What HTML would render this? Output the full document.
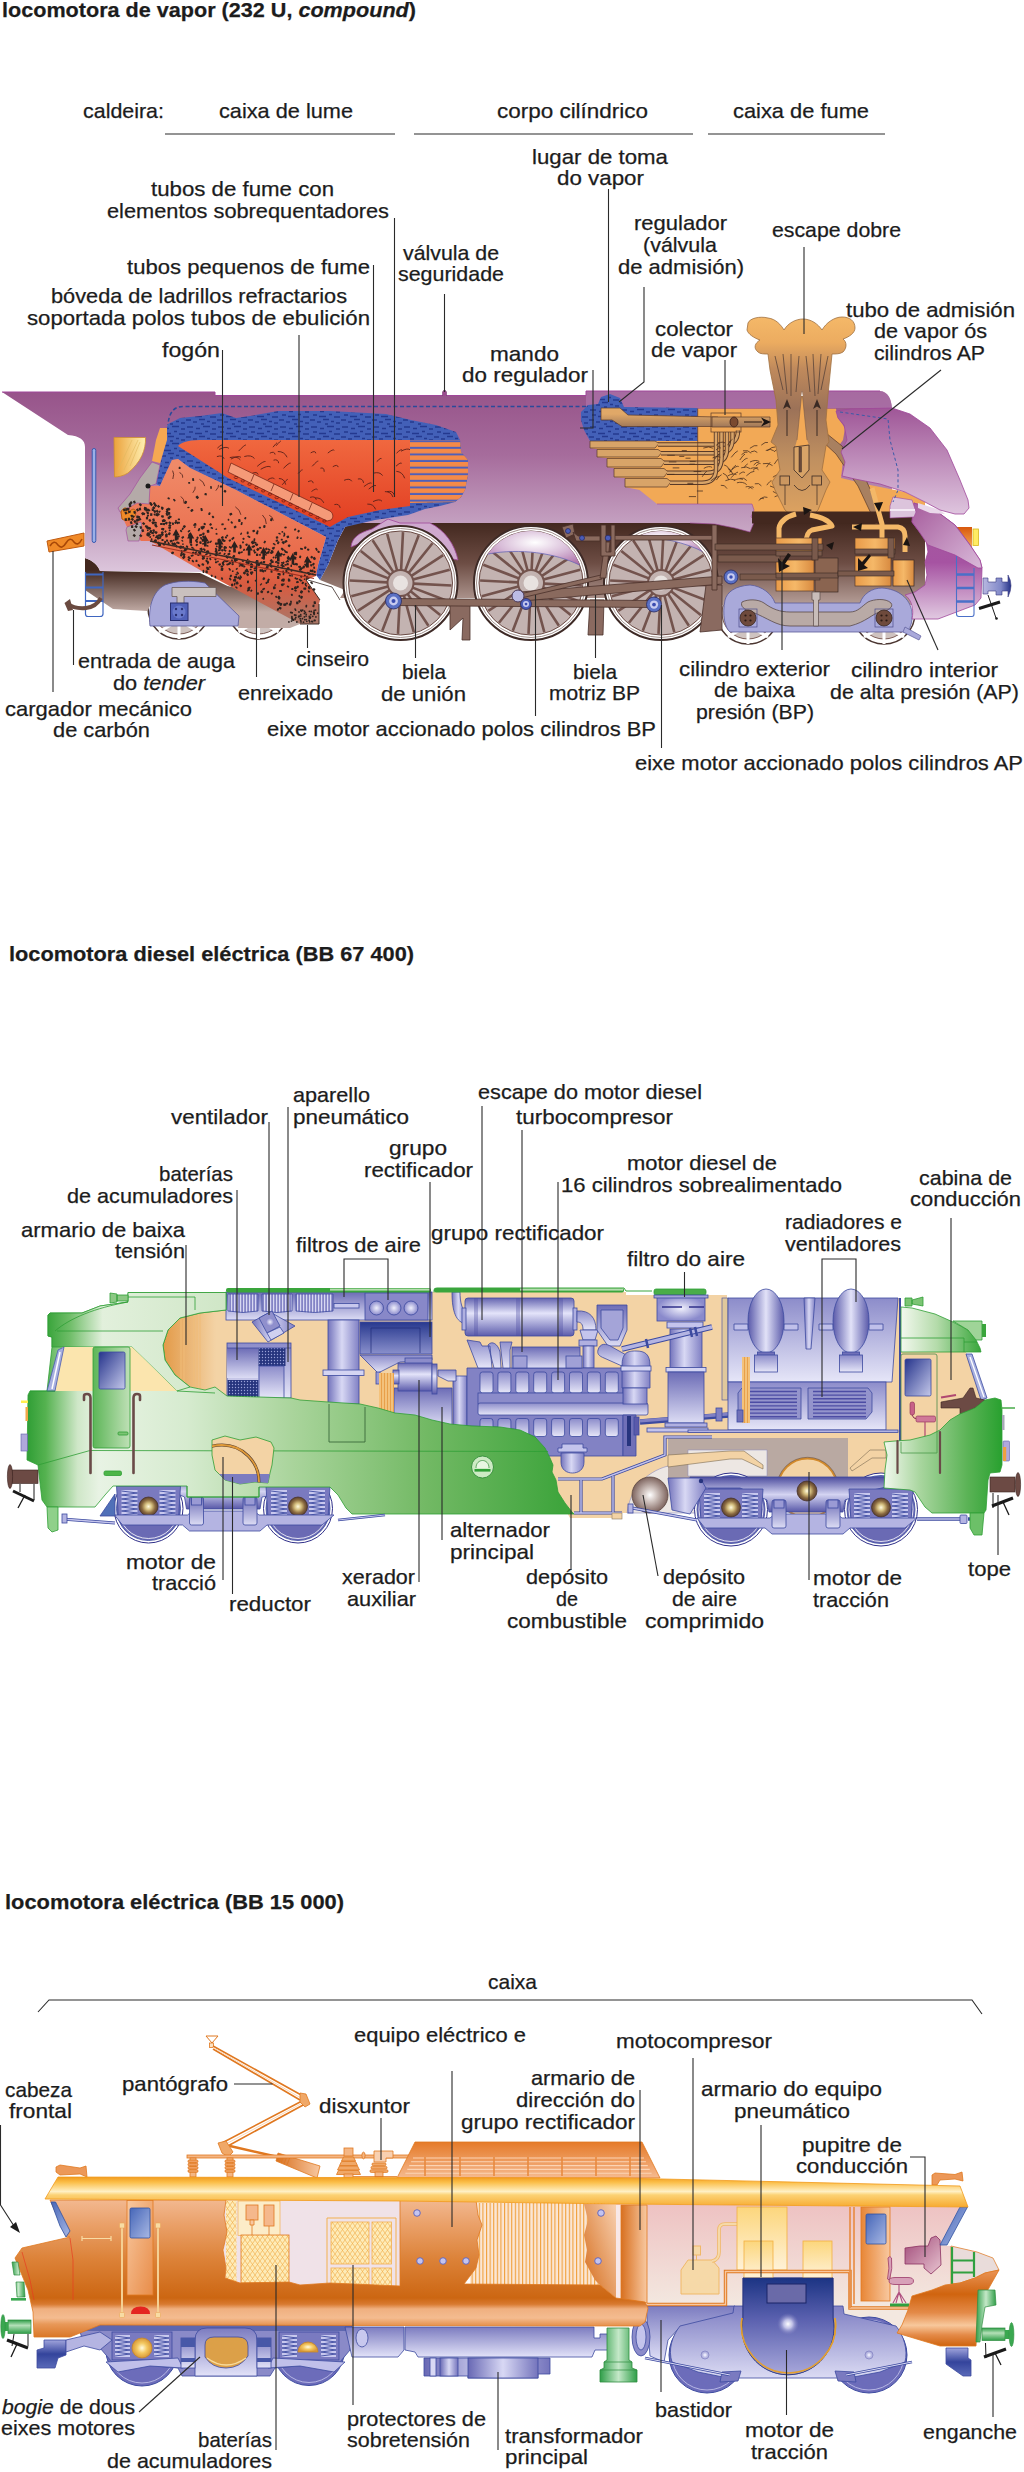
<!DOCTYPE html>
<html><head><meta charset="utf-8"><title>locomotoras</title>
<style>
html,body{margin:0;padding:0;background:#fff}
svg{display:block}
text{font-family:"Liberation Sans",sans-serif;font-size:21px;fill:#1c1c1c;stroke:#1c1c1c;stroke-width:.25px}
.b{font-weight:bold}.i{font-style:italic}.bi{font-weight:bold;font-style:italic}
.ld{fill:none;stroke:#2a2a2a;stroke-width:1.1}
</style></head><body>
<svg width="1024" height="2472" viewBox="0 0 1024 2472">
<rect width="1024" height="2472" fill="#fff"/>

<defs>
<linearGradient id="pur" x1="0" y1="392" x2="0" y2="572" gradientUnits="userSpaceOnUse"><stop offset="0" stop-color="#97548a"/><stop offset=".35" stop-color="#a66c9c"/><stop offset=".73" stop-color="#c4a0c0"/><stop offset="1" stop-color="#dcc6dc"/></linearGradient>
<linearGradient id="nose1" x1="0" y1="408" x2="0" y2="515" gradientUnits="userSpaceOnUse"><stop offset="0" stop-color="#9f5697"/><stop offset="1" stop-color="#dfc6df"/></linearGradient>
<linearGradient id="nose2" x1="0" y1="505" x2="0" y2="620" gradientUnits="userSpaceOnUse"><stop offset="0" stop-color="#a45a9e"/><stop offset=".5" stop-color="#a653a2"/><stop offset="1" stop-color="#e2cbe2"/></linearGradient>
<linearGradient id="nose2b" x1="915" y1="505" x2="980" y2="570" gradientUnits="userSpaceOnUse"><stop offset="0" stop-color="#a8609f"/><stop offset="1" stop-color="#d9b9d9"/></linearGradient>
<linearGradient id="brn" x1="0" y1="523" x2="0" y2="612" gradientUnits="userSpaceOnUse"><stop offset="0" stop-color="#43281f"/><stop offset=".45" stop-color="#6d4d44"/><stop offset="1" stop-color="#c2aca6"/></linearGradient>
<linearGradient id="brnL" x1="0" y1="570" x2="0" y2="612" gradientUnits="userSpaceOnUse"><stop offset="0" stop-color="#43281f"/><stop offset="1" stop-color="#c2aca6"/></linearGradient>
<linearGradient id="red" x1="0" y1="440" x2="0" y2="525" gradientUnits="userSpaceOnUse"><stop offset="0" stop-color="#f0683f"/><stop offset="1" stop-color="#e23e22"/></linearGradient>
<linearGradient id="coal" x1="0" y1="465" x2="0" y2="625" gradientUnits="userSpaceOnUse"><stop offset="0" stop-color="#f08a68"/><stop offset=".6" stop-color="#e96a4a"/><stop offset=".75" stop-color="#d85b40"/><stop offset="1" stop-color="#a8786a"/></linearGradient>
<linearGradient id="smk" x1="0" y1="318" x2="0" y2="520" gradientUnits="userSpaceOnUse"><stop offset="0" stop-color="#f4b868"/><stop offset=".12" stop-color="#ecac60"/><stop offset=".25" stop-color="#c08a5c"/><stop offset=".45" stop-color="#9c7258"/><stop offset=".7" stop-color="#c09060"/><stop offset="1" stop-color="#e0a460"/></linearGradient>
<linearGradient id="win" x1="114" y1="0" x2="146" y2="0" gradientUnits="userSpaceOnUse"><stop offset="0" stop-color="#eba23c"/><stop offset="1" stop-color="#fff2b4"/></linearGradient>
<linearGradient id="pipe" x1="0" y1="414" x2="0" y2="428" gradientUnits="userSpaceOnUse"><stop offset="0" stop-color="#e0a868"/><stop offset="1" stop-color="#9a7458"/></linearGradient>
<linearGradient id="cyl" x1="0" y1="0" x2="1" y2="0"><stop offset="0" stop-color="#e89a48"/><stop offset=".5" stop-color="#f5b868"/><stop offset="1" stop-color="#d88a40"/></linearGradient>
<linearGradient id="buf" x1="983" y1="0" x2="1013" y2="0" gradientUnits="userSpaceOnUse"><stop offset="0" stop-color="#b8b8e0"/><stop offset=".6" stop-color="#8088c8"/><stop offset="1" stop-color="#14227a"/></linearGradient>
<linearGradient id="lamp" x1="0" y1="527" x2="0" y2="548" gradientUnits="userSpaceOnUse"><stop offset="0" stop-color="#d8580c"/><stop offset="1" stop-color="#f4a858"/></linearGradient>
<radialGradient id="spl" cx=".5" cy=".45" r=".55"><stop offset="0" stop-color="#ffffff"/><stop offset=".5" stop-color="#d8bcd8"/><stop offset="1" stop-color="#a868a4"/></radialGradient>
<pattern id="wdash" width="31" height="17" patternUnits="userSpaceOnUse"><rect width="31" height="17" fill="#4360b8"/><path d="M1,2h6M10,3.500h4M17,1.500h7M26,4h4M3,7h4M9,8.500h7M19,6.500h3M24,9h6M0,12h5M7,14h4M13,11.500h6M21,13.500h3M26,15h4M15,16h3" stroke="#24398f" stroke-width="1.300"/></pattern>
<pattern id="stripes" width="6" height="6.6" patternUnits="userSpaceOnUse"><rect width="6" height="6.6" fill="#f58a48"/><rect y="4.6" width="6" height="2" fill="#5060b8"/></pattern>
<clipPath id="c_w1"><circle cx="400.5" cy="583" r="52"/></clipPath>
<clipPath id="c_w2"><circle cx="531" cy="583" r="52"/></clipPath>
<clipPath id="c_w3"><circle cx="661" cy="583" r="52"/></clipPath>
</defs>
<g id="loco1">
<circle cx="179" cy="608" r="31" fill="#fff" stroke="#4a3530" stroke-width="1.5"/><circle cx="179" cy="608" r="26" fill="#cfc3c0" stroke="#7d5d57" stroke-width="1"/>
<path d="M179,608v31M179,620l-20,12M179,620l20,12" stroke="#fff" stroke-width="3"/>
<circle cx="258.5" cy="608" r="31" fill="#fff" stroke="#4a3530" stroke-width="1.5"/><circle cx="258.5" cy="608" r="26" fill="#cfc3c0" stroke="#7d5d57" stroke-width="1"/>
<path d="M258.5,608v31M258.5,620l-20,12M258.5,620l20,12" stroke="#fff" stroke-width="3"/>
<circle cx="748" cy="613" r="31" fill="#fff" stroke="#4a3530" stroke-width="1.5"/><circle cx="748" cy="613" r="26" fill="#cfc3c0" stroke="#7d5d57" stroke-width="1"/>
<path d="M748,613v31M748,625l-20,12M748,625l20,12" stroke="#fff" stroke-width="3"/>
<circle cx="884" cy="613" r="31" fill="#fff" stroke="#4a3530" stroke-width="1.5"/><circle cx="884" cy="613" r="26" fill="#cfc3c0" stroke="#7d5d57" stroke-width="1"/>
<path d="M884,613v31M884,625l-20,12M884,625l20,12" stroke="#fff" stroke-width="3"/>
<path d="M338,540 L345,527 L352,523 L925,523 L925,605 L720,605 L700,598 L340,598 L345,590 L320,580 L328,565 Z" fill="url(#brn)"/>
<path d="M85,558 C92,560 98,565 100,571 L200,573 L236,590 L236,620 L150,626 C148,615 150,600 160,590 L147,611 L113,609 L85,590 Z" fill="url(#brnL)"/>
<path d="M205,583 L239,616 L238,628 L290,628 L300,624 L240,588 Z" fill="url(#brnL)"/>
<path d="M2,392 L215,392 L215,395.5 L586,395.5 L586,391 L880,391 C888,392 891,398 892,408 L892,523 L352,523 L345,527 L338,540 L328,565 L320,573 L100,571 C98,565 92,560 85,558 L85,447 C85,440 80,436 68,435 Z" fill="url(#pur)"/>
<path d="M586,391 L880,391 C888,392 891,398 892,408 L586,408 Z" fill="#b07ab0" opacity=".6"/>
<path d="M0,0" />
<path d="M2,392 L215,392 L215,395.5 L586,395.5 L586,391 L880,391" fill="none" stroke="#a0479a" stroke-width="1"/>
<path d="M586,406.5 L185,406.5 C174,406 169,412 168,425" fill="none" stroke="#2a4a9a" stroke-width="1.6" stroke-dasharray="4,2.5"/>
<path d="M351,547 C352,538 358,533 372,529 L388,519 L400,523 L430,523 C445,530 455,545 458,560 L447,558 L400,526 Z" fill="#cfa9cf" stroke="#a0479a" stroke-width=".8"/>
<circle cx="400.5" cy="583" r="57" fill="#fff" stroke="#3e2a26" stroke-width="2"/>
<circle cx="400.5" cy="583" r="54.5" fill="none" stroke="#8a7570" stroke-width=".8"/>
<circle cx="400.5" cy="583" r="52" fill="#c3b3b1" stroke="#6a4a44" stroke-width="1"/>
<path d="M413.5,583.6L451.4,585.5M412.6,587.6L448.2,601.2M410.6,591.2L440.2,615.0M407.6,593.9L428.4,625.7M403.9,595.5L413.8,632.2M399.9,596.0L398.0,633.9M395.9,595.1L382.3,630.7M392.3,593.1L368.5,622.7M389.6,590.1L357.8,610.9M388.0,586.4L351.3,596.3M387.5,582.4L349.6,580.5M388.4,578.4L352.8,564.8M390.4,574.8L360.8,551.0M393.4,572.1L372.6,540.3M397.1,570.5L387.2,533.8M401.1,570.0L403.0,532.1M405.1,570.9L418.7,535.3M408.7,572.9L432.5,543.3M411.4,575.9L443.2,555.1M413.0,579.6L449.7,569.7" stroke="#73534d" stroke-width="2.6"/>
<circle cx="400.5" cy="583" r="13" fill="#c3b3b1" stroke="#73534d" stroke-width="2"/>
<circle cx="400.5" cy="583" r="7.5" fill="#e8e2e0"/>
<circle cx="531" cy="583" r="57" fill="#fff" stroke="#3e2a26" stroke-width="2"/>
<circle cx="531" cy="583" r="54.5" fill="none" stroke="#8a7570" stroke-width=".8"/>
<circle cx="531" cy="583" r="52" fill="#c3b3b1" stroke="#6a4a44" stroke-width="1"/>
<path d="M544.0,583.6L581.9,585.5M543.1,587.6L578.7,601.2M541.1,591.2L570.7,615.0M538.1,593.9L558.9,625.7M534.4,595.5L544.3,632.2M530.4,596.0L528.5,633.9M526.4,595.1L512.8,630.7M522.8,593.1L499.0,622.7M520.1,590.1L488.3,610.9M518.5,586.4L481.8,596.3M518.0,582.4L480.1,580.5M518.9,578.4L483.3,564.8M520.9,574.8L491.3,551.0M523.9,572.1L503.1,540.3M527.6,570.5L517.7,533.8M531.6,570.0L533.5,532.1M535.6,570.9L549.2,535.3M539.2,572.9L563.0,543.3M541.9,575.9L573.7,555.1M543.5,579.6L580.2,569.7" stroke="#73534d" stroke-width="2.6"/>
<circle cx="531" cy="583" r="13" fill="#c3b3b1" stroke="#73534d" stroke-width="2"/>
<circle cx="531" cy="583" r="7.5" fill="#e8e2e0"/>
<circle cx="661" cy="583" r="57" fill="#fff" stroke="#3e2a26" stroke-width="2"/>
<circle cx="661" cy="583" r="54.5" fill="none" stroke="#8a7570" stroke-width=".8"/>
<circle cx="661" cy="583" r="52" fill="#c3b3b1" stroke="#6a4a44" stroke-width="1"/>
<path d="M674.0,583.6L711.9,585.5M673.1,587.6L708.7,601.2M671.1,591.2L700.7,615.0M668.1,593.9L688.9,625.7M664.4,595.5L674.3,632.2M660.4,596.0L658.5,633.9M656.4,595.1L642.8,630.7M652.8,593.1L629.0,622.7M650.1,590.1L618.3,610.9M648.5,586.4L611.8,596.3M648.0,582.4L610.1,580.5M648.9,578.4L613.3,564.8M650.9,574.8L621.3,551.0M653.9,572.1L633.1,540.3M657.6,570.5L647.7,533.8M661.6,570.0L663.5,532.1M665.6,570.9L679.2,535.3M669.2,572.9L693.0,543.3M671.9,575.9L703.7,555.1M673.5,579.6L710.2,569.7" stroke="#73534d" stroke-width="2.6"/>
<circle cx="661" cy="583" r="13" fill="#c3b3b1" stroke="#73534d" stroke-width="2"/>
<circle cx="661" cy="583" r="7.5" fill="#e8e2e0"/>
<g clip-path="url(#c_w2)"><path d="M470,520 L600,520 L600,570 L579.5,565 C555,553 520,548 488,554 L470,560 Z" fill="url(#spl)" stroke="#6a68b8" stroke-width=".8"/></g>
<g clip-path="url(#c_w3)"><path d="M600,520 L720,520 L720,560 L704.5,552.5 C685,542 660,537 634.5,536 L600,536 Z" fill="url(#spl)" stroke="#6a68b8" stroke-width=".8"/></g>
<g clip-path="url(#c_w1)"><path d="M352,546 C365,540 380,532 400,528 C425,532 440,540 447,556 L460,556 L460,520 L340,520 Z" fill="#cfa9cf" opacity=".0"/></g>
<path d="M450,600 L470,600 L470,640 L462,640 L463,618 L450,630 Z" fill="#8a6a60" stroke="#4a302a" stroke-width=".8"/>
<path d="M590,600 L604,600 L603,635 L588,635 Z" fill="#8a6a60" stroke="#4a302a" stroke-width=".8"/>
<path d="M706,585 L722,585 L722,630 L700,632 Z" fill="#8a6a60" stroke="#4a302a" stroke-width=".8"/>
<g stroke="#4a302a" stroke-width=".8" fill="#8a6a5e">
<path d="M393,598.5 L653,600.5 L653,607.5 L393,605.5 Z"/>
<path d="M520,592 L722,576 L722,584 L522,601 Z"/>
<path d="M520,594 L601,575 L602,579 L521,598 Z"/>
<path d="M600,578 L606,578 L610,542 L605,542 Z"/>
<path d="M608,535.5 L716,535.5 L716,540 L608,540 Z"/>
<path d="M712,525 L717,525 L717,590 L712,590 Z"/>
<path d="M562,527 L573,524 L575,534 L566,538 Z"/>
<path d="M573,532 L578,536 L600,536 L600,541 L576,541 Z"/>
<path d="M601,525 L606,525 L606,552 L611,552 L611,525 L615,525 L615,556 L601,556 Z"/>
</g>
<circle cx="393.5" cy="601" r="8" fill="#5a70c4" stroke="#2a2a60" stroke-width=".8"/>
<circle cx="393.5" cy="601" r="4.4" fill="#c8ccf0"/><circle cx="393.5" cy="601" r="2" fill="#3a4cb0"/>
<circle cx="526" cy="604" r="5.5" fill="#4a5cb8" stroke="#2a2a60" stroke-width=".8"/>
<circle cx="526" cy="604" r="3.025" fill="#c8ccf0"/><circle cx="526" cy="604" r="1.375" fill="#3a4cb0"/>
<circle cx="654" cy="604.5" r="7.5" fill="#5a70c4" stroke="#2a2a60" stroke-width=".8"/>
<circle cx="654" cy="604.5" r="4.125" fill="#c8ccf0"/><circle cx="654" cy="604.5" r="1.875" fill="#3a4cb0"/>
<circle cx="568" cy="531" r="2.5" fill="#4a5cb8" stroke="#2a2a60" stroke-width=".8"/>
<circle cx="582" cy="538" r="2.5" fill="#4a5cb8" stroke="#2a2a60" stroke-width=".8"/>
<circle cx="608" cy="538" r="2.8" fill="#4a5cb8" stroke="#2a2a60" stroke-width=".8"/>
<circle cx="731" cy="577" r="7" fill="#5a70c4" stroke="#2a2a60" stroke-width=".8"/>
<circle cx="731" cy="577" r="3.85" fill="#c8ccf0"/><circle cx="731" cy="577" r="1.75" fill="#3a4cb0"/>
<circle cx="518" cy="596" r="6" fill="#bcbce4" stroke="#4a3a5a" stroke-width="1"/>
<path d="M166,430 L168,424 L180,418 L200,416 L222,413 L236,418 L250,416 L278,411 L330,411 L386,414 L411,420 L436,425 L456,432 L460,440 L461,452 L468,460 L468,475 L465,490 L461,497 L455,502 L440,506 L425,509 L408,515 L375,520 L345,527 L338,540 L328,565 L320,580 L316,575 L318,565 L326,537 L236,490 L190,468 L178,459 L172,460 L165,475 L160,486 L156,484 L160,465 L165,445 Z" fill="url(#wdash)"/>
<path d="M178,446 C183,441 190,440 205,440 L410,440 L410,506 L380,510 L348,517 L335,524 L330,527 L228,478 Z" fill="url(#red)"/>
<path d="M269.8,453.2q4.6,-2.4 5.3,1.3M312.2,466.3q5.1,-5.6 6.1,-5.2M219.0,449.5q6.9,-3.6 9.9,-1.2M229.8,457.6q7.2,-1.9 10.5,2.2M320.4,468.2q3.9,-1.2 3.8,3.6M376.7,461.7q4.4,-4.5 4.8,-3.1M332.8,466.7q4.7,-2.8 5.4,0.4M216.9,456.6q5.6,-1.9 7.3,2.2M267.8,479.7q5.4,-3.3 6.8,-0.5M363.9,486.6q5.9,-4.7 7.7,-3.4M310.0,497.4q5.1,-1.8 6.3,2.4M401.0,451.2q6.7,-3.6 9.5,-1.2M357.9,479.0q4.8,-1.1 5.7,3.9M344.1,480.3q5.8,-2.5 7.7,1.0M373.0,501.6q6.5,-3.2 9.0,-0.4M334.4,504.6q4.9,-1.3 5.8,3.3M282.2,484.8q4.8,-5.7 5.6,-5.4M238.6,451.1q5.7,-6.1 7.3,-6.2M230.9,459.1q7.0,-3.9 10.1,-1.8M314.9,497.9q6.4,-0.5 8.9,5.0M260.7,469.3q7.0,-4.2 10.0,-2.3M396.5,453.2q4.8,-4.6 5.6,-3.2M251.7,473.6q5.3,-2.5 6.5,0.9M278.9,478.5q5.4,0.0 6.8,6.1M308.1,481.7q4.6,-2.3 5.1,1.5M384.9,491.6q6.0,-0.2 8.1,5.5M283.5,468.3q5.5,-5.6 7.1,-5.2M217.4,448.1q4.7,-4.3 5.3,-2.7M273.0,447.2q4.1,-5.1 4.1,-4.2M327.8,453.1q5.3,-4.4 6.5,-2.7M277.8,451.5q6.6,-0.1 9.3,5.8M298.2,473.5q4.2,-4.7 4.4,-3.5M273.5,460.2q4.6,-1.5 5.2,3.0M310.7,452.9q4.6,-2.8 5.1,0.4M310.6,503.7q5.8,-0.5 7.7,5.0M257.2,466.4q6.1,-5.4 8.3,-4.9M311.5,491.5q5.1,-3.9 6.1,-1.7M367.3,504.1q6.2,-0.4 8.3,5.3M368.7,489.1q5.7,-4.7 7.3,-3.4M276.1,445.8q4.4,-5.3 4.9,-4.6M396.3,471.3q6.2,0.5 8.4,7.0M396.0,466.2q4.9,-4.4 5.7,-2.8M244.3,456.5q7.1,-2.0 10.2,2.1M373.1,473.2q6.8,-1.8 9.5,2.4M387.0,491.7q5.6,-1.5 7.2,3.1" fill="none" stroke="#5a2018" stroke-width=".9"/>
<path d="M410,440 L460,440 L461,452 L468,460 L468,475 L465,490 L461,497 L455,502 L410,503 Z" fill="url(#stripes)"/>
<path d="M231,463 L330,511 C333,513 334,517 331,520 L327,521 L228,472 Z" fill="#f59a78" stroke="#7a2a1a" stroke-width=".8"/>
<path d="M254,474.5l-3,7M274,484l-3,7M293,493.5l-3,7M312,503l-3,7" stroke="#7a2a1a" stroke-width=".8"/>
<ellipse cx="236.0" cy="477.5" rx="1.8" ry="1.1" fill="none" stroke="#6a1a10" stroke-width=".7"/><ellipse cx="242.8" cy="480.9" rx="1.8" ry="1.1" fill="none" stroke="#6a1a10" stroke-width=".7"/><ellipse cx="249.6" cy="484.2" rx="1.8" ry="1.1" fill="none" stroke="#6a1a10" stroke-width=".7"/><ellipse cx="256.4" cy="487.6" rx="1.8" ry="1.1" fill="none" stroke="#6a1a10" stroke-width=".7"/><ellipse cx="263.2" cy="490.9" rx="1.8" ry="1.1" fill="none" stroke="#6a1a10" stroke-width=".7"/><ellipse cx="270.0" cy="494.2" rx="1.8" ry="1.1" fill="none" stroke="#6a1a10" stroke-width=".7"/><ellipse cx="276.8" cy="497.6" rx="1.8" ry="1.1" fill="none" stroke="#6a1a10" stroke-width=".7"/><ellipse cx="283.6" cy="500.9" rx="1.8" ry="1.1" fill="none" stroke="#6a1a10" stroke-width=".7"/><ellipse cx="290.4" cy="504.3" rx="1.8" ry="1.1" fill="none" stroke="#6a1a10" stroke-width=".7"/><ellipse cx="297.2" cy="507.6" rx="1.8" ry="1.1" fill="none" stroke="#6a1a10" stroke-width=".7"/><ellipse cx="304.0" cy="511.0" rx="1.8" ry="1.1" fill="none" stroke="#6a1a10" stroke-width=".7"/><ellipse cx="310.8" cy="514.4" rx="1.8" ry="1.1" fill="none" stroke="#6a1a10" stroke-width=".7"/><ellipse cx="317.6" cy="517.7" rx="1.8" ry="1.1" fill="none" stroke="#6a1a10" stroke-width=".7"/><ellipse cx="324.4" cy="521.0" rx="1.8" ry="1.1" fill="none" stroke="#6a1a10" stroke-width=".7"/>
<path d="M172,460 L178,459 L190,468 L236,490 L326,537 L318,565 L316,576 L306,580 L320,600 L319,604 L319,624 L300,624 L200,570 L150,541 L141,541 L127,527 L120,512 L137,503 L149,504 L150,486 L160,486 L165,475 Z" fill="url(#coal)"/>
<path d="M152,462 L160,465 L156,484 L150,486 L149,504 L137,503 L120,512 L118,508 L130,494 L140,478 Z" fill="#b4aaa8" stroke="#a0479a" stroke-width=".6"/>
<path d="M127,527 L141,522 L142,528 L139,541 L128,541 L126,530 Z" fill="#b4aaa8" stroke="#a0479a" stroke-width=".6"/>
<path d="M160,428 L167,428 L167,440 L160,463 L152,461 L156,440 Z" fill="#f5a852"/>
<circle cx="148" cy="486" r="2.5" fill="#1a1a1a"/>
<path d="M121,512 C124,505 130,508 128,514 C132,506 138,509 135,516 C133,520 126,522 122,519 Z" fill="#f08a28" stroke="#b85a10" stroke-width="1"/>
<g fill="#2e2420"><rect x="303.3" y="591.3" width="2.9" height="2.6" rx=".6" transform="rotate(118 303.3 591.3)"/><rect x="194.0" y="547.7" width="1.6" height="2.6" rx=".6" transform="rotate(117 194.0 547.7)"/><rect x="211.7" y="485.9" width="2.9" height="1.6" rx=".6" transform="rotate(85 211.7 485.9)"/><rect x="267.9" y="549.0" width="2.4" height="2.1" rx=".6" transform="rotate(141 267.9 549.0)"/><rect x="149.0" y="529.7" width="2.0" height="1.5" rx=".6" transform="rotate(121 149.0 529.7)"/><rect x="279.4" y="606.6" width="2.7" height="2.2" rx=".6" transform="rotate(26 279.4 606.6)"/><rect x="210.0" y="542.1" width="1.9" height="1.8" rx=".6" transform="rotate(130 210.0 542.1)"/><rect x="190.3" y="560.4" width="1.7" height="2.6" rx=".6" transform="rotate(142 190.3 560.4)"/><rect x="237.4" y="573.4" width="1.7" height="2.2" rx=".6" transform="rotate(77 237.4 573.4)"/><rect x="250.0" y="590.5" width="3.0" height="1.5" rx=".6" transform="rotate(155 250.0 590.5)"/><rect x="182.1" y="539.5" width="2.2" height="1.4" rx=".6" transform="rotate(45 182.1 539.5)"/><rect x="289.0" y="574.4" width="2.2" height="1.8" rx=".6" transform="rotate(10 289.0 574.4)"/><rect x="316.6" y="547.5" width="3.1" height="1.8" rx=".6" transform="rotate(64 316.6 547.5)"/><rect x="218.5" y="540.0" width="2.4" height="1.4" rx=".6" transform="rotate(48 218.5 540.0)"/><rect x="269.6" y="592.3" width="2.4" height="2.0" rx=".6" transform="rotate(150 269.6 592.3)"/><rect x="300.9" y="570.4" width="2.0" height="1.4" rx=".6" transform="rotate(24 300.9 570.4)"/><rect x="248.4" y="570.0" width="1.6" height="2.4" rx=".6" transform="rotate(135 248.4 570.0)"/><rect x="185.0" y="551.0" width="1.7" height="1.7" rx=".6" transform="rotate(121 185.0 551.0)"/><rect x="261.4" y="569.2" width="2.4" height="2.0" rx=".6" transform="rotate(84 261.4 569.2)"/><rect x="301.8" y="537.2" width="1.6" height="2.0" rx=".6" transform="rotate(81 301.8 537.2)"/><rect x="307.5" y="575.5" width="2.1" height="1.8" rx=".6" transform="rotate(71 307.5 575.5)"/><rect x="196.1" y="527.3" width="1.7" height="1.5" rx=".6" transform="rotate(150 196.1 527.3)"/><rect x="184.3" y="549.2" width="1.9" height="1.6" rx=".6" transform="rotate(37 184.3 549.2)"/><rect x="292.2" y="602.5" width="1.7" height="2.3" rx=".6" transform="rotate(161 292.2 602.5)"/><rect x="218.2" y="554.2" width="2.2" height="2.5" rx=".6" transform="rotate(149 218.2 554.2)"/><rect x="267.2" y="564.4" width="2.3" height="2.1" rx=".6" transform="rotate(7 267.2 564.4)"/><rect x="306.2" y="564.1" width="1.8" height="1.7" rx=".6" transform="rotate(115 306.2 564.1)"/><rect x="314.2" y="574.1" width="1.6" height="2.0" rx=".6" transform="rotate(121 314.2 574.1)"/><rect x="207.8" y="570.4" width="2.9" height="2.3" rx=".6" transform="rotate(91 207.8 570.4)"/><rect x="153.8" y="521.5" width="3.2" height="1.6" rx=".6" transform="rotate(9 153.8 521.5)"/><rect x="190.3" y="483.6" width="2.0" height="1.8" rx=".6" transform="rotate(172 190.3 483.6)"/><rect x="286.9" y="528.1" width="2.4" height="1.8" rx=".6" transform="rotate(166 286.9 528.1)"/><rect x="284.9" y="584.6" width="1.7" height="1.5" rx=".6" transform="rotate(166 284.9 584.6)"/><rect x="187.3" y="501.6" width="2.8" height="2.5" rx=".6" transform="rotate(114 187.3 501.6)"/><rect x="277.2" y="557.6" width="2.1" height="1.8" rx=".6" transform="rotate(141 277.2 557.6)"/><rect x="242.4" y="559.8" width="2.2" height="1.6" rx=".6" transform="rotate(37 242.4 559.8)"/><rect x="233.4" y="563.0" width="1.9" height="2.2" rx=".6" transform="rotate(74 233.4 563.0)"/><rect x="186.5" y="550.7" width="2.3" height="2.4" rx=".6" transform="rotate(179 186.5 550.7)"/><rect x="198.1" y="540.3" width="2.1" height="2.0" rx=".6" transform="rotate(167 198.1 540.3)"/><rect x="235.8" y="583.0" width="2.9" height="1.5" rx=".6" transform="rotate(108 235.8 583.0)"/><rect x="233.4" y="561.0" width="2.3" height="2.1" rx=".6" transform="rotate(77 233.4 561.0)"/><rect x="278.7" y="532.5" width="2.4" height="1.5" rx=".6" transform="rotate(23 278.7 532.5)"/><rect x="212.1" y="541.2" width="2.6" height="1.5" rx=".6" transform="rotate(132 212.1 541.2)"/><rect x="278.2" y="541.4" width="2.4" height="1.9" rx=".6" transform="rotate(171 278.2 541.4)"/><rect x="247.9" y="535.3" width="3.1" height="1.7" rx=".6" transform="rotate(27 247.9 535.3)"/><rect x="296.6" y="587.2" width="2.0" height="1.4" rx=".6" transform="rotate(116 296.6 587.2)"/><rect x="279.2" y="575.9" width="3.0" height="2.3" rx=".6" transform="rotate(84 279.2 575.9)"/><rect x="311.1" y="581.1" width="3.0" height="1.8" rx=".6" transform="rotate(43 311.1 581.1)"/><rect x="267.8" y="551.4" width="1.9" height="2.1" rx=".6" transform="rotate(14 267.8 551.4)"/><rect x="286.5" y="605.6" width="3.0" height="2.5" rx=".6" transform="rotate(170 286.5 605.6)"/><rect x="287.5" y="561.7" width="1.8" height="1.5" rx=".6" transform="rotate(136 287.5 561.7)"/><rect x="161.4" y="538.6" width="2.9" height="1.7" rx=".6" transform="rotate(170 161.4 538.6)"/><rect x="280.2" y="572.8" width="2.6" height="1.8" rx=".6" transform="rotate(72 280.2 572.8)"/><rect x="171.0" y="532.9" width="2.8" height="2.3" rx=".6" transform="rotate(116 171.0 532.9)"/><rect x="193.7" y="510.2" width="2.9" height="2.2" rx=".6" transform="rotate(134 193.7 510.2)"/><rect x="263.5" y="597.6" width="1.8" height="1.7" rx=".6" transform="rotate(59 263.5 597.6)"/><rect x="281.6" y="578.9" width="1.9" height="2.2" rx=".6" transform="rotate(19 281.6 578.9)"/><rect x="165.7" y="520.6" width="2.2" height="2.3" rx=".6" transform="rotate(125 165.7 520.6)"/><rect x="223.6" y="561.9" width="1.8" height="2.1" rx=".6" transform="rotate(73 223.6 561.9)"/><rect x="209.7" y="552.0" width="2.3" height="1.7" rx=".6" transform="rotate(130 209.7 552.0)"/><rect x="292.9" y="569.9" width="2.3" height="1.8" rx=".6" transform="rotate(113 292.9 569.9)"/><rect x="265.5" y="561.4" width="2.3" height="1.9" rx=".6" transform="rotate(112 265.5 561.4)"/><rect x="179.0" y="522.5" width="2.3" height="1.9" rx=".6" transform="rotate(126 179.0 522.5)"/><rect x="217.4" y="550.0" width="3.1" height="1.8" rx=".6" transform="rotate(115 217.4 550.0)"/><rect x="183.0" y="547.7" width="2.9" height="1.8" rx=".6" transform="rotate(153 183.0 547.7)"/><rect x="177.7" y="518.6" width="2.3" height="1.6" rx=".6" transform="rotate(0 177.7 518.6)"/><rect x="209.4" y="562.7" width="2.2" height="2.5" rx=".6" transform="rotate(154 209.4 562.7)"/><rect x="303.4" y="587.5" width="2.9" height="2.2" rx=".6" transform="rotate(3 303.4 587.5)"/><rect x="280.3" y="596.8" width="2.7" height="2.0" rx=".6" transform="rotate(134 280.3 596.8)"/><rect x="152.4" y="538.3" width="2.3" height="1.6" rx=".6" transform="rotate(88 152.4 538.3)"/><rect x="217.2" y="550.1" width="2.9" height="1.8" rx=".6" transform="rotate(75 217.2 550.1)"/><rect x="250.5" y="562.5" width="2.6" height="2.2" rx=".6" transform="rotate(168 250.5 562.5)"/><rect x="250.1" y="587.5" width="2.8" height="2.5" rx=".6" transform="rotate(98 250.1 587.5)"/><rect x="246.5" y="560.9" width="2.6" height="2.2" rx=".6" transform="rotate(38 246.5 560.9)"/><rect x="305.1" y="565.8" width="2.9" height="2.3" rx=".6" transform="rotate(101 305.1 565.8)"/><rect x="197.4" y="552.2" width="2.7" height="1.6" rx=".6" transform="rotate(144 197.4 552.2)"/><rect x="288.8" y="556.6" width="2.3" height="2.5" rx=".6" transform="rotate(68 288.8 556.6)"/><rect x="208.2" y="554.1" width="3.0" height="1.5" rx=".6" transform="rotate(150 208.2 554.1)"/><rect x="284.0" y="570.7" width="2.2" height="1.5" rx=".6" transform="rotate(100 284.0 570.7)"/><rect x="258.5" y="533.6" width="2.0" height="2.3" rx=".6" transform="rotate(142 258.5 533.6)"/><rect x="283.9" y="585.5" width="2.5" height="2.5" rx=".6" transform="rotate(159 283.9 585.5)"/><rect x="204.3" y="542.4" width="1.7" height="2.6" rx=".6" transform="rotate(67 204.3 542.4)"/><rect x="220.8" y="550.9" width="2.8" height="1.9" rx=".6" transform="rotate(170 220.8 550.9)"/><rect x="242.8" y="522.2" width="3.1" height="1.7" rx=".6" transform="rotate(102 242.8 522.2)"/><rect x="303.2" y="596.5" width="2.9" height="2.3" rx=".6" transform="rotate(116 303.2 596.5)"/><rect x="310.1" y="569.4" width="2.5" height="2.3" rx=".6" transform="rotate(19 310.1 569.4)"/><rect x="152.5" y="530.6" width="3.1" height="2.4" rx=".6" transform="rotate(113 152.5 530.6)"/><rect x="219.1" y="561.2" width="2.0" height="1.5" rx=".6" transform="rotate(128 219.1 561.2)"/><rect x="158.1" y="538.0" width="3.0" height="1.5" rx=".6" transform="rotate(176 158.1 538.0)"/><rect x="289.0" y="544.0" width="2.3" height="2.5" rx=".6" transform="rotate(39 289.0 544.0)"/><rect x="244.9" y="538.7" width="1.9" height="2.1" rx=".6" transform="rotate(127 244.9 538.7)"/><rect x="284.9" y="553.5" width="1.7" height="2.3" rx=".6" transform="rotate(73 284.9 553.5)"/><rect x="229.5" y="545.8" width="3.1" height="1.7" rx=".6" transform="rotate(33 229.5 545.8)"/><rect x="243.1" y="552.4" width="2.7" height="1.5" rx=".6" transform="rotate(157 243.1 552.4)"/><rect x="237.8" y="581.2" width="2.9" height="2.5" rx=".6" transform="rotate(70 237.8 581.2)"/><rect x="208.2" y="561.9" width="2.4" height="1.5" rx=".6" transform="rotate(78 208.2 561.9)"/><rect x="216.9" y="545.2" width="1.8" height="1.6" rx=".6" transform="rotate(53 216.9 545.2)"/><rect x="290.4" y="558.1" width="2.6" height="1.6" rx=".6" transform="rotate(128 290.4 558.1)"/><rect x="215.8" y="547.6" width="2.4" height="1.8" rx=".6" transform="rotate(44 215.8 547.6)"/><rect x="168.7" y="541.6" width="2.5" height="1.4" rx=".6" transform="rotate(63 168.7 541.6)"/><rect x="234.7" y="538.0" width="3.2" height="1.8" rx=".6" transform="rotate(139 234.7 538.0)"/><rect x="296.6" y="529.4" width="2.2" height="1.9" rx=".6" transform="rotate(132 296.6 529.4)"/><rect x="296.9" y="557.6" width="2.3" height="1.9" rx=".6" transform="rotate(130 296.9 557.6)"/><rect x="161.3" y="506.4" width="2.5" height="2.1" rx=".6" transform="rotate(16 161.3 506.4)"/><rect x="258.3" y="543.8" width="2.2" height="1.9" rx=".6" transform="rotate(101 258.3 543.8)"/><rect x="287.7" y="541.6" width="3.0" height="2.2" rx=".6" transform="rotate(148 287.7 541.6)"/><rect x="225.8" y="540.3" width="1.9" height="2.2" rx=".6" transform="rotate(109 225.8 540.3)"/><rect x="163.7" y="539.1" width="2.0" height="2.2" rx=".6" transform="rotate(96 163.7 539.1)"/><rect x="158.6" y="543.3" width="2.6" height="2.4" rx=".6" transform="rotate(11 158.6 543.3)"/><rect x="211.6" y="559.8" width="1.7" height="2.5" rx=".6" transform="rotate(154 211.6 559.8)"/><rect x="182.3" y="549.9" width="2.5" height="1.9" rx=".6" transform="rotate(73 182.3 549.9)"/><rect x="226.1" y="546.7" width="2.8" height="1.9" rx=".6" transform="rotate(118 226.1 546.7)"/><rect x="151.0" y="501.7" width="2.7" height="2.2" rx=".6" transform="rotate(63 151.0 501.7)"/><rect x="194.4" y="561.3" width="1.8" height="2.5" rx=".6" transform="rotate(132 194.4 561.3)"/><rect x="289.4" y="586.2" width="1.7" height="2.4" rx=".6" transform="rotate(109 289.4 586.2)"/><rect x="248.7" y="531.5" width="2.7" height="1.9" rx=".6" transform="rotate(92 248.7 531.5)"/><rect x="263.4" y="591.2" width="2.5" height="2.6" rx=".6" transform="rotate(115 263.4 591.2)"/><rect x="195.5" y="524.6" width="2.1" height="1.6" rx=".6" transform="rotate(127 195.5 524.6)"/><rect x="172.6" y="542.1" width="3.1" height="1.8" rx=".6" transform="rotate(54 172.6 542.1)"/><rect x="233.0" y="583.5" width="2.7" height="2.1" rx=".6" transform="rotate(83 233.0 583.5)"/><rect x="275.9" y="595.5" width="2.1" height="1.8" rx=".6" transform="rotate(37 275.9 595.5)"/><rect x="188.9" y="534.2" width="1.9" height="1.5" rx=".6" transform="rotate(2 188.9 534.2)"/><rect x="318.1" y="550.3" width="2.4" height="1.9" rx=".6" transform="rotate(34 318.1 550.3)"/><rect x="306.2" y="563.9" width="3.1" height="2.2" rx=".6" transform="rotate(45 306.2 563.9)"/><rect x="236.7" y="561.2" width="2.7" height="2.5" rx=".6" transform="rotate(170 236.7 561.2)"/><rect x="222.4" y="539.4" width="2.1" height="2.1" rx=".6" transform="rotate(14 222.4 539.4)"/><rect x="293.5" y="588.0" width="2.1" height="2.2" rx=".6" transform="rotate(93 293.5 588.0)"/><rect x="258.7" y="530.6" width="2.7" height="1.8" rx=".6" transform="rotate(105 258.7 530.6)"/><rect x="207.0" y="544.6" width="2.2" height="1.5" rx=".6" transform="rotate(32 207.0 544.6)"/><rect x="300.3" y="547.6" width="3.0" height="1.7" rx=".6" transform="rotate(17 300.3 547.6)"/><rect x="235.9" y="586.0" width="2.8" height="1.5" rx=".6" transform="rotate(43 235.9 586.0)"/><rect x="259.1" y="594.5" width="2.2" height="2.3" rx=".6" transform="rotate(171 259.1 594.5)"/><rect x="297.0" y="590.3" width="1.9" height="2.4" rx=".6" transform="rotate(122 297.0 590.3)"/><rect x="202.3" y="535.4" width="3.0" height="1.9" rx=".6" transform="rotate(157 202.3 535.4)"/><rect x="178.8" y="539.5" width="2.5" height="2.0" rx=".6" transform="rotate(172 178.8 539.5)"/><rect x="277.5" y="562.0" width="2.2" height="1.7" rx=".6" transform="rotate(143 277.5 562.0)"/><rect x="194.0" y="548.1" width="1.7" height="1.8" rx=".6" transform="rotate(58 194.0 548.1)"/><rect x="193.8" y="477.9" width="3.0" height="1.9" rx=".6" transform="rotate(80 193.8 477.9)"/><rect x="168.0" y="522.5" width="2.6" height="2.4" rx=".6" transform="rotate(117 168.0 522.5)"/><rect x="314.7" y="556.6" width="2.9" height="2.5" rx=".6" transform="rotate(61 314.7 556.6)"/><rect x="275.4" y="586.1" width="2.8" height="2.6" rx=".6" transform="rotate(82 275.4 586.1)"/><rect x="223.9" y="548.8" width="3.1" height="1.8" rx=".6" transform="rotate(27 223.9 548.8)"/><rect x="223.3" y="562.5" width="2.9" height="2.0" rx=".6" transform="rotate(58 223.3 562.5)"/><rect x="311.2" y="561.0" width="2.0" height="1.7" rx=".6" transform="rotate(78 311.2 561.0)"/><rect x="273.1" y="594.1" width="2.1" height="2.0" rx=".6" transform="rotate(160 273.1 594.1)"/><rect x="278.6" y="600.9" width="3.0" height="2.6" rx=".6" transform="rotate(54 278.6 600.9)"/><rect x="299.0" y="578.6" width="1.9" height="1.7" rx=".6" transform="rotate(12 299.0 578.6)"/><rect x="205.4" y="549.1" width="1.6" height="2.2" rx=".6" transform="rotate(118 205.4 549.1)"/><rect x="279.4" y="608.5" width="2.7" height="1.8" rx=".6" transform="rotate(116 279.4 608.5)"/><rect x="249.0" y="580.6" width="2.7" height="1.9" rx=".6" transform="rotate(95 249.0 580.6)"/><rect x="245.7" y="569.4" width="2.6" height="2.1" rx=".6" transform="rotate(40 245.7 569.4)"/><rect x="301.1" y="601.7" width="2.2" height="2.4" rx=".6" transform="rotate(147 301.1 601.7)"/><rect x="246.7" y="517.8" width="2.3" height="1.8" rx=".6" transform="rotate(128 246.7 517.8)"/><rect x="200.9" y="552.8" width="1.9" height="2.6" rx=".6" transform="rotate(128 200.9 552.8)"/><rect x="257.1" y="580.1" width="1.7" height="2.2" rx=".6" transform="rotate(100 257.1 580.1)"/><rect x="276.5" y="585.1" width="2.0" height="1.5" rx=".6" transform="rotate(147 276.5 585.1)"/><rect x="273.4" y="550.4" width="2.7" height="2.3" rx=".6" transform="rotate(87 273.4 550.4)"/><rect x="285.9" y="602.4" width="2.1" height="2.0" rx=".6" transform="rotate(1 285.9 602.4)"/><rect x="221.3" y="553.7" width="2.9" height="1.6" rx=".6" transform="rotate(165 221.3 553.7)"/><rect x="186.9" y="545.1" width="2.5" height="1.8" rx=".6" transform="rotate(49 186.9 545.1)"/><rect x="206.7" y="566.4" width="3.0" height="2.2" rx=".6" transform="rotate(28 206.7 566.4)"/><rect x="187.8" y="549.7" width="3.1" height="1.8" rx=".6" transform="rotate(151 187.8 549.7)"/><rect x="209.7" y="569.7" width="2.9" height="1.5" rx=".6" transform="rotate(166 209.7 569.7)"/><rect x="190.6" y="531.0" width="2.8" height="1.6" rx=".6" transform="rotate(142 190.6 531.0)"/><rect x="242.3" y="533.0" width="2.4" height="1.5" rx=".6" transform="rotate(116 242.3 533.0)"/><rect x="297.1" y="536.2" width="1.8" height="2.5" rx=".6" transform="rotate(21 297.1 536.2)"/><rect x="222.7" y="545.6" width="2.3" height="1.6" rx=".6" transform="rotate(96 222.7 545.6)"/><rect x="237.4" y="571.4" width="2.8" height="1.6" rx=".6" transform="rotate(48 237.4 571.4)"/><rect x="279.5" y="575.1" width="2.0" height="2.1" rx=".6" transform="rotate(177 279.5 575.1)"/><rect x="206.2" y="523.8" width="2.0" height="2.3" rx=".6" transform="rotate(122 206.2 523.8)"/><rect x="154.8" y="513.2" width="1.9" height="1.7" rx=".6" transform="rotate(60 154.8 513.2)"/><rect x="315.3" y="568.7" width="1.8" height="2.4" rx=".6" transform="rotate(169 315.3 568.7)"/><rect x="283.0" y="554.8" width="2.9" height="2.3" rx=".6" transform="rotate(157 283.0 554.8)"/><rect x="164.0" y="532.4" width="2.4" height="2.5" rx=".6" transform="rotate(123 164.0 532.4)"/><rect x="207.5" y="557.2" width="2.1" height="1.7" rx=".6" transform="rotate(64 207.5 557.2)"/><rect x="291.4" y="559.7" width="1.7" height="1.7" rx=".6" transform="rotate(126 291.4 559.7)"/><rect x="301.1" y="567.6" width="2.6" height="1.9" rx=".6" transform="rotate(172 301.1 567.6)"/><rect x="259.7" y="549.2" width="2.8" height="2.5" rx=".6" transform="rotate(131 259.7 549.2)"/><rect x="240.7" y="552.5" width="2.2" height="2.3" rx=".6" transform="rotate(115 240.7 552.5)"/><rect x="182.4" y="547.0" width="3.2" height="2.2" rx=".6" transform="rotate(145 182.4 547.0)"/><rect x="264.8" y="571.8" width="1.9" height="2.1" rx=".6" transform="rotate(149 264.8 571.8)"/><rect x="250.5" y="586.6" width="1.8" height="2.3" rx=".6" transform="rotate(85 250.5 586.6)"/><rect x="256.6" y="552.7" width="2.5" height="1.7" rx=".6" transform="rotate(152 256.6 552.7)"/><rect x="280.3" y="596.7" width="2.7" height="2.3" rx=".6" transform="rotate(90 280.3 596.7)"/><rect x="263.6" y="558.5" width="1.7" height="2.1" rx=".6" transform="rotate(148 263.6 558.5)"/><rect x="203.8" y="541.5" width="2.0" height="2.4" rx=".6" transform="rotate(179 203.8 541.5)"/><rect x="162.4" y="523.1" width="1.9" height="2.3" rx=".6" transform="rotate(93 162.4 523.1)"/><rect x="306.2" y="577.1" width="1.7" height="1.6" rx=".6" transform="rotate(2 306.2 577.1)"/><rect x="295.1" y="577.0" width="2.0" height="1.8" rx=".6" transform="rotate(29 295.1 577.0)"/><rect x="283.5" y="531.9" width="1.8" height="1.6" rx=".6" transform="rotate(140 283.5 531.9)"/><rect x="240.3" y="519.0" width="2.9" height="2.3" rx=".6" transform="rotate(83 240.3 519.0)"/><rect x="220.5" y="563.1" width="2.0" height="2.5" rx=".6" transform="rotate(69 220.5 563.1)"/><rect x="214.9" y="554.0" width="2.7" height="1.9" rx=".6" transform="rotate(12 214.9 554.0)"/><rect x="253.0" y="572.0" width="1.8" height="2.5" rx=".6" transform="rotate(108 253.0 572.0)"/><rect x="157.1" y="541.5" width="2.9" height="2.5" rx=".6" transform="rotate(165 157.1 541.5)"/><rect x="224.0" y="559.8" width="2.9" height="1.5" rx=".6" transform="rotate(10 224.0 559.8)"/><rect x="284.9" y="532.4" width="2.6" height="1.6" rx=".6" transform="rotate(77 284.9 532.4)"/><rect x="232.6" y="514.6" width="2.8" height="2.4" rx=".6" transform="rotate(153 232.6 514.6)"/><rect x="205.3" y="558.3" width="3.1" height="2.3" rx=".6" transform="rotate(143 205.3 558.3)"/><rect x="212.0" y="574.4" width="2.1" height="1.8" rx=".6" transform="rotate(58 212.0 574.4)"/><rect x="174.2" y="524.7" width="2.0" height="2.5" rx=".6" transform="rotate(166 174.2 524.7)"/><rect x="229.6" y="564.8" width="3.1" height="1.9" rx=".6" transform="rotate(164 229.6 564.8)"/><rect x="174.0" y="498.5" width="2.7" height="1.7" rx=".6" transform="rotate(47 174.0 498.5)"/><rect x="315.0" y="563.7" width="2.6" height="2.1" rx=".6" transform="rotate(125 315.0 563.7)"/><rect x="283.2" y="568.4" width="1.6" height="1.6" rx=".6" transform="rotate(163 283.2 568.4)"/><rect x="240.6" y="566.7" width="1.8" height="1.5" rx=".6" transform="rotate(177 240.6 566.7)"/><rect x="197.1" y="543.4" width="2.0" height="2.4" rx=".6" transform="rotate(51 197.1 543.4)"/><rect x="170.5" y="529.4" width="1.7" height="1.8" rx=".6" transform="rotate(84 170.5 529.4)"/><rect x="309.5" y="548.8" width="2.0" height="2.3" rx=".6" transform="rotate(101 309.5 548.8)"/><rect x="219.9" y="485.4" width="2.6" height="2.0" rx=".6" transform="rotate(4 219.9 485.4)"/><rect x="244.2" y="565.0" width="2.9" height="2.5" rx=".6" transform="rotate(133 244.2 565.0)"/><rect x="204.2" y="569.8" width="3.1" height="1.7" rx=".6" transform="rotate(86 204.2 569.8)"/><rect x="284.0" y="565.4" width="1.8" height="1.7" rx=".6" transform="rotate(118 284.0 565.4)"/><rect x="271.0" y="560.5" width="2.7" height="2.4" rx=".6" transform="rotate(2 271.0 560.5)"/><rect x="313.8" y="587.8" width="2.3" height="2.5" rx=".6" transform="rotate(37 313.8 587.8)"/><rect x="205.0" y="526.1" width="2.5" height="2.5" rx=".6" transform="rotate(104 205.0 526.1)"/><rect x="297.4" y="554.5" width="1.6" height="2.0" rx=".6" transform="rotate(131 297.4 554.5)"/><rect x="178.7" y="466.8" width="1.9" height="2.2" rx=".6" transform="rotate(1 178.7 466.8)"/><rect x="191.1" y="543.3" width="2.3" height="2.0" rx=".6" transform="rotate(47 191.1 543.3)"/><rect x="247.9" y="572.7" width="2.9" height="2.3" rx=".6" transform="rotate(62 247.9 572.7)"/><rect x="230.0" y="577.4" width="2.8" height="1.7" rx=".6" transform="rotate(52 230.0 577.4)"/><rect x="251.0" y="571.8" width="3.0" height="1.6" rx=".6" transform="rotate(56 251.0 571.8)"/><rect x="201.2" y="536.7" width="2.7" height="1.7" rx=".6" transform="rotate(57 201.2 536.7)"/><rect x="309.0" y="559.6" width="2.3" height="2.2" rx=".6" transform="rotate(50 309.0 559.6)"/><rect x="216.8" y="559.7" width="1.7" height="2.3" rx=".6" transform="rotate(139 216.8 559.7)"/><rect x="208.9" y="512.1" width="2.0" height="2.6" rx=".6" transform="rotate(21 208.9 512.1)"/><rect x="313.4" y="557.1" width="2.3" height="2.3" rx=".6" transform="rotate(132 313.4 557.1)"/><rect x="292.2" y="593.4" width="2.2" height="1.8" rx=".6" transform="rotate(64 292.2 593.4)"/><rect x="292.0" y="603.5" width="3.1" height="2.3" rx=".6" transform="rotate(122 292.0 603.5)"/><rect x="297.2" y="551.9" width="2.5" height="2.4" rx=".6" transform="rotate(93 297.2 551.9)"/><rect x="223.6" y="568.0" width="3.1" height="2.6" rx=".6" transform="rotate(101 223.6 568.0)"/><rect x="207.8" y="541.7" width="1.7" height="1.4" rx=".6" transform="rotate(61 207.8 541.7)"/><rect x="266.2" y="581.5" width="2.0" height="2.0" rx=".6" transform="rotate(32 266.2 581.5)"/><rect x="290.2" y="611.3" width="3.1" height="1.9" rx=".6" transform="rotate(16 290.2 611.3)"/><rect x="205.8" y="559.5" width="1.9" height="1.7" rx=".6" transform="rotate(15 205.8 559.5)"/><rect x="161.2" y="536.1" width="3.2" height="2.0" rx=".6" transform="rotate(170 161.2 536.1)"/><rect x="295.3" y="551.8" width="3.0" height="2.3" rx=".6" transform="rotate(64 295.3 551.8)"/><rect x="204.1" y="528.1" width="2.5" height="2.2" rx=".6" transform="rotate(132 204.1 528.1)"/><rect x="233.2" y="523.0" width="1.8" height="2.5" rx=".6" transform="rotate(144 233.2 523.0)"/><rect x="219.5" y="538.8" width="3.0" height="1.8" rx=".6" transform="rotate(96 219.5 538.8)"/><rect x="308.1" y="563.0" width="2.1" height="1.9" rx=".6" transform="rotate(110 308.1 563.0)"/><rect x="304.9" y="546.1" width="2.1" height="2.4" rx=".6" transform="rotate(29 304.9 546.1)"/><rect x="264.5" y="561.5" width="1.9" height="1.6" rx=".6" transform="rotate(110 264.5 561.5)"/><rect x="279.8" y="542.0" width="2.9" height="1.9" rx=".6" transform="rotate(120 279.8 542.0)"/><rect x="237.3" y="578.1" width="3.1" height="2.5" rx=".6" transform="rotate(167 237.3 578.1)"/><rect x="222.3" y="577.0" width="2.6" height="1.7" rx=".6" transform="rotate(67 222.3 577.0)"/><rect x="209.1" y="551.6" width="2.8" height="1.9" rx=".6" transform="rotate(155 209.1 551.6)"/><rect x="276.9" y="561.6" width="3.0" height="1.9" rx=".6" transform="rotate(18 276.9 561.6)"/><rect x="314.5" y="611.0" width="2.7" height="2.1" rx=".6" transform="rotate(73 314.5 611.0)"/><rect x="200.9" y="547.5" width="1.6" height="1.6" rx=".6" transform="rotate(22 200.9 547.5)"/><rect x="289.9" y="568.1" width="3.1" height="2.6" rx=".6" transform="rotate(122 289.9 568.1)"/><rect x="268.0" y="548.2" width="3.0" height="1.7" rx=".6" transform="rotate(25 268.0 548.2)"/><rect x="156.5" y="540.0" width="2.5" height="1.9" rx=".6" transform="rotate(98 156.5 540.0)"/><rect x="307.0" y="557.1" width="1.7" height="1.5" rx=".6" transform="rotate(60 307.0 557.1)"/><rect x="304.3" y="574.3" width="1.9" height="1.5" rx=".6" transform="rotate(22 304.3 574.3)"/><rect x="292.0" y="564.5" width="2.6" height="1.5" rx=".6" transform="rotate(91 292.0 564.5)"/><rect x="266.2" y="541.3" width="2.7" height="1.9" rx=".6" transform="rotate(119 266.2 541.3)"/><rect x="224.0" y="537.5" width="2.7" height="2.0" rx=".6" transform="rotate(146 224.0 537.5)"/><rect x="285.5" y="535.0" width="2.4" height="1.6" rx=".6" transform="rotate(123 285.5 535.0)"/><rect x="239.9" y="577.2" width="2.7" height="1.8" rx=".6" transform="rotate(128 239.9 577.2)"/><rect x="295.4" y="562.6" width="3.0" height="2.3" rx=".6" transform="rotate(21 295.4 562.6)"/><rect x="227.2" y="536.6" width="2.2" height="2.0" rx=".6" transform="rotate(106 227.2 536.6)"/><rect x="161.5" y="544.9" width="2.8" height="2.2" rx=".6" transform="rotate(141 161.5 544.9)"/><rect x="166.9" y="531.4" width="2.1" height="1.8" rx=".6" transform="rotate(136 166.9 531.4)"/><rect x="254.0" y="569.3" width="2.7" height="1.7" rx=".6" transform="rotate(11 254.0 569.3)"/><rect x="170.2" y="511.9" width="2.9" height="2.3" rx=".6" transform="rotate(88 170.2 511.9)"/><rect x="203.3" y="555.6" width="1.6" height="1.9" rx=".6" transform="rotate(68 203.3 555.6)"/><rect x="258.9" y="560.6" width="1.6" height="2.2" rx=".6" transform="rotate(110 258.9 560.6)"/><rect x="240.4" y="552.1" width="1.7" height="1.8" rx=".6" transform="rotate(116 240.4 552.1)"/><rect x="243.6" y="541.2" width="1.9" height="1.8" rx=".6" transform="rotate(75 243.6 541.2)"/><rect x="281.9" y="592.0" width="2.8" height="2.0" rx=".6" transform="rotate(178 281.9 592.0)"/><rect x="158.3" y="541.3" width="2.2" height="2.4" rx=".6" transform="rotate(38 158.3 541.3)"/><rect x="191.1" y="558.9" width="2.1" height="1.5" rx=".6" transform="rotate(172 191.1 558.9)"/><rect x="254.3" y="544.9" width="2.1" height="2.4" rx=".6" transform="rotate(61 254.3 544.9)"/><rect x="196.1" y="522.9" width="2.7" height="2.2" rx=".6" transform="rotate(80 196.1 522.9)"/><rect x="314.2" y="570.3" width="2.4" height="2.0" rx=".6" transform="rotate(36 314.2 570.3)"/><rect x="151.4" y="536.7" width="1.8" height="1.8" rx=".6" transform="rotate(122 151.4 536.7)"/><rect x="232.6" y="559.2" width="2.5" height="1.7" rx=".6" transform="rotate(80 232.6 559.2)"/><rect x="287.0" y="565.3" width="2.6" height="1.4" rx=".6" transform="rotate(168 287.0 565.3)"/><rect x="284.7" y="578.7" width="1.7" height="2.5" rx=".6" transform="rotate(99 284.7 578.7)"/><rect x="197.5" y="541.2" width="1.6" height="2.3" rx=".6" transform="rotate(134 197.5 541.2)"/><rect x="218.6" y="545.9" width="2.4" height="2.4" rx=".6" transform="rotate(3 218.6 545.9)"/><rect x="237.3" y="545.9" width="2.8" height="1.8" rx=".6" transform="rotate(131 237.3 545.9)"/><rect x="233.5" y="578.9" width="2.9" height="2.4" rx=".6" transform="rotate(9 233.5 578.9)"/><rect x="202.3" y="507.8" width="3.1" height="2.0" rx=".6" transform="rotate(79 202.3 507.8)"/><rect x="288.7" y="535.4" width="2.3" height="2.5" rx=".6" transform="rotate(73 288.7 535.4)"/><rect x="255.2" y="549.6" width="2.5" height="1.7" rx=".6" transform="rotate(100 255.2 549.6)"/><rect x="248.5" y="561.8" width="2.4" height="1.6" rx=".6" transform="rotate(54 248.5 561.8)"/><rect x="265.4" y="578.1" width="2.6" height="2.2" rx=".6" transform="rotate(118 265.4 578.1)"/><rect x="189.0" y="555.9" width="1.8" height="2.2" rx=".6" transform="rotate(52 189.0 555.9)"/><rect x="223.8" y="525.1" width="2.4" height="1.8" rx=".6" transform="rotate(174 223.8 525.1)"/><rect x="200.5" y="528.6" width="3.2" height="1.8" rx=".6" transform="rotate(116 200.5 528.6)"/><rect x="235.5" y="525.3" width="2.3" height="2.5" rx=".6" transform="rotate(55 235.5 525.3)"/><rect x="240.5" y="575.0" width="3.1" height="1.5" rx=".6" transform="rotate(54 240.5 575.0)"/><rect x="163.3" y="542.5" width="2.9" height="1.9" rx=".6" transform="rotate(45 163.3 542.5)"/><rect x="205.4" y="556.0" width="1.8" height="1.5" rx=".6" transform="rotate(125 205.4 556.0)"/><rect x="240.8" y="576.9" width="2.4" height="1.6" rx=".6" transform="rotate(79 240.8 576.9)"/><rect x="180.5" y="554.0" width="2.0" height="2.2" rx=".6" transform="rotate(15 180.5 554.0)"/><rect x="282.8" y="538.8" width="1.8" height="2.0" rx=".6" transform="rotate(91 282.8 538.8)"/><rect x="284.5" y="549.3" width="3.0" height="1.6" rx=".6" transform="rotate(47 284.5 549.3)"/><rect x="216.1" y="575.6" width="2.7" height="1.5" rx=".6" transform="rotate(86 216.1 575.6)"/><rect x="252.9" y="571.2" width="1.9" height="2.6" rx=".6" transform="rotate(70 252.9 571.2)"/><rect x="270.9" y="564.9" width="2.5" height="2.0" rx=".6" transform="rotate(34 270.9 564.9)"/><rect x="166.8" y="511.9" width="1.8" height="2.3" rx=".6" transform="rotate(40 166.8 511.9)"/><rect x="177.7" y="521.7" width="2.3" height="1.9" rx=".6" transform="rotate(2 177.7 521.7)"/><rect x="170.0" y="497.8" width="1.8" height="2.3" rx=".6" transform="rotate(105 170.0 497.8)"/><rect x="284.5" y="572.5" width="2.9" height="1.6" rx=".6" transform="rotate(97 284.5 572.5)"/><rect x="177.4" y="522.5" width="2.7" height="2.1" rx=".6" transform="rotate(140 177.4 522.5)"/><rect x="285.1" y="550.8" width="3.1" height="1.8" rx=".6" transform="rotate(18 285.1 550.8)"/><rect x="309.7" y="586.5" width="2.3" height="2.3" rx=".6" transform="rotate(57 309.7 586.5)"/><rect x="281.2" y="561.8" width="3.2" height="1.6" rx=".6" transform="rotate(14 281.2 561.8)"/><rect x="278.6" y="554.1" width="2.1" height="2.0" rx=".6" transform="rotate(71 278.6 554.1)"/><rect x="252.2" y="540.4" width="2.6" height="2.6" rx=".6" transform="rotate(36 252.2 540.4)"/><rect x="199.0" y="538.1" width="1.8" height="2.3" rx=".6" transform="rotate(144 199.0 538.1)"/><rect x="173.8" y="552.5" width="2.1" height="2.3" rx=".6" transform="rotate(111 173.8 552.5)"/><rect x="252.7" y="590.3" width="2.2" height="1.7" rx=".6" transform="rotate(127 252.7 590.3)"/><rect x="229.2" y="557.3" width="2.5" height="2.5" rx=".6" transform="rotate(140 229.2 557.3)"/><rect x="282.9" y="540.7" width="2.9" height="2.4" rx=".6" transform="rotate(39 282.9 540.7)"/><rect x="310.1" y="592.0" width="1.6" height="2.4" rx=".6" transform="rotate(149 310.1 592.0)"/><rect x="262.4" y="568.8" width="2.8" height="2.3" rx=".6" transform="rotate(55 262.4 568.8)"/><rect x="241.4" y="546.7" width="2.0" height="1.8" rx=".6" transform="rotate(89 241.4 546.7)"/><rect x="242.4" y="565.5" width="2.5" height="1.6" rx=".6" transform="rotate(175 242.4 565.5)"/><rect x="168.0" y="534.7" width="2.0" height="2.2" rx=".6" transform="rotate(138 168.0 534.7)"/><rect x="230.4" y="556.0" width="1.9" height="1.8" rx=".6" transform="rotate(62 230.4 556.0)"/><rect x="268.7" y="552.6" width="2.8" height="1.5" rx=".6" transform="rotate(135 268.7 552.6)"/><rect x="174.6" y="542.0" width="3.0" height="2.5" rx=".6" transform="rotate(51 174.6 542.0)"/><rect x="272.7" y="572.6" width="2.0" height="2.5" rx=".6" transform="rotate(172 272.7 572.6)"/><rect x="174.3" y="552.7" width="2.1" height="2.0" rx=".6" transform="rotate(139 174.3 552.7)"/><rect x="307.3" y="604.9" width="2.7" height="1.7" rx=".6" transform="rotate(96 307.3 604.9)"/><rect x="223.2" y="567.4" width="2.6" height="1.9" rx=".6" transform="rotate(177 223.2 567.4)"/><rect x="184.3" y="547.1" width="2.4" height="1.5" rx=".6" transform="rotate(155 184.3 547.1)"/><rect x="311.5" y="616.7" width="2.7" height="2.3" rx=".6" transform="rotate(109 311.5 616.7)"/><rect x="211.4" y="555.6" width="2.0" height="1.4" rx=".6" transform="rotate(166 211.4 555.6)"/><rect x="256.0" y="553.5" width="2.3" height="2.5" rx=".6" transform="rotate(1 256.0 553.5)"/><rect x="222.1" y="538.0" width="2.4" height="2.4" rx=".6" transform="rotate(24 222.1 538.0)"/><rect x="189.7" y="507.9" width="2.3" height="1.4" rx=".6" transform="rotate(166 189.7 507.9)"/><rect x="242.3" y="586.1" width="2.2" height="2.4" rx=".6" transform="rotate(145 242.3 586.1)"/><rect x="271.9" y="564.5" width="2.4" height="2.1" rx=".6" transform="rotate(166 271.9 564.5)"/><rect x="252.7" y="565.9" width="2.4" height="2.3" rx=".6" transform="rotate(103 252.7 565.9)"/><rect x="150.4" y="527.0" width="2.3" height="2.1" rx=".6" transform="rotate(65 150.4 527.0)"/><rect x="197.3" y="495.4" width="3.0" height="2.5" rx=".6" transform="rotate(51 197.3 495.4)"/><rect x="300.9" y="596.4" width="2.0" height="2.2" rx=".6" transform="rotate(143 300.9 596.4)"/><rect x="308.7" y="559.2" width="2.5" height="1.9" rx=".6" transform="rotate(45 308.7 559.2)"/><rect x="307.9" y="578.4" width="2.0" height="1.8" rx=".6" transform="rotate(103 307.9 578.4)"/><rect x="205.9" y="560.3" width="2.1" height="1.4" rx=".6" transform="rotate(22 205.9 560.3)"/><rect x="204.5" y="535.3" width="2.8" height="2.5" rx=".6" transform="rotate(77 204.5 535.3)"/><rect x="259.3" y="546.8" width="2.7" height="1.9" rx=".6" transform="rotate(12 259.3 546.8)"/><rect x="299.3" y="565.5" width="1.7" height="1.6" rx=".6" transform="rotate(46 299.3 565.5)"/><rect x="251.7" y="570.2" width="2.0" height="1.5" rx=".6" transform="rotate(177 251.7 570.2)"/><rect x="254.4" y="541.3" width="3.0" height="1.5" rx=".6" transform="rotate(31 254.4 541.3)"/><rect x="172.6" y="541.8" width="2.5" height="2.3" rx=".6" transform="rotate(161 172.6 541.8)"/><rect x="200.9" y="548.2" width="2.2" height="2.4" rx=".6" transform="rotate(16 200.9 548.2)"/><rect x="274.7" y="548.8" width="2.0" height="2.5" rx=".6" transform="rotate(144 274.7 548.8)"/><rect x="257.5" y="563.3" width="2.7" height="2.5" rx=".6" transform="rotate(9 257.5 563.3)"/><rect x="302.4" y="581.3" width="2.4" height="1.7" rx=".6" transform="rotate(173 302.4 581.3)"/><rect x="279.2" y="570.0" width="2.8" height="2.0" rx=".6" transform="rotate(144 279.2 570.0)"/><rect x="185.8" y="556.9" width="3.2" height="2.5" rx=".6" transform="rotate(131 185.8 556.9)"/><rect x="149.4" y="513.4" width="2.3" height="2.6" rx=".6" transform="rotate(150 149.4 513.4)"/><rect x="235.5" y="556.0" width="2.8" height="2.2" rx=".6" transform="rotate(129 235.5 556.0)"/><rect x="217.8" y="533.4" width="1.7" height="2.0" rx=".6" transform="rotate(111 217.8 533.4)"/><rect x="193.8" y="556.0" width="3.0" height="1.8" rx=".6" transform="rotate(164 193.8 556.0)"/><rect x="197.3" y="553.3" width="2.7" height="2.2" rx=".6" transform="rotate(17 197.3 553.3)"/><rect x="268.9" y="568.2" width="2.3" height="2.1" rx=".6" transform="rotate(153 268.9 568.2)"/><rect x="273.6" y="556.2" width="1.6" height="1.9" rx=".6" transform="rotate(43 273.6 556.2)"/><rect x="228.6" y="561.9" width="3.0" height="1.9" rx=".6" transform="rotate(173 228.6 561.9)"/><rect x="195.5" y="559.8" width="2.0" height="2.3" rx=".6" transform="rotate(1 195.5 559.8)"/><rect x="201.9" y="543.6" width="2.3" height="2.6" rx=".6" transform="rotate(165 201.9 543.6)"/><rect x="305.8" y="579.3" width="1.8" height="1.4" rx=".6" transform="rotate(150 305.8 579.3)"/><rect x="257.6" y="561.6" width="2.0" height="2.5" rx=".6" transform="rotate(96 257.6 561.6)"/><rect x="148.7" y="509.9" width="3.2" height="1.9" rx=".6" transform="rotate(139 148.7 509.9)"/><rect x="270.2" y="551.9" width="2.5" height="1.5" rx=".6" transform="rotate(17 270.2 551.9)"/><rect x="287.7" y="559.6" width="2.5" height="1.9" rx=".6" transform="rotate(48 287.7 559.6)"/><rect x="238.7" y="562.7" width="2.9" height="1.8" rx=".6" transform="rotate(0 238.7 562.7)"/><rect x="176.0" y="519.6" width="1.6" height="1.7" rx=".6" transform="rotate(44 176.0 519.6)"/><rect x="289.9" y="579.8" width="1.6" height="1.7" rx=".6" transform="rotate(162 289.9 579.8)"/><rect x="223.7" y="549.9" width="2.1" height="2.1" rx=".6" transform="rotate(121 223.7 549.9)"/><rect x="248.8" y="559.8" width="1.7" height="1.4" rx=".6" transform="rotate(151 248.8 559.8)"/><rect x="295.4" y="608.0" width="2.8" height="1.6" rx=".6" transform="rotate(62 295.4 608.0)"/><rect x="238.1" y="568.8" width="2.2" height="1.5" rx=".6" transform="rotate(143 238.1 568.8)"/><rect x="251.1" y="562.7" width="3.0" height="2.3" rx=".6" transform="rotate(38 251.1 562.7)"/><rect x="241.1" y="544.5" width="3.1" height="1.9" rx=".6" transform="rotate(76 241.1 544.5)"/><rect x="213.1" y="515.4" width="2.4" height="2.0" rx=".6" transform="rotate(55 213.1 515.4)"/><rect x="229.4" y="520.7" width="1.6" height="2.1" rx=".6" transform="rotate(175 229.4 520.7)"/><rect x="198.6" y="563.7" width="3.1" height="1.8" rx=".6" transform="rotate(50 198.6 563.7)"/><rect x="265.4" y="589.0" width="3.0" height="1.8" rx=".6" transform="rotate(147 265.4 589.0)"/><rect x="154.7" y="536.2" width="1.8" height="1.7" rx=".6" transform="rotate(166 154.7 536.2)"/><rect x="225.9" y="553.5" width="2.4" height="1.6" rx=".6" transform="rotate(129 225.9 553.5)"/><rect x="300.1" y="531.2" width="2.3" height="2.0" rx=".6" transform="rotate(141 300.1 531.2)"/><rect x="288.6" y="571.8" width="1.8" height="1.5" rx=".6" transform="rotate(47 288.6 571.8)"/><rect x="315.8" y="601.1" width="2.9" height="2.3" rx=".6" transform="rotate(85 315.8 601.1)"/><rect x="281.9" y="547.4" width="3.1" height="2.1" rx=".6" transform="rotate(43 281.9 547.4)"/><rect x="217.1" y="561.4" width="2.0" height="2.0" rx=".6" transform="rotate(96 217.1 561.4)"/><rect x="259.1" y="553.9" width="1.9" height="1.7" rx=".6" transform="rotate(6 259.1 553.9)"/><rect x="217.4" y="542.5" width="2.3" height="2.5" rx=".6" transform="rotate(88 217.4 542.5)"/><rect x="242.6" y="565.3" width="1.7" height="1.9" rx=".6" transform="rotate(150 242.6 565.3)"/><rect x="160.8" y="511.1" width="2.3" height="1.5" rx=".6" transform="rotate(118 160.8 511.1)"/><rect x="296.3" y="586.3" width="2.7" height="2.1" rx=".6" transform="rotate(87 296.3 586.3)"/><rect x="256.0" y="543.2" width="2.7" height="1.6" rx=".6" transform="rotate(56 256.0 543.2)"/><rect x="283.5" y="565.0" width="2.8" height="1.7" rx=".6" transform="rotate(150 283.5 565.0)"/><rect x="230.3" y="539.1" width="2.0" height="2.2" rx=".6" transform="rotate(61 230.3 539.1)"/><rect x="179.5" y="541.9" width="2.2" height="1.5" rx=".6" transform="rotate(90 179.5 541.9)"/><rect x="312.4" y="564.2" width="2.3" height="2.1" rx=".6" transform="rotate(95 312.4 564.2)"/><rect x="252.6" y="565.7" width="1.7" height="2.5" rx=".6" transform="rotate(65 252.6 565.7)"/><rect x="283.8" y="561.3" width="1.9" height="1.8" rx=".6" transform="rotate(59 283.8 561.3)"/><rect x="294.2" y="587.1" width="3.2" height="1.5" rx=".6" transform="rotate(11 294.2 587.1)"/><rect x="230.0" y="561.5" width="2.3" height="2.5" rx=".6" transform="rotate(50 230.0 561.5)"/><rect x="228.5" y="535.9" width="1.8" height="2.0" rx=".6" transform="rotate(144 228.5 535.9)"/><rect x="184.1" y="528.2" width="2.5" height="1.7" rx=".6" transform="rotate(121 184.1 528.2)"/><rect x="266.5" y="565.3" width="1.7" height="1.5" rx=".6" transform="rotate(26 266.5 565.3)"/><rect x="254.4" y="529.5" width="2.2" height="2.5" rx=".6" transform="rotate(67 254.4 529.5)"/><rect x="198.3" y="541.7" width="1.9" height="1.6" rx=".6" transform="rotate(124 198.3 541.7)"/><rect x="211.0" y="526.8" width="2.5" height="1.7" rx=".6" transform="rotate(22 211.0 526.8)"/><rect x="182.9" y="552.5" width="2.9" height="1.7" rx=".6" transform="rotate(117 182.9 552.5)"/><rect x="202.1" y="549.1" width="2.4" height="1.5" rx=".6" transform="rotate(159 202.1 549.1)"/><rect x="243.8" y="548.4" width="1.7" height="2.3" rx=".6" transform="rotate(29 243.8 548.4)"/><rect x="255.0" y="543.2" width="3.1" height="2.0" rx=".6" transform="rotate(154 255.0 543.2)"/><rect x="286.9" y="569.7" width="2.9" height="1.9" rx=".6" transform="rotate(71 286.9 569.7)"/><rect x="281.7" y="565.6" width="3.0" height="1.4" rx=".6" transform="rotate(2 281.7 565.6)"/><rect x="225.0" y="546.2" width="2.3" height="2.2" rx=".6" transform="rotate(20 225.0 546.2)"/><rect x="274.9" y="546.8" width="1.8" height="1.5" rx=".6" transform="rotate(97 274.9 546.8)"/><rect x="298.4" y="601.4" width="2.8" height="2.4" rx=".6" transform="rotate(86 298.4 601.4)"/><rect x="202.2" y="525.9" width="2.4" height="2.2" rx=".6" transform="rotate(65 202.2 525.9)"/><rect x="255.4" y="538.4" width="3.1" height="1.7" rx=".6" transform="rotate(98 255.4 538.4)"/><rect x="178.5" y="541.4" width="2.1" height="2.5" rx=".6" transform="rotate(80 178.5 541.4)"/><rect x="229.5" y="567.7" width="2.9" height="1.6" rx=".6" transform="rotate(56 229.5 567.7)"/><rect x="149.4" y="515.4" width="2.4" height="1.8" rx=".6" transform="rotate(133 149.4 515.4)"/><rect x="225.0" y="561.8" width="2.7" height="1.9" rx=".6" transform="rotate(130 225.0 561.8)"/><rect x="232.4" y="575.8" width="2.4" height="2.0" rx=".6" transform="rotate(135 232.4 575.8)"/><rect x="298.4" y="579.3" width="2.5" height="1.4" rx=".6" transform="rotate(168 298.4 579.3)"/><rect x="165.5" y="534.0" width="2.0" height="2.4" rx=".6" transform="rotate(6 165.5 534.0)"/><rect x="232.3" y="570.1" width="1.6" height="1.7" rx=".6" transform="rotate(19 232.3 570.1)"/><rect x="313.6" y="569.6" width="2.7" height="1.8" rx=".6" transform="rotate(95 313.6 569.6)"/><rect x="270.8" y="550.2" width="2.0" height="2.0" rx=".6" transform="rotate(3 270.8 550.2)"/><rect x="186.1" y="526.2" width="2.6" height="2.5" rx=".6" transform="rotate(124 186.1 526.2)"/><rect x="282.5" y="603.6" width="2.9" height="2.4" rx=".6" transform="rotate(117 282.5 603.6)"/><rect x="305.3" y="582.5" width="1.8" height="2.2" rx=".6" transform="rotate(26 305.3 582.5)"/><rect x="256.2" y="568.6" width="2.4" height="1.7" rx=".6" transform="rotate(157 256.2 568.6)"/><rect x="249.2" y="571.8" width="1.7" height="2.5" rx=".6" transform="rotate(140 249.2 571.8)"/><rect x="226.4" y="554.8" width="2.8" height="2.0" rx=".6" transform="rotate(50 226.4 554.8)"/><rect x="226.7" y="491.1" width="2.4" height="2.4" rx=".6" transform="rotate(129 226.7 491.1)"/><rect x="166.2" y="540.9" width="2.5" height="2.0" rx=".6" transform="rotate(92 166.2 540.9)"/><rect x="305.6" y="584.5" width="2.2" height="1.4" rx=".6" transform="rotate(36 305.6 584.5)"/><rect x="253.7" y="547.7" width="2.1" height="1.9" rx=".6" transform="rotate(177 253.7 547.7)"/><rect x="292.6" y="573.8" width="2.8" height="1.4" rx=".6" transform="rotate(84 292.6 573.8)"/><rect x="266.6" y="570.6" width="1.7" height="2.2" rx=".6" transform="rotate(125 266.6 570.6)"/><rect x="245.0" y="565.4" width="1.8" height="2.1" rx=".6" transform="rotate(73 245.0 565.4)"/><rect x="300.3" y="567.1" width="2.5" height="2.3" rx=".6" transform="rotate(24 300.3 567.1)"/><rect x="268.1" y="567.7" width="2.4" height="2.3" rx=".6" transform="rotate(115 268.1 567.7)"/><rect x="248.1" y="545.3" width="2.3" height="2.2" rx=".6" transform="rotate(156 248.1 545.3)"/><rect x="209.1" y="566.1" width="2.3" height="1.4" rx=".6" transform="rotate(24 209.1 566.1)"/><rect x="184.0" y="543.9" width="1.6" height="1.5" rx=".6" transform="rotate(122 184.0 543.9)"/><rect x="264.3" y="557.1" width="2.3" height="2.0" rx=".6" transform="rotate(68 264.3 557.1)"/><rect x="285.0" y="579.5" width="2.7" height="1.6" rx=".6" transform="rotate(111 285.0 579.5)"/><rect x="278.8" y="564.5" width="1.8" height="1.5" rx=".6" transform="rotate(94 278.8 564.5)"/><rect x="244.5" y="571.2" width="2.5" height="2.6" rx=".6" transform="rotate(46 244.5 571.2)"/><rect x="301.6" y="575.2" width="2.0" height="2.1" rx=".6" transform="rotate(56 301.6 575.2)"/><rect x="265.9" y="553.4" width="2.3" height="1.4" rx=".6" transform="rotate(63 265.9 553.4)"/><rect x="273.4" y="542.7" width="3.0" height="1.5" rx=".6" transform="rotate(35 273.4 542.7)"/><rect x="269.8" y="552.2" width="2.1" height="1.5" rx=".6" transform="rotate(167 269.8 552.2)"/><rect x="314.6" y="604.7" width="2.6" height="2.0" rx=".6" transform="rotate(97 314.6 604.7)"/><rect x="231.2" y="551.0" width="2.1" height="2.1" rx=".6" transform="rotate(132 231.2 551.0)"/><rect x="201.0" y="551.6" width="3.2" height="2.1" rx=".6" transform="rotate(83 201.0 551.6)"/><rect x="159.3" y="537.0" width="2.5" height="2.2" rx=".6" transform="rotate(93 159.3 537.0)"/><rect x="272.8" y="560.2" width="2.7" height="2.0" rx=".6" transform="rotate(137 272.8 560.2)"/><rect x="261.4" y="561.0" width="2.0" height="2.5" rx=".6" transform="rotate(51 261.4 561.0)"/><rect x="182.8" y="552.7" width="3.1" height="2.6" rx=".6" transform="rotate(23 182.8 552.7)"/><rect x="262.4" y="583.9" width="2.6" height="1.4" rx=".6" transform="rotate(133 262.4 583.9)"/><rect x="209.2" y="529.8" width="2.8" height="2.6" rx=".6" transform="rotate(84 209.2 529.8)"/><rect x="257.6" y="568.7" width="1.7" height="2.4" rx=".6" transform="rotate(137 257.6 568.7)"/><rect x="270.0" y="579.3" width="2.8" height="1.9" rx=".6" transform="rotate(121 270.0 579.3)"/><rect x="310.2" y="586.4" width="2.2" height="1.9" rx=".6" transform="rotate(109 310.2 586.4)"/><rect x="167.9" y="539.4" width="2.2" height="2.0" rx=".6" transform="rotate(82 167.9 539.4)"/><rect x="235.9" y="580.0" width="2.7" height="1.8" rx=".6" transform="rotate(141 235.9 580.0)"/><rect x="292.9" y="563.5" width="2.6" height="1.6" rx=".6" transform="rotate(1 292.9 563.5)"/><rect x="195.4" y="552.2" width="2.5" height="1.8" rx=".6" transform="rotate(47 195.4 552.2)"/><rect x="272.7" y="518.5" width="2.9" height="2.1" rx=".6" transform="rotate(104 272.7 518.5)"/><rect x="301.4" y="555.8" width="2.6" height="1.9" rx=".6" transform="rotate(103 301.4 555.8)"/><rect x="239.2" y="577.3" width="1.7" height="2.2" rx=".6" transform="rotate(12 239.2 577.3)"/><rect x="307.4" y="571.7" width="2.3" height="1.5" rx=".6" transform="rotate(16 307.4 571.7)"/><rect x="304.2" y="582.3" width="2.5" height="2.0" rx=".6" transform="rotate(118 304.2 582.3)"/><rect x="210.3" y="522.9" width="2.2" height="2.3" rx=".6" transform="rotate(34 210.3 522.9)"/><rect x="202.6" y="532.3" width="2.3" height="2.5" rx=".6" transform="rotate(16 202.6 532.3)"/><rect x="184.4" y="537.4" width="2.7" height="2.0" rx=".6" transform="rotate(144 184.4 537.4)"/><rect x="267.1" y="580.8" width="2.0" height="2.1" rx=".6" transform="rotate(9 267.1 580.8)"/><rect x="309.6" y="576.8" width="2.2" height="1.5" rx=".6" transform="rotate(100 309.6 576.8)"/><rect x="230.7" y="554.2" width="2.9" height="2.2" rx=".6" transform="rotate(147 230.7 554.2)"/><rect x="174.8" y="540.3" width="2.5" height="1.4" rx=".6" transform="rotate(146 174.8 540.3)"/><rect x="154.7" y="522.7" width="2.3" height="1.6" rx=".6" transform="rotate(132 154.7 522.7)"/><rect x="261.1" y="528.3" width="2.2" height="1.7" rx=".6" transform="rotate(171 261.1 528.3)"/><rect x="280.2" y="555.6" width="2.9" height="1.9" rx=".6" transform="rotate(177 280.2 555.6)"/><rect x="260.4" y="564.4" width="2.9" height="2.2" rx=".6" transform="rotate(148 260.4 564.4)"/><rect x="180.0" y="537.1" width="3.1" height="1.8" rx=".6" transform="rotate(161 180.0 537.1)"/><rect x="299.1" y="581.7" width="1.7" height="1.7" rx=".6" transform="rotate(117 299.1 581.7)"/><rect x="290.6" y="581.3" width="2.5" height="2.6" rx=".6" transform="rotate(167 290.6 581.3)"/><rect x="309.9" y="572.6" width="2.2" height="2.2" rx=".6" transform="rotate(66 309.9 572.6)"/><rect x="157.8" y="532.1" width="2.4" height="1.5" rx=".6" transform="rotate(131 157.8 532.1)"/><rect x="226.1" y="527.7" width="1.8" height="2.4" rx=".6" transform="rotate(82 226.1 527.7)"/><rect x="182.5" y="531.3" width="1.7" height="2.4" rx=".6" transform="rotate(137 182.5 531.3)"/><rect x="163.8" y="508.7" width="2.1" height="2.0" rx=".6" transform="rotate(135 163.8 508.7)"/><rect x="205.1" y="548.8" width="1.8" height="1.8" rx=".6" transform="rotate(66 205.1 548.8)"/><rect x="265.7" y="525.3" width="2.8" height="2.2" rx=".6" transform="rotate(101 265.7 525.3)"/><rect x="299.2" y="587.1" width="2.3" height="2.1" rx=".6" transform="rotate(145 299.2 587.1)"/><rect x="167.7" y="543.0" width="1.9" height="1.7" rx=".6" transform="rotate(9 167.7 543.0)"/><rect x="237.3" y="559.8" width="2.9" height="2.1" rx=".6" transform="rotate(123 237.3 559.8)"/><rect x="300.6" y="568.3" width="2.3" height="1.9" rx=".6" transform="rotate(73 300.6 568.3)"/><rect x="204.7" y="493.0" width="2.3" height="2.1" rx=".6" transform="rotate(10 204.7 493.0)"/><rect x="298.6" y="581.8" width="2.2" height="1.9" rx=".6" transform="rotate(128 298.6 581.8)"/><rect x="193.7" y="551.4" width="2.2" height="2.1" rx=".6" transform="rotate(66 193.7 551.4)"/><rect x="256.4" y="560.8" width="3.2" height="1.5" rx=".6" transform="rotate(40 256.4 560.8)"/><rect x="238.1" y="560.5" width="2.2" height="1.9" rx=".6" transform="rotate(160 238.1 560.5)"/><rect x="278.0" y="536.1" width="2.2" height="2.4" rx=".6" transform="rotate(78 278.0 536.1)"/><rect x="202.0" y="563.0" width="2.6" height="2.2" rx=".6" transform="rotate(20 202.0 563.0)"/><rect x="176.7" y="544.6" width="2.5" height="1.9" rx=".6" transform="rotate(62 176.7 544.6)"/><rect x="190.9" y="533.8" width="3.0" height="1.8" rx=".6" transform="rotate(122 190.9 533.8)"/><rect x="308.4" y="572.2" width="2.5" height="2.1" rx=".6" transform="rotate(25 308.4 572.2)"/><rect x="288.9" y="563.2" width="2.1" height="2.3" rx=".6" transform="rotate(95 288.9 563.2)"/><rect x="277.2" y="569.7" width="2.7" height="1.9" rx=".6" transform="rotate(172 277.2 569.7)"/><rect x="303.4" y="568.5" width="2.4" height="1.5" rx=".6" transform="rotate(160 303.4 568.5)"/><rect x="288.7" y="555.5" width="2.9" height="1.4" rx=".6" transform="rotate(72 288.7 555.5)"/><rect x="217.3" y="529.6" width="1.8" height="1.4" rx=".6" transform="rotate(161 217.3 529.6)"/></g>
<g fill="#2e2420"><rect x="126.2" y="511.3" width="2.6" height="2.2" transform="rotate(60 126.2 511.3)"/><rect x="126.7" y="518.1" width="2.6" height="2.2" transform="rotate(82 126.7 518.1)"/><rect x="137.7" y="508.3" width="2.6" height="2.2" transform="rotate(55 137.7 508.3)"/><rect x="128.3" y="510.4" width="2.6" height="2.2" transform="rotate(13 128.3 510.4)"/><rect x="144.0" y="508.1" width="2.6" height="2.2" transform="rotate(3 144.0 508.1)"/><rect x="155.1" y="509.8" width="2.6" height="2.2" transform="rotate(60 155.1 509.8)"/><rect x="161.4" y="527.9" width="2.6" height="2.2" transform="rotate(3 161.4 527.9)"/><rect x="154.7" y="501.9" width="2.6" height="2.2" transform="rotate(59 154.7 501.9)"/><rect x="153.1" y="521.1" width="2.6" height="2.2" transform="rotate(54 153.1 521.1)"/><rect x="128.9" y="502.9" width="2.6" height="2.2" transform="rotate(9 128.9 502.9)"/><rect x="140.2" y="517.4" width="2.6" height="2.2" transform="rotate(60 140.2 517.4)"/><rect x="151.5" y="531.7" width="2.6" height="2.2" transform="rotate(10 151.5 531.7)"/><rect x="162.4" y="522.9" width="2.6" height="2.2" transform="rotate(1 162.4 522.9)"/><rect x="132.1" y="514.4" width="2.6" height="2.2" transform="rotate(59 132.1 514.4)"/><rect x="130.0" y="517.7" width="2.6" height="2.2" transform="rotate(87 130.0 517.7)"/><rect x="161.6" y="515.0" width="2.6" height="2.2" transform="rotate(19 161.6 515.0)"/><rect x="131.7" y="521.0" width="2.6" height="2.2" transform="rotate(67 131.7 521.0)"/><rect x="137.3" y="522.1" width="2.6" height="2.2" transform="rotate(64 137.3 522.1)"/><rect x="168.8" y="526.2" width="2.6" height="2.2" transform="rotate(23 168.8 526.2)"/><rect x="163.5" y="519.0" width="2.6" height="2.2" transform="rotate(21 163.5 519.0)"/><rect x="156.2" y="524.4" width="2.6" height="2.2" transform="rotate(52 156.2 524.4)"/><rect x="162.0" y="527.8" width="2.6" height="2.2" transform="rotate(14 162.0 527.8)"/><rect x="145.5" y="525.0" width="2.6" height="2.2" transform="rotate(19 145.5 525.0)"/><rect x="157.7" y="512.7" width="2.6" height="2.2" transform="rotate(28 157.7 512.7)"/><rect x="130.7" y="504.3" width="2.6" height="2.2" transform="rotate(75 130.7 504.3)"/><rect x="144.2" y="506.7" width="2.6" height="2.2" transform="rotate(14 144.2 506.7)"/><rect x="133.2" y="525.3" width="2.6" height="2.2" transform="rotate(87 133.2 525.3)"/><rect x="127.1" y="507.7" width="2.6" height="2.2" transform="rotate(15 127.1 507.7)"/><rect x="150.8" y="502.9" width="2.6" height="2.2" transform="rotate(34 150.8 502.9)"/><rect x="149.2" y="532.6" width="2.6" height="2.2" transform="rotate(49 149.2 532.6)"/><rect x="154.1" y="529.0" width="2.6" height="2.2" transform="rotate(64 154.1 529.0)"/><rect x="135.2" y="519.8" width="2.6" height="2.2" transform="rotate(58 135.2 519.8)"/><rect x="156.4" y="523.3" width="2.6" height="2.2" transform="rotate(80 156.4 523.3)"/><rect x="155.4" y="503.8" width="2.6" height="2.2" transform="rotate(44 155.4 503.8)"/><rect x="166.3" y="513.2" width="2.6" height="2.2" transform="rotate(17 166.3 513.2)"/><rect x="160.1" y="534.3" width="2.6" height="2.2" transform="rotate(38 160.1 534.3)"/><rect x="169.3" y="515.3" width="2.6" height="2.2" transform="rotate(19 169.3 515.3)"/><rect x="153.8" y="506.1" width="2.6" height="2.2" transform="rotate(49 153.8 506.1)"/><rect x="167.3" y="510.0" width="2.6" height="2.2" transform="rotate(55 167.3 510.0)"/><rect x="168.6" y="507.4" width="2.6" height="2.2" transform="rotate(36 168.6 507.4)"/><rect x="143.3" y="521.9" width="2.6" height="2.2" transform="rotate(39 143.3 521.9)"/><rect x="157.3" y="509.6" width="2.6" height="2.2" transform="rotate(52 157.3 509.6)"/><rect x="140.5" y="534.0" width="2.6" height="2.2" transform="rotate(41 140.5 534.0)"/><rect x="161.9" y="532.9" width="2.6" height="2.2" transform="rotate(37 161.9 532.9)"/><rect x="131.3" y="500.9" width="2.6" height="2.2" transform="rotate(56 131.3 500.9)"/><rect x="148.1" y="532.9" width="2.6" height="2.2" transform="rotate(67 148.1 532.9)"/><rect x="169.4" y="523.9" width="2.6" height="2.2" transform="rotate(33 169.4 523.9)"/><rect x="148.8" y="508.4" width="2.6" height="2.2" transform="rotate(50 148.8 508.4)"/><rect x="143.0" y="512.2" width="2.6" height="2.2" transform="rotate(23 143.0 512.2)"/><rect x="169.7" y="516.4" width="2.6" height="2.2" transform="rotate(82 169.7 516.4)"/><rect x="169.4" y="521.2" width="2.6" height="2.2" transform="rotate(34 169.4 521.2)"/><rect x="134.5" y="528.4" width="2.6" height="2.2" transform="rotate(53 134.5 528.4)"/><rect x="147.8" y="526.6" width="2.6" height="2.2" transform="rotate(16 147.8 526.6)"/><rect x="137.7" y="515.7" width="2.6" height="2.2" transform="rotate(13 137.7 515.7)"/><rect x="138.1" y="518.9" width="2.6" height="2.2" transform="rotate(82 138.1 518.9)"/><rect x="158.4" y="504.7" width="2.6" height="2.2" transform="rotate(45 158.4 504.7)"/><rect x="143.4" y="529.1" width="2.6" height="2.2" transform="rotate(71 143.4 529.1)"/><rect x="141.5" y="525.9" width="2.6" height="2.2" transform="rotate(73 141.5 525.9)"/><rect x="156.1" y="513.6" width="2.6" height="2.2" transform="rotate(18 156.1 513.6)"/><rect x="138.5" y="515.6" width="2.6" height="2.2" transform="rotate(90 138.5 515.6)"/><rect x="148.1" y="516.8" width="2.6" height="2.2" transform="rotate(90 148.1 516.8)"/><rect x="150.1" y="518.7" width="2.6" height="2.2" transform="rotate(57 150.1 518.7)"/><rect x="147.4" y="533.8" width="2.6" height="2.2" transform="rotate(24 147.4 533.8)"/><rect x="142.8" y="512.0" width="2.6" height="2.2" transform="rotate(55 142.8 512.0)"/><rect x="140.8" y="507.6" width="2.6" height="2.2" transform="rotate(80 140.8 507.6)"/><rect x="157.1" y="534.7" width="2.6" height="2.2" transform="rotate(46 157.1 534.7)"/><rect x="147.6" y="526.0" width="2.6" height="2.2" transform="rotate(63 147.6 526.0)"/><rect x="167.6" y="508.1" width="2.6" height="2.2" transform="rotate(58 167.6 508.1)"/><rect x="167.0" y="534.6" width="2.6" height="2.2" transform="rotate(72 167.0 534.6)"/><rect x="154.2" y="518.3" width="2.6" height="2.2" transform="rotate(72 154.2 518.3)"/><rect x="155.1" y="530.9" width="2.6" height="2.2" transform="rotate(29 155.1 530.9)"/><rect x="135.7" y="525.0" width="2.6" height="2.2" transform="rotate(36 135.7 525.0)"/><rect x="136.9" y="518.5" width="2.6" height="2.2" transform="rotate(4 136.9 518.5)"/><rect x="125.0" y="508.5" width="2.6" height="2.2" transform="rotate(76 125.0 508.5)"/><rect x="135.2" y="510.8" width="2.6" height="2.2" transform="rotate(70 135.2 510.8)"/><rect x="132.4" y="517.7" width="2.6" height="2.2" transform="rotate(52 132.4 517.7)"/><rect x="127.2" y="508.1" width="2.6" height="2.2" transform="rotate(81 127.2 508.1)"/><rect x="140.0" y="503.1" width="2.6" height="2.2" transform="rotate(37 140.0 503.1)"/><rect x="157.4" y="512.9" width="2.6" height="2.2" transform="rotate(75 157.4 512.9)"/><rect x="132.5" y="514.9" width="2.6" height="2.2" transform="rotate(29 132.5 514.9)"/><rect x="153.8" y="508.3" width="2.6" height="2.2" transform="rotate(85 153.8 508.3)"/><rect x="135.0" y="500.5" width="2.6" height="2.2" transform="rotate(70 135.0 500.5)"/><rect x="149.2" y="532.3" width="2.6" height="2.2" transform="rotate(85 149.2 532.3)"/><rect x="146.2" y="508.1" width="2.6" height="2.2" transform="rotate(26 146.2 508.1)"/><rect x="152.3" y="513.2" width="2.6" height="2.2" transform="rotate(88 152.3 513.2)"/><rect x="164.0" y="519.4" width="2.6" height="2.2" transform="rotate(84 164.0 519.4)"/><rect x="134.0" y="533.8" width="2.6" height="2.2" transform="rotate(41 134.0 533.8)"/></g>
<g fill="#2e2420"><circle cx="301.0" cy="621.9" r=".9"/><circle cx="317.8" cy="613.2" r=".9"/><circle cx="302.7" cy="610.2" r=".9"/><circle cx="295.1" cy="619.0" r=".9"/><circle cx="300.2" cy="618.7" r=".9"/><circle cx="295.8" cy="615.2" r=".9"/><circle cx="313.9" cy="613.5" r=".9"/><circle cx="296.9" cy="622.0" r=".9"/><circle cx="299.1" cy="616.1" r=".9"/><circle cx="314.3" cy="620.4" r=".9"/><circle cx="312.5" cy="621.7" r=".9"/><circle cx="291.9" cy="617.8" r=".9"/><circle cx="304.4" cy="613.5" r=".9"/><circle cx="309.4" cy="611.3" r=".9"/><circle cx="306.2" cy="614.3" r=".9"/><circle cx="292.2" cy="619.6" r=".9"/><circle cx="293.5" cy="620.0" r=".9"/><circle cx="310.8" cy="614.6" r=".9"/><circle cx="301.6" cy="611.1" r=".9"/><circle cx="292.2" cy="618.4" r=".9"/><circle cx="299.1" cy="616.4" r=".9"/><circle cx="299.0" cy="612.0" r=".9"/><circle cx="292.9" cy="619.4" r=".9"/><circle cx="301.0" cy="610.3" r=".9"/><circle cx="314.2" cy="610.3" r=".9"/><circle cx="304.8" cy="619.7" r=".9"/><circle cx="288.9" cy="621.9" r=".9"/><circle cx="309.1" cy="620.5" r=".9"/><circle cx="300.7" cy="614.6" r=".9"/><circle cx="314.1" cy="612.3" r=".9"/><circle cx="315.0" cy="620.5" r=".9"/><circle cx="315.6" cy="610.1" r=".9"/><circle cx="300.7" cy="620.5" r=".9"/><circle cx="304.5" cy="611.2" r=".9"/><circle cx="295.8" cy="617.5" r=".9"/><circle cx="293.2" cy="619.8" r=".9"/><circle cx="314.2" cy="614.3" r=".9"/><circle cx="291.9" cy="616.6" r=".9"/><circle cx="309.3" cy="616.4" r=".9"/><circle cx="309.7" cy="621.8" r=".9"/><circle cx="298.6" cy="616.8" r=".9"/><circle cx="294.6" cy="615.0" r=".9"/><circle cx="305.4" cy="612.6" r=".9"/><circle cx="306.1" cy="616.1" r=".9"/><circle cx="304.4" cy="616.9" r=".9"/><circle cx="306.8" cy="621.3" r=".9"/><circle cx="306.2" cy="619.6" r=".9"/><circle cx="291.5" cy="621.1" r=".9"/><circle cx="315.9" cy="616.9" r=".9"/><circle cx="312.8" cy="616.3" r=".9"/><circle cx="301.0" cy="610.4" r=".9"/><circle cx="302.4" cy="618.7" r=".9"/><circle cx="311.8" cy="621.4" r=".9"/><circle cx="303.5" cy="622.2" r=".9"/><circle cx="300.8" cy="616.1" r=".9"/><circle cx="311.2" cy="611.5" r=".9"/></g>
<path d="M235.3,506.8q4.8,3.0 5.6,8.0M172.6,470.6q2.1,3.2 0.2,8.4M218.5,484.9q0.6,1.9 -2.7,5.8M199.5,479.4q4.6,2.4 5.2,6.7M180.9,496.5q3.6,2.5 3.2,7.0M195.1,486.7q0.8,2.1 -2.3,6.1M262.4,515.0q3.9,3.5 3.9,9.0M269.2,515.2q4.0,1.8 4.1,5.6M179.5,472.6q3.6,1.5 3.1,5.1" fill="none" stroke="#4a2018" stroke-width=".8"/>
<path d="M150,541 L316,575" stroke="#3a2a24" stroke-width="1.6"/><path d="M152,545 L314,578.5" stroke="#a03020" stroke-width="1.2"/>
<g fill="#2a211e"><path d="M176.0,529.0l-3.5,6.5h2.3v5h2.6v-5h2.3z"/><path d="M190.6,532.0l-3.5,6.5h2.3v5h2.6v-5h2.3z"/><path d="M205.2,535.0l-3.5,6.5h2.3v5h2.6v-5h2.3z"/><path d="M219.8,538.0l-3.5,6.5h2.3v5h2.6v-5h2.3z"/><path d="M234.4,541.0l-3.5,6.5h2.3v5h2.6v-5h2.3z"/><path d="M249.0,544.0l-3.5,6.5h2.3v5h2.6v-5h2.3z"/><path d="M263.6,547.0l-3.5,6.5h2.3v5h2.6v-5h2.3z"/><path d="M278.2,550.0l-3.5,6.5h2.3v5h2.6v-5h2.3z"/><path d="M292.8,553.0l-3.5,6.5h2.3v5h2.6v-5h2.3z"/><path d="M307.4,556.0l-3.5,6.5h2.3v5h2.6v-5h2.3z"/></g>
<path d="M306,580 L320,600 M319,604 L319,624 L300,624" fill="none" stroke="#3a2a24" stroke-width="1"/>
<path d="M308,580 L332,587 L340,600" fill="none" stroke="#3a2a24" stroke-width=".8"/>
<path d="M114,437.5 L145.5,437.5 C146,450 141,462 128,473 C123,476 118,477 114.5,477 Z" fill="url(#win)" stroke="#d09030" stroke-width=".8"/>
<path d="M118,470l14,-30M124,470l14,-30M130,466l10,-24" stroke="#e0b860" stroke-width=".6"/>
<rect x="92.2" y="448.5" width="3.6" height="94" rx="1.8" fill="#9ab0e8" stroke="#3a5ab0" stroke-width="1"/>
<path d="M47,541 L84,533 L84,546 L49,552 Z" fill="#f08a28" stroke="#c05a10" stroke-width="1"/>
<path d="M50,546 q4,-7 8,-1 q4,5 8,-2 q4,-7 8,-1 q4,5 8,-3" fill="none" stroke="#a84808" stroke-width="1.6"/>
<g fill="none" stroke="#3f66c0" stroke-width="1.2"><path d="M85.5,572 V614 Q85.5,616.5 88,616.5 H100 Q103,616.5 103,614 V572"/><path d="M85.5,574.5H103M85.5,587.5H103M85.5,601H103" stroke-width="2.2"/></g>
<path d="M68,604 Q74,609 86,608 Q96,607 101,598" fill="none" stroke="#6a4a40" stroke-width="4"/><path d="M64.5,603 L70,599 L73,610 L68,611 Z" fill="#6a4a40"/>
<path d="M150,626 C148,608 152,592 165,585 C175,581 190,580 205,583 L239,616 L238,626 Z" fill="#a9a9da" stroke="#5a5a9a" stroke-width=".8"/>
<path d="M172,587.5 H216 V596.5 H184 V604 H177 V596.5 H172 Z" fill="#c9c0be" stroke="#6a5a58" stroke-width=".8"/>
<rect x="170.5" y="603" width="17.5" height="17.5" fill="#5060b8" stroke="#2a3070" stroke-width="1"/><circle cx="179" cy="612" r="6.5" fill="#6a7acc"/><g fill="#2a3070"><circle cx="176" cy="609" r="1.2"/><circle cx="182" cy="609" r="1.2"/><circle cx="176" cy="615" r="1.2"/><circle cx="182" cy="615" r="1.2"/></g>
<path d="M697.5,408.7 L836,408.7 L838,418 L845,428 L843,440 L838,447 L843,460 L841,478 L870,485 L905,492 L925,502 L925,512 L752,512 L752,504 L657,504 L639.5,490 L625,487 L625,478 L614,477 L614,468 L607,467 L607,458 L597,457 L597,449 L590,448 L590,441 L697.5,441 Z" fill="#f2a956"/>
<path d="M581,412 L588,405 L598,404 L601,397 L610,394 L620,398 L624,407 L697.5,408 L697.5,441 L590,441 L584,430 L581,420 Z" fill="url(#wdash)"/>
<path d="M590,441 L655,441 L659,443.5 L655,448 L590,448 Z" fill="#d8a468" stroke="#5a3a28" stroke-width=".7"/>
<path d="M658,444.5 L724,444.5 Q738,444.5 738,430.5 L738,432" fill="none" stroke="#5a3a28" stroke-width="4.4"/>
<path d="M658,444.5 L724,444.5 Q738,444.5 738,430.5 L738,432" fill="none" stroke="#d8a468" stroke-width="2.6"/>
<path d="M597,449.5 L658,449.5 L662,452.25 L658,457 L597,457 Z" fill="#d8a468" stroke="#5a3a28" stroke-width=".7"/>
<path d="M661,453.25 L718.5,453.25 Q732.5,453.25 732.5,439.25 L732.5,432" fill="none" stroke="#5a3a28" stroke-width="4.4"/>
<path d="M661,453.25 L718.5,453.25 Q732.5,453.25 732.5,439.25 L732.5,432" fill="none" stroke="#d8a468" stroke-width="2.6"/>
<path d="M607,458.5 L661,458.5 L665,461.75 L661,467 L607,467 Z" fill="#d8a468" stroke="#5a3a28" stroke-width=".7"/>
<path d="M664,462.75 L713,462.75 Q727,462.75 727,448.75 L727,432" fill="none" stroke="#5a3a28" stroke-width="4.4"/>
<path d="M664,462.75 L713,462.75 Q727,462.75 727,448.75 L727,432" fill="none" stroke="#d8a468" stroke-width="2.6"/>
<path d="M614,468.5 L664,468.5 L668,471.75 L664,477 L614,477 Z" fill="#d8a468" stroke="#5a3a28" stroke-width=".7"/>
<path d="M667,472.75 L707.5,472.75 Q721.5,472.75 721.5,458.75 L721.5,432" fill="none" stroke="#5a3a28" stroke-width="4.4"/>
<path d="M667,472.75 L707.5,472.75 Q721.5,472.75 721.5,458.75 L721.5,432" fill="none" stroke="#d8a468" stroke-width="2.6"/>
<path d="M625,478.5 L667,478.5 L671,481.75 L667,487 L625,487 Z" fill="#d8a468" stroke="#5a3a28" stroke-width=".7"/>
<path d="M670,482.75 L702,482.75 Q716,482.75 716,468.75 L716,432" fill="none" stroke="#5a3a28" stroke-width="4.4"/>
<path d="M670,482.75 L702,482.75 Q716,482.75 716,468.75 L716,432" fill="none" stroke="#d8a468" stroke-width="2.6"/>
<path d="M697.7,408.7V504" stroke="#5a3a28" stroke-width=".7"/>
<path d="M727.6,445.2q3.5,-5.5 4.9,-6.0M702.2,476.8q3.4,-5.3 4.8,-5.5M746.4,475.8q5.0,-4.7 8.0,-4.5M772.9,491.4q4.5,1.0 7.0,6.9M727.6,476.0q5.4,-3.2 8.8,-1.4M712.6,457.9q4.8,-2.8 7.7,-0.7M774.3,464.1q3.2,-5.2 4.4,-5.4M765.8,450.5q5.0,-2.4 8.0,0.3M762.9,463.7q5.8,-1.6 9.6,1.9M772.9,477.2q5.0,-3.7 7.9,-2.4M754.8,483.8q4.3,-1.4 6.6,2.1M753.7,465.0q3.4,-3.8 4.9,-2.5M741.5,454.7q4.0,-3.7 6.0,-2.5M727.9,468.7q3.5,0.4 5.0,5.8M741.2,467.8q5.5,-2.1 9.0,0.8M739.2,474.2q3.9,-3.3 5.7,-1.6M716.0,450.1q3.4,-3.5 4.8,-2.0M731.2,477.7q4.4,-5.3 6.8,-5.6M733.9,480.6q5.5,-3.1 8.9,-1.1M751.0,451.9q4.1,-2.2 6.3,0.6M756.0,466.1q3.3,-3.7 4.5,-2.5M774.0,451.8q5.4,-4.6 8.7,-4.2M703.8,468.4q5.2,-3.0 8.3,-1.0M758.7,500.5q3.6,-3.4 5.1,-1.7M716.2,445.3q4.7,-4.1 7.4,-3.3M767.1,450.7q5.3,-4.4 8.6,-3.8M744.0,467.8q2.9,-4.3 3.8,-3.7M716.3,480.1q3.6,-5.2 5.3,-5.4M761.3,445.1q4.3,-3.8 6.6,-2.6M745.7,486.9q4.4,-1.4 6.8,2.3M725.4,480.7q5.8,-2.8 9.6,-0.7M739.7,478.4q4.5,-1.4 7.1,2.2M736.9,482.8q5.9,-1.6 9.8,1.8M722.9,473.2q4.0,0.9 6.0,6.8M741.6,462.3q4.0,-4.4 5.9,-3.9M732.0,469.6q4.4,-4.1 6.7,-3.1M743.0,450.8q5.1,-1.3 8.2,2.4M714.6,459.2q3.5,-5.2 5.0,-5.4M750.6,468.5q5.0,-1.9 7.9,1.3M703.3,448.1q5.8,-2.4 9.6,0.1M753.0,470.4q3.6,-3.7 5.1,-2.4M748.5,488.6q3.7,-3.0 5.3,-1.0M720.8,485.3q4.1,-0.9 6.2,3.3M766.5,467.2q3.0,-4.8 3.9,-4.6M766.8,485.2q3.4,-4.7 4.7,-4.4M729.6,472.4q4.2,-6.1 6.3,-7.2M739.8,460.0q3.6,-5.4 5.2,-5.9M770.0,486.0q4.7,0.3 7.5,5.6M749.9,448.3q4.7,-3.8 7.5,-2.6M731.2,457.4q4.3,-5.8 6.6,-6.5M750.0,462.0q5.7,-2.8 9.3,-0.5M710.8,480.9q5.2,-4.7 8.4,-4.4M760.0,499.0q4.7,-3.3 7.4,-1.6M724.1,465.0q4.4,1.1 6.7,7.2M774.6,496.8q5.2,-2.6 8.3,-0.2M693.6,471.5h7.7M689.5,464.2h5.4M685.5,458.2h5.0M667.2,455.3h7.6M696.9,491.0h6.0M687.6,484.4h5.8M679.3,456.4h5.0M672.7,467.9h6.6M668.9,461.9h7.5M688.9,496.6h7.1M667.2,474.4h7.3M689.8,461.4h5.9M681.8,450.6h5.0M687.4,483.3h5.8" fill="none" stroke="#4a3020" stroke-width=".8"/>
<path d="M601,408 L620,408 L628,415 L718,417 L718,426.5 L622,426.5 L612,420 L601,420 Z" fill="url(#pipe)" stroke="#5a3a28" stroke-width=".7"/>
<rect x="711" y="413" width="30" height="19" fill="none" stroke="#5a3a28" stroke-width=".7"/>
<path d="M712,417 L770,417 L770,427 L712,427 Z" fill="url(#pipe)" stroke="#5a3a28" stroke-width=".7"/>
<ellipse cx="734" cy="422" rx="4" ry="5" fill="#7a4a30" stroke="#3a2018" stroke-width=".8"/>
<path d="M744,422H762" stroke="#2a1a14" stroke-width="1"/><path d="M771,422l-10,-4.5l3,4.5l-3,4.5z" fill="#1a1412"/>
<path d="M793,414 L800,412 L842,446 L866,480 L884,520 L876,524 L858,486 L836,454 Z" fill="#a88060" stroke="#5a3a28" stroke-width=".7"/>
<path d="M748,323 C750,318 760,316 768,318 C776,319 781,325 784,330 C788,323 796,319 803,319 C811,319 818,324 822,330 C826,323 834,317 842,317 C850,317 855,321 855,328 C855,333 849,337 843,339 C847,342 847,348 843,352 C840,354 836,354 832,354 L828,395 L826,420 L829,442 L826,446 L822,470 L830,482 L826,490 L818,510 L812,516 L792,516 L785,510 L775,490 L772,482 L780,470 L776,446 L771,442 L778,425 L776,400 L770,370 L768,354 C764,354 760,354 758,352 C753,348 755,343 760,340 C754,338 748,334 747,330 Z" fill="url(#smk)" stroke="#a07040" stroke-width=".8"/>
<path d="M802,391 L797,440 L795,447 L809,445 L807,440 Z" fill="#f2a956"/>
<path d="M802,391 L797,440 M802,391 L807,440" stroke="#7a5a48" stroke-width=".6" fill="none"/>
<path d="M802,391 L801.2,396 L802.8,396 Z" fill="#fff"/>
<path d="M775,356l8,34M783,354l4,40M791,354l0,42M799,356l-3,36M806,356l4,36M813,354l2,42M821,354l-3,40M828,356l-7,34" stroke="#4a3a34" stroke-width=".7"/>
<path d="M787,436V410M817,436V410" stroke="#3a2a24" stroke-width="1"/><path d="M787,399l-4,10l4,-2.5l4,2.5zM817,399l-4,10l4,-2.5l4,2.5z" fill="#3a2a24"/>
<path d="M794,447 L809,445 L809,470 L802,478 L794,470 Z" fill="#d8a468" stroke="#3a2a24" stroke-width=".8"/><rect x="799" y="447" width="2.4" height="25" fill="#6a4a3a" stroke="#3a2a24" stroke-width=".5"/>
<rect x="780" y="476" width="9.5" height="9" fill="none" stroke="#3a2a24" stroke-width=".8"/><rect x="812" y="476" width="9.5" height="9" fill="none" stroke="#3a2a24" stroke-width=".8"/>
<path d="M794,485 Q802,496 810,485" fill="none" stroke="#3a2a24" stroke-width=".8"/><path d="M785,485V505M817,485V505" stroke="#3a2a24" stroke-width=".7"/>
<path d="M657,504 L752,504 L754,510 L751,517 L755,520 L750,532 L735,528 L715,524 L690,523 L600,523 L600,504 Z" fill="url(#pur)"/><path d="M657,504 L752,504 L754,510 L751,517 L755,520 L750,532 L735,528 L715,524 L690,523" fill="none" stroke="#a0479a" stroke-width=".6"/>
<rect x="752" y="511.5" width="173" height="12" fill="#43281f"/>
<g fill="none" stroke="#f4b868" stroke-width="5" stroke-linejoin="round"><path d="M796,514 Q781,518 779,528 V544"/><path d="M810,515 Q828,518 832,526 L812,530 Q806,532 806,544"/><path d="M852,527 H898 Q905,528 905,536 V552"/><path d="M872,488 L882,524 V545"/></g>
<rect x="776" y="538" width="46" height="13" fill="url(#cyl)" stroke="#5a3a28" stroke-width=".7"/>
<rect x="776" y="560" width="38" height="31" fill="url(#cyl)" stroke="#5a3a28" stroke-width=".7"/>
<rect x="815" y="558" width="23" height="34" fill="#8a6450" stroke="#3a2a24" stroke-width=".7"/>
<rect x="855" y="538" width="40" height="12" fill="url(#cyl)" stroke="#5a3a28" stroke-width=".7"/>
<rect x="855" y="556" width="36" height="30" fill="url(#cyl)" stroke="#5a3a28" stroke-width=".7"/>
<rect x="893" y="560" width="21" height="26" fill="url(#cyl)" stroke="#3a2a24" stroke-width=".7"/>
<g fill="#7a5a4c" stroke="#3a2a24" stroke-width=".6"><rect x="715" y="544" width="108" height="6"/><rect x="718" y="555" width="62" height="7"/><rect x="740" y="574" width="80" height="6"/><rect x="776" y="551" width="46" height="5"/><rect x="776" y="573" width="62" height="5"/><rect x="855" y="549" width="40" height="5"/><rect x="838" y="571" width="56" height="5"/><rect x="812" y="538" width="6" height="22"/><rect x="888" y="538" width="6" height="20"/></g>
<g fill="#1a1412"><path d="M779,572l-1,-14l4,4l6,-9l3,2l-6,9l5,2z"/><path d="M858,571l0,-13l4,4l7,-8l2,2l-7,9l4,3z"/><path d="M826,545l8,-3l-2,8z"/><path d="M903,545l4,-8l3,9z"/><path d="M803,507l9,3l-8,5z"/><path d="M853,527l9,-4l-1,8z"/><path d="M879,512l-5,-9l9,-1z"/></g>
<path d="M725,600 C727,592 735,586 750,585 C762,586 772,594 775,603 L860,603 C863,594 872,588 882,588 C898,589 910,598 912,612 C913,622 910,630 906,632 L730,632 C725,628 722,615 725,600 Z" fill="#a9a9da" stroke="#5a5a9a" stroke-width=".8"/>
<path d="M742,602 C748,599 758,599 764,603 C772,609 780,612 790,612 L850,612 C858,612 862,606 868,602 C874,599 886,598 891,603 C894,607 888,611 880,612 C872,614 866,622 850,626 L790,626 C776,626 768,618 752,612 C744,610 740,606 742,602 Z" fill="#b9aaa6" stroke="#5a4a48" stroke-width=".8"/>
<path d="M812,592 H820 V600 H818.5 V626 H813.5 V600 H812 Z" fill="#c8bdb9" stroke="#5a4a48" stroke-width=".7"/>
<rect x="739" y="609" width="18" height="18" fill="none" stroke="#4a4a8a" stroke-width=".7"/><circle cx="748" cy="618" r="8" fill="#6e4a3c" stroke="#3a2a24" stroke-width=".8"/>
<g fill="#2a1a14"><circle cx="745.5" cy="615.5" r="1.1"/><circle cx="750.5" cy="615.5" r="1.1"/><circle cx="745.5" cy="620.5" r="1.1"/><circle cx="750.5" cy="620.5" r="1.1"/></g>
<rect x="875" y="609" width="18" height="18" fill="none" stroke="#4a4a8a" stroke-width=".7"/><circle cx="884" cy="618" r="8" fill="#6e4a3c" stroke="#3a2a24" stroke-width=".8"/>
<g fill="#2a1a14"><circle cx="881.5" cy="615.5" r="1.1"/><circle cx="886.5" cy="615.5" r="1.1"/><circle cx="881.5" cy="620.5" r="1.1"/><circle cx="886.5" cy="620.5" r="1.1"/></g>
<path d="M905,627 L921,636 L919,640 L903,632 Z" fill="#a9a9da" stroke="#5a5a9a" stroke-width=".7"/>
<rect x="953" y="527" width="19" height="22" fill="url(#lamp)"/><rect x="973" y="529" width="5.5" height="16.5" fill="#ffec64" stroke="#d8b820" stroke-width=".8"/>
<path d="M914,503 L935,510 L955,525 L970,545 L980,560 L982,568 L981,598 L975,605 L938,619 L912,619 C914,610 912,600 905,595 L915,592 L925,585 L927,575 L925,562 L928,552 L926,540 L918,530 L912,522 Z" fill="url(#nose2)" stroke="#a0479a" stroke-width=".8"/>
<path d="M914,503 L935,510 L955,525 L970,545 L980,560 L982,568 L978,568 L955,555 L928,545 L918,530 L912,522 Z" fill="url(#nose2b)" stroke="#a0479a" stroke-width=".8"/>
<path d="M893,497 L912,500 L916,512 L914,517 L890,518 L890,506 Z" fill="#dcc4dc" stroke="#a0479a" stroke-width=".6"/><path d="M890,510H915" stroke="#f4eaf4" stroke-width="2"/>
<path d="M918,503 L940,510 L945,514 L930,513 L918,508 Z" fill="#ead8ea"/>
<path d="M836,411 L850,409 L892,408 L910,414 L930,428 L947,450 L960,480 L968,500 L969,508 L964,514 L955,514 L940,510 L925,502 L905,492 L880,484 L855,479 L842,476 L845,462 L841,452 L847,440 L844,425 L838,418 Z" fill="url(#nose1)" stroke="#a0479a" stroke-width=".8"/>
<path d="M840,412 L888,419 L890,440 L898,470 L898,490 L893,502" fill="none" stroke="#3a5aa8" stroke-width="1" stroke-dasharray="3,2.5"/>
<g fill="none" stroke="#4a70c8"><path d="M956.5,556 V614 Q956.5,616.5 959,616.5 H972 Q974,616.5 974,614 V568" stroke-width="1.1"/><path d="M956.5,574.5H974M956.5,588H974M956.5,601.5H974" stroke-width="2.4"/></g>
<path d="M983,578 H988 V582 H996 V578 H1002 V582 H1008 V575 Q1014,585 1008,597 V591 H1002 V595 H996 V591 H988 V594 H983 Z" fill="url(#buf)" stroke="#3a3a80" stroke-width=".6"/>
<path d="M988,595 L996,618" stroke="#1a1a1a" stroke-width="1"/><path d="M979,608.5 L1000,602" stroke="#1a1a1a" stroke-width="3"/><circle cx="996.5" cy="618.5" r="1.3" fill="#1a1a1a"/>
<path d="M442.5,396 V392 Q444.5,388 446.5,392 V396" fill="#9a4c8e" stroke="#7a3a70" stroke-width=".6"/>
</g>
<defs>
<linearGradient id="g2L" x1="27" y1="0" x2="560" y2="0" gradientUnits="userSpaceOnUse"><stop offset="0" stop-color="#2f9e35"/><stop offset=".035" stop-color="#55b250"/><stop offset=".095" stop-color="#cfe7c8"/><stop offset=".135" stop-color="#e8f3e4"/><stop offset=".3" stop-color="#d6ebcf"/><stop offset=".5" stop-color="#a9d49b"/><stop offset=".75" stop-color="#72b964"/><stop offset="1" stop-color="#3fa53d"/></linearGradient>
<linearGradient id="g2roof" x1="48" y1="0" x2="230" y2="0" gradientUnits="userSpaceOnUse"><stop offset="0" stop-color="#3aa53c"/><stop offset=".12" stop-color="#6fbd68"/><stop offset=".3" stop-color="#e2f0dc"/><stop offset="1" stop-color="#cfe6c6"/></linearGradient>
<linearGradient id="g2R" x1="884" y1="0" x2="1003" y2="0" gradientUnits="userSpaceOnUse"><stop offset="0" stop-color="#f2f8ee"/><stop offset=".3" stop-color="#a9d69f"/><stop offset=".7" stop-color="#5bb356"/><stop offset="1" stop-color="#27a02e"/></linearGradient>
<linearGradient id="g2Rroof" x1="900" y1="0" x2="982" y2="0" gradientUnits="userSpaceOnUse"><stop offset="0" stop-color="#f4f9f0"/><stop offset=".45" stop-color="#b4dbaa"/><stop offset="1" stop-color="#35a538"/></linearGradient>
<linearGradient id="door2" x1="93" y1="0" x2="130" y2="0" gradientUnits="userSpaceOnUse"><stop offset="0" stop-color="#5db658"/><stop offset="1" stop-color="#bfe0b6"/></linearGradient>
<linearGradient id="win2" x1="0" y1="0" x2="1" y2="1"><stop offset="0" stop-color="#26348c"/><stop offset="1" stop-color="#c4c8ea"/></linearGradient>
<linearGradient id="lavV" x1="0" y1="0" x2="0" y2="1"><stop offset="0" stop-color="#6c6cb6"/><stop offset="1" stop-color="#dcdcf4"/></linearGradient>
<linearGradient id="lavV2" x1="0" y1="0" x2="0" y2="1"><stop offset="0" stop-color="#8c8cca"/><stop offset="1" stop-color="#e6e6f8"/></linearGradient>
<linearGradient id="lavCyl" x1="0" y1="0" x2="0" y2="1"><stop offset="0" stop-color="#6464b0"/><stop offset=".4" stop-color="#e4e4fa"/><stop offset="1" stop-color="#5c5cac"/></linearGradient>
<linearGradient id="lavH" x1="0" y1="0" x2="1" y2="0"><stop offset="0" stop-color="#5a5aaa"/><stop offset=".5" stop-color="#e2e2f8"/><stop offset="1" stop-color="#5a5aaa"/></linearGradient>
<linearGradient id="lavH2" x1="0" y1="0" x2="1" y2="0"><stop offset="0" stop-color="#7474bc"/><stop offset=".45" stop-color="#d8d8f4"/><stop offset="1" stop-color="#8080c4"/></linearGradient>
<linearGradient id="dkblue" x1="0" y1="0" x2="0" y2="1"><stop offset="0" stop-color="#27388e"/><stop offset="1" stop-color="#8a90cc"/></linearGradient>
<linearGradient id="bog" x1="0" y1="0" x2="0" y2="1"><stop offset="0" stop-color="#4c4c9e"/><stop offset=".5" stop-color="#d4d4f2"/><stop offset="1" stop-color="#5858a8"/></linearGradient>
<linearGradient id="arm2" x1="163" y1="0" x2="215" y2="0" gradientUnits="userSpaceOnUse"><stop offset="0" stop-color="#e39a48"/><stop offset="1" stop-color="#f3d2a4"/></linearGradient>
<radialGradient id="hub2"><stop offset="0" stop-color="#fffbe0"/><stop offset=".35" stop-color="#d6c080"/><stop offset=".7" stop-color="#8a6a40"/><stop offset="1" stop-color="#5a4030"/></radialGradient>
<radialGradient id="tank2" cx=".5" cy=".5" r=".5"><stop offset="0" stop-color="#ffffff"/><stop offset=".35" stop-color="#d4c8c4"/><stop offset="1" stop-color="#7e645e"/></radialGradient>
<radialGradient id="circ2"><stop offset="0" stop-color="#f0f0fc"/><stop offset="1" stop-color="#8a8acc"/></radialGradient>
<pattern id="hatch2" width="3" height="3" patternUnits="userSpaceOnUse"><rect width="3" height="3" fill="#26347e"/><circle cx="1.5" cy="1.5" r=".7" fill="#98a0d8"/></pattern>
<pattern id="vstr2" width="3" height="10" patternUnits="userSpaceOnUse"><rect width="3" height="10" fill="#8484c6"/><rect width="1.2" height="10" fill="#d8d8f2"/></pattern>
<pattern id="ostr2" width="3" height="10" patternUnits="userSpaceOnUse"><rect width="3" height="10" fill="#f3c27c"/><rect width="1" height="10" fill="#e8a04a"/></pattern>
</defs>
<g id="loco2">
<path d="M160,1292 L900,1292 L900,1478 L690,1478 L690,1513 L620,1513 L620,1518 L570,1518 L560,1500 L540,1440 L216,1400 L160,1360 Z" fill="#f3d3a5"/>
<path d="M900,1352 L966,1352 L983,1400 L975,1410 L950,1425 L900,1452 Z" fill="#f3d3a5"/>
<path d="M627,1513 C630,1490 645,1472 668,1466 L712,1460 L712,1513 Z" fill="#ede7e3" stroke="#8a8ac0" stroke-width=".6"/>
<rect x="727" y="1288" width="176" height="10" fill="#fff"/><rect x="626" y="1288" width="102" height="7" fill="#fff"/>
<rect x="668" y="1438" width="180" height="40" fill="#b9a9a2"/>
<rect x="688" y="1450" width="79" height="26" fill="#ede7e3" stroke="#8a8ac0" stroke-width=".5"/>
<path d="M668,1455 L730,1451 L744,1451 L763,1465 L763,1469 L742,1459 L730,1459 L668,1467 Z" fill="#f3d3a5" stroke="#7a6a50" stroke-width=".6"/>
<path d="M850,1468 L870,1450 L886,1450 L886,1458 L872,1458 L852,1471 Z" fill="#f3d3a5" stroke="#7a6a50" stroke-width=".6"/>
<circle cx="807.5" cy="1488" r="29.5" fill="#f3d3a5" stroke="#d28a2c" stroke-width="2"/>
<circle cx="807.5" cy="1488" r="30.7" fill="none" stroke="#5a4030" stroke-width=".5"/>
<circle cx="731" cy="1509.5" r="36.5" fill="#fff" stroke="#30308a" stroke-width="1"/>
<circle cx="731" cy="1509.5" r="34" fill="#6a6ab4" stroke="#3c4aa0" stroke-width=".8"/>
<circle cx="731" cy="1509.5" r="32" fill="none" stroke="#fff" stroke-width=".8"/>
<circle cx="881" cy="1509.5" r="36.5" fill="#fff" stroke="#30308a" stroke-width="1"/>
<circle cx="881" cy="1509.5" r="34" fill="#6a6ab4" stroke="#3c4aa0" stroke-width=".8"/>
<circle cx="881" cy="1509.5" r="32" fill="none" stroke="#fff" stroke-width=".8"/>
<path d="M690,1477 L886,1477 L886,1487 L873,1490 L845,1500 L843,1512 L769,1512 L767,1500 L740,1488 L690,1488 Z" fill="url(#bog)" stroke="#3c4aa0" stroke-width=".8"/>
<path d="M699,1489 L763,1489 L761,1521 L701,1521 Z" fill="#7a7ac0" stroke="#3c4aa0" stroke-width=".8"/>
<rect x="704" y="1493" width="16" height="26" fill="#c8c8ee"/><path d="M704,1494l16,2l-16,2l16,2l-16,2l16,2l-16,2l16,2l-16,2l16,2l-16,2l16,2l-16,2" fill="none" stroke="#3c4aa0" stroke-width=".9"/>
<rect x="742" y="1493" width="16" height="26" fill="#c8c8ee"/><path d="M742,1494l16,2l-16,2l16,2l-16,2l16,2l-16,2l16,2l-16,2l16,2l-16,2l16,2l-16,2" fill="none" stroke="#3c4aa0" stroke-width=".9"/>
<circle cx="731" cy="1507.5" r="9.5" fill="url(#hub2)" stroke="#4a3428" stroke-width=".8"/>
<path d="M849,1489 L913,1489 L911,1521 L851,1521 Z" fill="#7a7ac0" stroke="#3c4aa0" stroke-width=".8"/>
<rect x="854" y="1493" width="16" height="26" fill="#c8c8ee"/><path d="M854,1494l16,2l-16,2l16,2l-16,2l16,2l-16,2l16,2l-16,2l16,2l-16,2l16,2l-16,2" fill="none" stroke="#3c4aa0" stroke-width=".9"/>
<rect x="892" y="1493" width="16" height="26" fill="#c8c8ee"/><path d="M892,1494l16,2l-16,2l16,2l-16,2l16,2l-16,2l16,2l-16,2l16,2l-16,2l16,2l-16,2" fill="none" stroke="#3c4aa0" stroke-width=".9"/>
<circle cx="881" cy="1507.5" r="9.5" fill="url(#hub2)" stroke="#4a3428" stroke-width=".8"/>
<path d="M697,1518 L770,1518 L775,1514 L837,1514 L842,1518 L917,1518 L905,1528 L850,1528 L843,1534 L772,1534 L765,1528 L705,1528 Z" fill="#b4b4e2" stroke="#3c4aa0" stroke-width=".8"/>
<rect x="772" y="1500" width="14" height="28" rx="2" fill="url(#lavV)" stroke="#3c4aa0" stroke-width=".8"/>
<rect x="774" y="1500" width="10" height="8" fill="#9a9ad4" stroke="#3c4aa0" stroke-width=".8"/>
<rect x="826" y="1500" width="14" height="28" rx="2" fill="url(#lavV)" stroke="#3c4aa0" stroke-width=".8"/>
<rect x="828" y="1500" width="10" height="8" fill="#9a9ad4" stroke="#3c4aa0" stroke-width=".8"/>
<circle cx="807" cy="1491" r="10" fill="url(#hub2)" stroke="#4a3428" stroke-width=".8"/>
<circle cx="650" cy="1495" r="18" fill="url(#tank2)" stroke="#5a4640" stroke-width=".8"/>
<path d="M668,1478 L700,1478 L706,1488 L690,1514 L672,1510 Z" fill="url(#lavH2)" stroke="#3c4aa0" stroke-width=".8"/>
<circle cx="701" cy="1481" r="2.2" fill="#26347e"/>
<path d="M632,1508 L697,1520" stroke="#3c4aa0" stroke-width="3"/><path d="M632,1508 L697,1520" stroke="#c4c4ec" stroke-width="1.4"/>
<rect x="628" y="1504" width="5" height="9" fill="#b4b4e2" stroke="#3c4aa0" stroke-width=".8"/>
<path d="M917,1519 H962 M968,1519 H975" stroke="#3c4aa0" stroke-width="3.4"/><path d="M917,1519 H962" stroke="#c4c4ec" stroke-width="1.6"/><rect x="960" y="1515" width="7" height="8.5" rx="1" fill="#b4b4e2" stroke="#3c4aa0" stroke-width=".8"/>
<g fill="none" stroke="#3c4aa0" stroke-width="3.2"><path d="M558,1479 H602 L665,1455 V1437 H712"/><path d="M581,1480 V1513 M613,1476 V1513 M574,1513 H622"/></g>
<g fill="none" stroke="#c4c4ec" stroke-width="1.4"><path d="M558,1479 H602 L665,1455 V1437 H712"/><path d="M581,1480 V1513 M613,1476 V1513 M574,1513 H622"/></g>
<rect x="612" y="1513" width="10" height="6" fill="#f3d3a5" stroke="#8a7a60" stroke-width=".6"/>
<rect x="226" y="1292" width="206" height="28" fill="url(#lavV)" stroke="#3c4aa0" stroke-width=".8"/>
<path d="M228,1294 H258 V1311 Q243,1314 228,1311 Z" fill="url(#vstr2)" stroke="#3c4aa0" stroke-width=".8"/>
<path d="M262,1294 H292 V1311 Q277,1314 262,1311 Z" fill="url(#vstr2)" stroke="#3c4aa0" stroke-width=".8"/>
<path d="M296,1294 H333 V1311 Q314.5,1314 296,1311 Z" fill="url(#vstr2)" stroke="#3c4aa0" stroke-width=".8"/>
<rect x="334" y="1303.5" width="25" height="4.5" fill="#c8c8ee" stroke="#3c4aa0" stroke-width=".8"/>
<rect x="365" y="1293" width="63" height="27" fill="#8888c8" stroke="#3c4aa0" stroke-width=".8"/>
<circle cx="376.5" cy="1308" r="7" fill="url(#circ2)" stroke="#3c4aa0" stroke-width=".8"/>
<circle cx="394" cy="1308" r="7" fill="url(#circ2)" stroke="#3c4aa0" stroke-width=".8"/>
<circle cx="411" cy="1308" r="7" fill="url(#circ2)" stroke="#3c4aa0" stroke-width=".8"/>
<path d="M252,1322 L270,1312 L295,1326 L268,1342 Z" fill="url(#lavH2)" stroke="#3c4aa0" stroke-width=".8"/>
<path d="M259,1318 L272,1311 L280,1326 L267,1333 Z" fill="#9090cc" stroke="#3c4aa0" stroke-width=".8"/><circle cx="270" cy="1322" r="4" fill="url(#circ2)"/>
<path d="M267,1333 L280,1327 L284,1333 L271,1340 Z" fill="#d0d0f0" stroke="#3c4aa0" stroke-width=".8"/>
<rect x="227" y="1343" width="64" height="55" fill="url(#lavV2)" stroke="#3c4aa0" stroke-width=".8"/>
<rect x="227" y="1348" width="31" height="30" fill="url(#lavV)"/>
<rect x="258.5" y="1348" width="27" height="18" fill="url(#hatch2)"/>
<rect x="227.5" y="1380" width="31" height="17" fill="url(#hatch2)"/>
<rect x="259" y="1366" width="25" height="32" fill="url(#lavV2)" stroke="#3c4aa0" stroke-width=".8"/>
<path d="M227,1348 H291" stroke="#3c4aa0" stroke-width=".8"/>
<rect x="328" y="1320" width="31" height="84" fill="url(#lavH2)" stroke="#3c4aa0" stroke-width=".8"/>
<rect x="323" y="1370" width="41" height="5.5" fill="#d4d4f2" stroke="#3c4aa0" stroke-width=".8"/>
<rect x="360" y="1322" width="72" height="32" fill="url(#dkblue)" stroke="#3c4aa0" stroke-width=".8"/>
<path d="M371,1328 V1353 M420,1328 V1353 M371,1328 H420" fill="none" stroke="#1f2c7a" stroke-width=".7"/>
<path d="M360,1355 H432 V1360 L400,1362 L378,1373 Z" fill="url(#lavV2)" stroke="#3c4aa0" stroke-width=".8"/>
<path d="M394,1388 H452 V1426 H394 Z" fill="url(#lavV)" stroke="#3c4aa0" stroke-width=".8"/>
<rect x="453" y="1376" width="14" height="52" fill="url(#lavH2)" stroke="#3c4aa0" stroke-width=".8"/>
<path d="M438,1370 H456 V1381 H448 L438,1376 Z" fill="url(#lavV2)" stroke="#3c4aa0" stroke-width=".8"/>
<rect x="405" y="1358" width="27" height="6" fill="#8c8cca" stroke="#3c4aa0" stroke-width=".8"/>
<rect x="398" y="1363" width="34" height="28" fill="url(#lavCyl)" stroke="#3c4aa0" stroke-width=".8"/>
<rect x="393" y="1370" width="6" height="14" fill="url(#lavCyl)" stroke="#3c4aa0" stroke-width=".8"/>
<rect x="432" y="1364" width="5" height="30" fill="url(#lavCyl)" stroke="#3c4aa0" stroke-width=".8"/>
<rect x="376" y="1372" width="4" height="12" fill="#9a9ad4" stroke="#3c4aa0" stroke-width=".8"/>
<rect x="379" y="1373" width="15" height="42" fill="url(#ostr2)"/>
<path d="M163,1345 L168,1330 L180,1318 L200,1313 L216,1311 L216,1392 L205,1390 L190,1387 L175,1375 L165,1360 Z" fill="url(#arm2)"/>
<path d="M181,1319V1380M184,1318V1383M194,1315V1388M197,1314V1389M200,1314V1390" stroke="#f0bc78" stroke-width="1"/>
<path d="M452,1292 C452,1312 456,1322 466,1324 L466,1312 C462,1310 460,1302 460,1292 Z" fill="url(#lavH2)" stroke="#3c4aa0" stroke-width=".8"/>
<rect x="465" y="1298" width="109" height="38" rx="3" fill="url(#lavCyl)" stroke="#3c4aa0" stroke-width=".8"/>
<path d="M475,1298V1336M477,1298V1336M517,1298V1336M519,1298V1336M560,1298V1336M562,1298V1336" stroke="#4a4aa0" stroke-width=".7"/>
<rect x="462" y="1308" width="4" height="22" fill="#b0b0e0" stroke="#3c4aa0" stroke-width=".8"/><rect x="573" y="1308" width="4" height="22" fill="#b0b0e0" stroke="#3c4aa0" stroke-width=".8"/>
<path d="M577,1311 C590,1310 596,1318 596,1330 L583,1330 C583,1324 581,1322 577,1322 Z" fill="url(#lavV2)" stroke="#3c4aa0" stroke-width=".8"/>
<path d="M580,1330 H598 L595,1340 H583 Z" fill="#c4c4ec" stroke="#3c4aa0" stroke-width=".8"/><rect x="579" y="1340" width="18" height="6" fill="#b0b0e0" stroke="#3c4aa0" stroke-width=".8"/><rect x="583" y="1346" width="11" height="22" fill="url(#lavH2)" stroke="#3c4aa0" stroke-width=".8"/>
<path d="M597,1305 H627 V1330 L620,1346 H608 L597,1330 Z" fill="url(#lavV)" stroke="#3c4aa0" stroke-width=".8"/>
<path d="M601,1310 H623 V1328 L618,1340 H610 L601,1328 Z" fill="#a4a4d8" stroke="#3c4aa0" stroke-width=".8"/>
<path d="M598,1350 C600,1343 606,1343 612,1347 L628,1356 L622,1366 L604,1358 C599,1356 597,1354 598,1350 Z" fill="url(#lavV2)" stroke="#3c4aa0" stroke-width=".8"/>
<path d="M467,1368 H623 V1456 H545 L535,1437 L520,1430 L500,1427 L467,1426 Z" fill="#8282c4" stroke="#3c4aa0" stroke-width=".8"/>
<path d="M467,1340 L480,1342 L482,1346 L490,1346 L492,1368 L478,1368 Z M488,1345 C492,1340 498,1344 500,1352 L501,1368 L494,1368 Z M500,1342 L512,1342 L510,1350 L510,1368 L503,1368 Z" fill="url(#lavV2)" stroke="#3c4aa0" stroke-width=".8"/>
<rect x="512" y="1347" width="68" height="21" fill="url(#lavV)" stroke="#3c4aa0" stroke-width=".8"/>
<rect x="513" y="1356" width="14" height="12" fill="#a0a0d6" stroke="#3c4aa0" stroke-width=".8"/><rect x="566" y="1356" width="16" height="12" fill="#a0a0d6" stroke="#3c4aa0" stroke-width=".8"/>
<rect x="480" y="1372" width="13" height="21" rx="2.5" fill="url(#lavV2)" stroke="#3c4aa0" stroke-width=".8"/>
<rect x="480" y="1418.5" width="13" height="18" rx="2.5" fill="url(#lavV2)" stroke="#3c4aa0" stroke-width=".8"/>
<path d="M484,1395 h5 v8 h-5 z" fill="#c8c8ee" stroke="#3c4aa0" stroke-width=".8"/>
<rect x="497.9" y="1372" width="13" height="21" rx="2.5" fill="url(#lavV2)" stroke="#3c4aa0" stroke-width=".8"/>
<rect x="497.9" y="1418.5" width="13" height="18" rx="2.5" fill="url(#lavV2)" stroke="#3c4aa0" stroke-width=".8"/>
<path d="M501.9,1395 h5 v8 h-5 z" fill="#c8c8ee" stroke="#3c4aa0" stroke-width=".8"/>
<rect x="515.8" y="1372" width="13" height="21" rx="2.5" fill="url(#lavV2)" stroke="#3c4aa0" stroke-width=".8"/>
<rect x="515.8" y="1418.5" width="13" height="18" rx="2.5" fill="url(#lavV2)" stroke="#3c4aa0" stroke-width=".8"/>
<path d="M519.8,1395 h5 v8 h-5 z" fill="#c8c8ee" stroke="#3c4aa0" stroke-width=".8"/>
<rect x="533.7" y="1372" width="13" height="21" rx="2.5" fill="url(#lavV2)" stroke="#3c4aa0" stroke-width=".8"/>
<rect x="533.7" y="1418.5" width="13" height="18" rx="2.5" fill="url(#lavV2)" stroke="#3c4aa0" stroke-width=".8"/>
<path d="M537.7,1395 h5 v8 h-5 z" fill="#c8c8ee" stroke="#3c4aa0" stroke-width=".8"/>
<rect x="551.6" y="1372" width="13" height="21" rx="2.5" fill="url(#lavV2)" stroke="#3c4aa0" stroke-width=".8"/>
<rect x="551.6" y="1418.5" width="13" height="18" rx="2.5" fill="url(#lavV2)" stroke="#3c4aa0" stroke-width=".8"/>
<path d="M555.6,1395 h5 v8 h-5 z" fill="#c8c8ee" stroke="#3c4aa0" stroke-width=".8"/>
<rect x="569.5" y="1372" width="13" height="21" rx="2.5" fill="url(#lavV2)" stroke="#3c4aa0" stroke-width=".8"/>
<rect x="569.5" y="1418.5" width="13" height="18" rx="2.5" fill="url(#lavV2)" stroke="#3c4aa0" stroke-width=".8"/>
<path d="M573.5,1395 h5 v8 h-5 z" fill="#c8c8ee" stroke="#3c4aa0" stroke-width=".8"/>
<rect x="587.4" y="1372" width="13" height="21" rx="2.5" fill="url(#lavV2)" stroke="#3c4aa0" stroke-width=".8"/>
<rect x="587.4" y="1418.5" width="13" height="18" rx="2.5" fill="url(#lavV2)" stroke="#3c4aa0" stroke-width=".8"/>
<path d="M591.4,1395 h5 v8 h-5 z" fill="#c8c8ee" stroke="#3c4aa0" stroke-width=".8"/>
<rect x="605.3" y="1372" width="13" height="21" rx="2.5" fill="url(#lavV2)" stroke="#3c4aa0" stroke-width=".8"/>
<rect x="605.3" y="1418.5" width="13" height="18" rx="2.5" fill="url(#lavV2)" stroke="#3c4aa0" stroke-width=".8"/>
<path d="M609.3,1395 h5 v8 h-5 z" fill="#c8c8ee" stroke="#3c4aa0" stroke-width=".8"/>
<rect x="478" y="1393" width="150" height="11" fill="#8c8cca" stroke="#3c4aa0" stroke-width=".8"/>
<rect x="478" y="1403" width="170" height="12" rx="2" fill="url(#lavV2)" stroke="#3c4aa0" stroke-width=".8"/>
<path d="M622,1366 C622,1352 628,1351 636,1351 C645,1351 650,1354 650,1366 V1388 H622 Z" fill="url(#lavH2)" stroke="#3c4aa0" stroke-width=".8"/>
<rect x="621" y="1366" width="30" height="5" fill="#d4d4f2" stroke="#3c4aa0" stroke-width=".8"/>
<rect x="623" y="1388" width="24" height="16" fill="url(#lavH2)" stroke="#3c4aa0" stroke-width=".8"/>
<path d="M623,1415 H636 V1456 H623 Z" fill="#7070b8" stroke="#3c4aa0" stroke-width=".8"/><rect x="627" y="1416" width="4" height="30" fill="#26347e"/><rect x="634" y="1417" width="5" height="18" fill="#5a5aaa" stroke="#3c4aa0" stroke-width=".8"/>
<path d="M562,1444 H583 V1448 H587 V1452 H558 V1448 H562 Z" fill="#c4c4ec" stroke="#3c4aa0" stroke-width=".8"/><path d="M561,1453 H584 V1462 C584,1470 578,1473 572.5,1473 C567,1473 561,1470 561,1462 Z" fill="url(#lavH2)" stroke="#3c4aa0" stroke-width=".8"/>
<path d="M640,1422 L742,1414" stroke="#3c4aa0" stroke-width="5.5"/><path d="M640,1421 L742,1413" stroke="#8080c4" stroke-width="3"/>
<rect x="716" y="1408" width="6" height="13" fill="#8080c4" stroke="#3c4aa0" stroke-width=".8"/><rect x="737" y="1410" width="5" height="11" fill="#8080c4" stroke="#3c4aa0" stroke-width=".8"/>
<rect x="654" y="1289" width="52" height="6" rx="2" fill="#4aad48" stroke="#2f9e35" stroke-width=".8"/>
<rect x="657" y="1296" width="48" height="25" fill="url(#circ2)" stroke="#3c4aa0" stroke-width=".8"/>
<rect x="654" y="1295" width="54" height="3" fill="#a4a4d8" stroke="#3c4aa0" stroke-width=".8"/>
<path d="M662,1307H682M689,1307H704" stroke="#30308a" stroke-width="1.4"/>
<rect x="667" y="1322" width="36" height="6" fill="#c4c4ec" stroke="#3c4aa0" stroke-width=".8"/>
<rect x="670" y="1329" width="32" height="39" fill="url(#lavH2)" stroke="#3c4aa0" stroke-width=".8"/>
<rect x="666" y="1367.5" width="40" height="4.5" fill="#d4d4f2" stroke="#3c4aa0" stroke-width=".8"/>
<rect x="668" y="1372" width="36" height="51" fill="url(#lavV)" stroke="#3c4aa0" stroke-width=".8"/>
<rect x="647" y="1428" width="61" height="4" fill="#c4c4ec" stroke="#3c4aa0" stroke-width=".8"/><rect x="665" y="1423" width="42" height="4" fill="#b0b0e0" stroke="#3c4aa0" stroke-width=".8"/>
<path d="M622,1349 L712,1327" stroke="#3c4aa0" stroke-width="5.5"/><path d="M622,1349 L712,1327" stroke="#b4b4e2" stroke-width="3.6"/>
<path d="M646,1339l2,9M690,1328l2,9M695,1327l2,9" stroke="#3c4aa0" stroke-width="2.5"/>
<rect x="722" y="1298" width="6" height="102" fill="#e0c89c" stroke="#3c4aa0" stroke-width=".6"/>
<path d="M728,1298 H898 L895,1340 L892,1382 H728 Z" fill="url(#lavV2)" stroke="#3c4aa0" stroke-width=".8"/>
<rect x="728" y="1382" width="158" height="48" fill="url(#lavV2)" stroke="#3c4aa0" stroke-width=".8"/>
<rect x="688" y="1430" width="210" height="2.4" fill="#b4b4e2" stroke="#3c4aa0" stroke-width=".8"/>
<path d="M804,1298 H815 L811,1349 H806 Z" fill="url(#lavH2)" stroke="#3c4aa0" stroke-width=".8"/>
<path d="M734,1324 h14 v6 h-14 z M784,1324 h14 v6 h-14 z" fill="#c0c0ea" stroke="#3c4aa0" stroke-width=".8"/>
<ellipse cx="766" cy="1321" rx="18" ry="32" fill="url(#lavH)" stroke="#3c4aa0" stroke-width=".8"/>
<rect x="757.5" y="1352" width="17" height="4" fill="#7070b8" stroke="#3c4aa0" stroke-width=".8"/>
<rect x="754.5" y="1355" width="23" height="17" fill="url(#lavV2)" stroke="#3c4aa0" stroke-width=".8"/>
<path d="M819,1324 h14 v6 h-14 z M869,1324 h14 v6 h-14 z" fill="#c0c0ea" stroke="#3c4aa0" stroke-width=".8"/>
<ellipse cx="851" cy="1321" rx="18" ry="32" fill="url(#lavH)" stroke="#3c4aa0" stroke-width=".8"/>
<rect x="842.5" y="1352" width="17" height="4" fill="#7070b8" stroke="#3c4aa0" stroke-width=".8"/>
<rect x="839.5" y="1355" width="23" height="17" fill="url(#lavV2)" stroke="#3c4aa0" stroke-width=".8"/>
<path d="M742,1388 H801 V1419 H738 V1393 Z" fill="#9494cc" stroke="#3c4aa0" stroke-width=".8"/>
<path d="M808,1388 H868 L872,1393 V1412 L866,1419 H808 Z" fill="#9494cc" stroke="#3c4aa0" stroke-width=".8"/>
<path d="M746,1391.5H797M813,1391.5H866M746,1395.1H797M813,1395.1H866M746,1398.7H797M813,1398.7H866M746,1402.3H797M813,1402.3H866M746,1405.9H797M813,1405.9H866M746,1409.5H797M813,1409.5H866M746,1413.1H797M813,1413.1H866M746,1416.7H797M813,1416.7H866" stroke="#4c4ca4" stroke-width="1.4"/>
<rect x="742" y="1357" width="8" height="66" fill="url(#ostr2)"/>
<rect x="737" y="1410" width="6" height="12" fill="#7070b8" stroke="#3c4aa0" stroke-width=".8"/>
<rect x="226" y="1288" width="205" height="4.5" rx="2" fill="#3aa53c"/><rect x="330" y="1288.6" width="100" height="2" fill="#b6ddb0"/>
<path d="M434,1292.5 V1290 Q434,1288 437,1288 H624 L626,1291 H652" fill="none" stroke="#3aa53c" stroke-width="1"/><rect x="434" y="1288" width="190" height="4.5" rx="2" fill="#3aa53c"/><rect x="520" y="1288.6" width="103" height="2" fill="#b6ddb0"/>
<circle cx="148.5" cy="1508.5" r="34.5" fill="#fff" stroke="#30308a" stroke-width="1"/>
<circle cx="148.5" cy="1508.5" r="32" fill="#6a6ab4" stroke="#3c4aa0" stroke-width=".8"/>
<circle cx="148.5" cy="1508.5" r="30" fill="none" stroke="#fff" stroke-width=".8"/>
<circle cx="298" cy="1508.5" r="34.5" fill="#fff" stroke="#30308a" stroke-width="1"/>
<circle cx="298" cy="1508.5" r="32" fill="#6a6ab4" stroke="#3c4aa0" stroke-width=".8"/>
<circle cx="298" cy="1508.5" r="30" fill="none" stroke="#fff" stroke-width=".8"/>
<path d="M108,1474 L336,1474 L336,1484 L323,1487 L262,1497 L260,1509 L186.5,1509 L184.5,1497 L158,1485 L108,1485 Z" fill="url(#bog)" stroke="#3c4aa0" stroke-width=".8"/>
<path d="M116.5,1486 L180.5,1486 L178.5,1518 L118.5,1518 Z" fill="#7a7ac0" stroke="#3c4aa0" stroke-width=".8"/>
<rect x="121.5" y="1490" width="16" height="26" fill="#c8c8ee"/><path d="M121.5,1491l16,2l-16,2l16,2l-16,2l16,2l-16,2l16,2l-16,2l16,2l-16,2l16,2l-16,2" fill="none" stroke="#3c4aa0" stroke-width=".9"/>
<rect x="159.5" y="1490" width="16" height="26" fill="#c8c8ee"/><path d="M159.5,1491l16,2l-16,2l16,2l-16,2l16,2l-16,2l16,2l-16,2l16,2l-16,2l16,2l-16,2" fill="none" stroke="#3c4aa0" stroke-width=".9"/>
<circle cx="148.5" cy="1506.5" r="9.5" fill="url(#hub2)" stroke="#4a3428" stroke-width=".8"/>
<path d="M266,1486 L330,1486 L328,1518 L268,1518 Z" fill="#7a7ac0" stroke="#3c4aa0" stroke-width=".8"/>
<rect x="271" y="1490" width="16" height="26" fill="#c8c8ee"/><path d="M271,1491l16,2l-16,2l16,2l-16,2l16,2l-16,2l16,2l-16,2l16,2l-16,2l16,2l-16,2" fill="none" stroke="#3c4aa0" stroke-width=".9"/>
<rect x="309" y="1490" width="16" height="26" fill="#c8c8ee"/><path d="M309,1491l16,2l-16,2l16,2l-16,2l16,2l-16,2l16,2l-16,2l16,2l-16,2l16,2l-16,2" fill="none" stroke="#3c4aa0" stroke-width=".9"/>
<circle cx="298" cy="1506.5" r="9.5" fill="url(#hub2)" stroke="#4a3428" stroke-width=".8"/>
<path d="M114.5,1515 L187.5,1515 L192.5,1511 L254,1511 L259,1515 L334,1515 L322,1525 L267,1525 L260,1531 L189.5,1531 L182.5,1525 L122.5,1525 Z" fill="#b4b4e2" stroke="#3c4aa0" stroke-width=".8"/>
<rect x="189.5" y="1497" width="14" height="28" rx="2" fill="url(#lavV)" stroke="#3c4aa0" stroke-width=".8"/>
<rect x="191.5" y="1497" width="10" height="8" fill="#9a9ad4" stroke="#3c4aa0" stroke-width=".8"/>
<rect x="243" y="1497" width="14" height="28" rx="2" fill="url(#lavV)" stroke="#3c4aa0" stroke-width=".8"/>
<rect x="245" y="1497" width="10" height="8" fill="#9a9ad4" stroke="#3c4aa0" stroke-width=".8"/>
<path d="M100,1516 L115,1494 L115,1516 Z" fill="#5070b8" stroke="#3c4aa0" stroke-width=".8"/>
<path d="M28,1395 L30,1391 L55,1391 L47,1391 L52,1347 L52,1337 L48,1336 L48,1315 L50,1313 L82,1313 L100,1306 L128,1302 L128,1292.5 L226,1292.5 L226,1310 L200,1313 L180,1318 L168,1330 L163,1345 L165,1360 L175,1375 L190,1387 L205,1390 L215,1387 L227,1396 L291,1398 L300,1400 L328,1402 L360,1404 L378,1408 L395,1413 L415,1415 L432,1420 L450,1424 L472,1426 L500,1427 L520,1430 L535,1437 L545,1448 L550,1458 L553,1465 L552,1472 L556,1480 L558,1492 L565,1503 L572,1512 L574,1514 L352,1514 L346,1508 L338,1495 L330,1487 L259,1487 L259,1497 L187,1497 L187,1486 L113,1486 L105,1495 L95,1507 L58,1507 L47,1507 L42,1500 L38,1465 L27,1460 Z" fill="url(#g2L)" stroke="#2f9e35" stroke-width=".8"/>
<path d="M52,1347 L52,1337 L48,1336 L48,1315 L50,1313 L82,1313 L100,1306 L128,1302 L128,1292.5 L226,1292.5 L226,1310 L200,1313 L180,1318 L168,1330 L163,1345 L165,1360 L175,1375 L190,1387 L177,1391 L132,1347 Z" fill="url(#g2roof)" stroke="#2f9e35" stroke-width=".8"/>
<path d="M55,1331 C70,1318 95,1308 128,1302 M57,1331 H163 M128,1297 H195 V1310" fill="none" stroke="#2f9e35" stroke-width=".8"/>
<path d="M110,1293 L117,1294 V1302 L110,1303 Z M117,1295 H128 V1301 H117 Z" fill="#8cc884" stroke="#2f9e35" stroke-width=".8"/>
<path d="M62,1347 L132,1347 L177,1391 L55,1391 Z" fill="#fbe5ae"/>
<path d="M58,1350 L64,1347 L55,1391 L47,1391 Z" fill="#a8b0e0" stroke="#4a5ab0" stroke-width=".8"/><path d="M60,1352 L52,1389" stroke="#fff" stroke-width="1.5"/>
<rect x="93" y="1347" width="37" height="101" rx="2" fill="url(#door2)" stroke="#2f9e35" stroke-width=".8"/>
<rect x="99" y="1352" width="26" height="37" rx="1.5" fill="url(#win2)" stroke="#3a4aa0" stroke-width=".8"/>
<rect x="118" y="1432" width="10" height="3" rx="1" fill="#7cc474" stroke="#2f9e35" stroke-width=".8"/>
<rect x="104" y="1471" width="17.5" height="4.5" rx="1.5" fill="#4db648" stroke="#2f9e35" stroke-width=".8"/>
<path d="M38,1465 L90,1450.5 L548,1451.5" fill="none" stroke="#2f9e35" stroke-width=".8"/>
<path d="M30,1391 H55 M177,1391 L215,1393" fill="none" stroke="#2f9e35" stroke-width=".8"/>
<g fill="none" stroke="#6a4a48" stroke-width="2.6" stroke-linecap="round"><path d="M84,1400 V1396 Q84,1394 87,1394 Q90.5,1394 90.5,1398 V1473"/><path d="M140,1400 V1396 Q140,1394 137,1394 Q133.5,1394 133.5,1398 V1473"/></g>
<path d="M329,1404 V1442 H365 V1407" fill="none" stroke="#3a6a3a" stroke-width=".9"/>
<circle cx="482.5" cy="1467" r="11" fill="#cdeac4" stroke="#2f8a35" stroke-width=".9"/><path d="M476,1468 C476,1458 489,1458 489,1468" fill="#e8f6e2" stroke="#2f8a35" stroke-width=".7"/><rect x="474.5" y="1469" width="16" height="2.6" fill="#2f9e35"/>
<path d="M47,1507 L58,1507 L58,1530 L52,1532 L48,1528 Z" fill="#8fd08a" stroke="#2f9e35" stroke-width=".8"/>
<rect x="21" y="1400.5" width="7" height="2.5" fill="#ffee50"/><rect x="25.5" y="1407" width="2.5" height="14" fill="#f0a848"/><rect x="21" y="1434" width="6.5" height="17" fill="#b0a8dc" stroke="#6060a8" stroke-width=".6"/>
<rect x="12" y="1470" width="26" height="13.5" fill="#6c4a44" stroke="#3a2420" stroke-width=".6"/><ellipse cx="10" cy="1476.5" rx="2.6" ry="12" fill="#6c4a44" stroke="#3a2420" stroke-width=".6"/>
<path d="M20,1484 V1492 M34,1484 V1500" stroke="#1a1a1a" stroke-width="1"/><path d="M13,1491 L34,1501" stroke="#1a1a1a" stroke-width="3"/><path d="M25,1495 L18,1508" stroke="#1a1a1a" stroke-width="1.3"/>
<path d="M212,1455 L212,1440 L225,1436 L240,1440 L256,1437 L271,1442 L274,1448 L272,1465 L270,1473 L268,1483 L255,1482 L240,1484 L225,1480 L215,1470 Z" fill="#f3d3a5" stroke="#2f9e35" stroke-width=".8"/>
<clipPath id="tmc"><path d="M212,1455 L212,1440 L225,1436 L240,1440 L256,1437 L271,1442 L274,1448 L272,1465 L270,1473 L268,1483 L255,1482 L240,1484 L225,1480 L215,1470 Z"/></clipPath>
<g clip-path="url(#tmc)"><rect x="205" y="1474" width="70" height="12" fill="#7c7cc0"/><circle cx="222" cy="1482" r="37" fill="none" stroke="#5a4030" stroke-width="3"/><circle cx="222" cy="1482" r="37" fill="none" stroke="#e09a38" stroke-width="1.8"/></g>
<path d="M62,1519 L115,1523" stroke="#3c4aa0" stroke-width="3"/><path d="M62,1519 L115,1523" stroke="#c4c4ec" stroke-width="1.4"/><rect x="62" y="1514" width="5" height="9" fill="#b4b4e2" stroke="#3c4aa0" stroke-width=".8"/>
<path d="M338,1520 L385,1515" stroke="#3c4aa0" stroke-width="2.6"/><path d="M338,1520 L385,1515" stroke="#c4c4ec" stroke-width="1.2"/>
<path d="M187,1486 V1497 H259 V1487" fill="none" stroke="#2f9e35" stroke-width=".8"/>
<path d="M900,1298 V1442" stroke="#3c4aa0" stroke-width="2"/>
<path d="M901,1307 L912,1308 L935,1314 L953,1322 L968,1330 L975,1338 L980,1348 L981,1352 L901,1352 Z" fill="url(#g2Rroof)" stroke="#2f9e35" stroke-width=".8"/>
<path d="M953,1321 H982 V1340 H976 L968,1330 Z" fill="#9fd498" stroke="#2f9e35" stroke-width=".8"/><rect x="982" y="1324" width="4" height="13" fill="#3aa53c"/>
<path d="M901,1338 H964 V1352 M964,1342 H977" fill="none" stroke="#2f9e35" stroke-width=".8"/>
<path d="M905,1298 H912 V1306 H905 Z M912,1300 L923,1297 V1306 L912,1304 Z" fill="#7cc474" stroke="#2f9e35" stroke-width=".8"/>
<path d="M966,1354 L972,1354 L987,1398 L981,1400 Z" fill="#a8b0e0" stroke="#3a4aa0" stroke-width=".8"/><path d="M970,1357 L984,1397" stroke="#fff" stroke-width="1.3"/>
<rect x="901" y="1354" width="36" height="99" rx="2" fill="none" stroke="#4a8a4a" stroke-width=".8"/>
<rect x="905" y="1359" width="26" height="37" rx="1.5" fill="url(#win2)" stroke="#3a4aa0" stroke-width=".8"/>
<rect x="910" y="1402" width="4.5" height="13" rx="2" fill="#c86088" stroke="#8a2a50" stroke-width=".6"/><path d="M912,1415 Q913,1419 918,1419" fill="none" stroke="#8a2a50" stroke-width="1"/><rect x="916" y="1416" width="19.5" height="6" rx="1.5" fill="#d07898" stroke="#8a2a50" stroke-width=".6"/><path d="M925,1422V1437" stroke="#b04870" stroke-width="1.2"/>
<path d="M941,1402 L963,1398 L970,1388 L973,1388 L976,1398 L985,1400 L975,1408 L960,1415 L960,1408 L941,1408 Z" fill="#6c4a44" stroke="#3a2420" stroke-width=".6"/>
<path d="M941,1397.5 L956,1395" stroke="#b04870" stroke-width="2"/>
<path d="M884,1442 L895,1441 L910,1440 L930,1435 L940,1430 L950,1420 L960,1414 L975,1408 L985,1400 L995,1398 L1001,1400 L1002,1410 L1002,1465 L1000,1472 L990,1473 L988,1480 L986,1510 L984,1513 L932,1513 L925,1507 L915,1492 L910,1490 L884,1488 L885,1470 L887,1455 Z" fill="url(#g2R)" stroke="#2f9e35" stroke-width=".8"/>
<path d="M901,1442 V1453 H937 V1432" fill="none" stroke="#4a9a4a" stroke-width=".8"/>
<path d="M970,1513 L984,1513 L982,1535 L974,1535 L970,1528 Z" fill="#6cc068" stroke="#2f9e35" stroke-width=".8"/>
<path d="M897.5,1441 V1473 M940,1432 V1473" stroke="#6a4a48" stroke-width="2.2" stroke-linecap="round"/>
<path d="M1002,1408 H1015" stroke="#3aa53c" stroke-width="1.4"/><rect x="1002" y="1415" width="2.5" height="15" fill="#a8a8b8"/><rect x="1003" y="1441" width="6.5" height="20" rx="1" fill="#b0a8dc" stroke="#6060a8" stroke-width=".6"/><rect x="1003" y="1447" width="3.2" height="14" fill="#f0a040"/>
<rect x="990" y="1477" width="25" height="15" fill="#6c4a44" stroke="#3a2420" stroke-width=".6"/><ellipse cx="1018" cy="1484.5" rx="2.6" ry="12" fill="#6c4a44" stroke="#3a2420" stroke-width=".6"/>
<path d="M993,1493 V1508" stroke="#1a1a1a" stroke-width="1"/><path d="M992,1506 L1013,1498" stroke="#1a1a1a" stroke-width="3"/><path d="M1003,1502 L1009,1515" stroke="#1a1a1a" stroke-width="1.3"/>
</g>
<defs>
<linearGradient id="roof3" x1="0" y1="2177" x2="0" y2="2206" gradientUnits="userSpaceOnUse"><stop offset="0" stop-color="#f19a1c"/><stop offset=".18" stop-color="#fbbe48"/><stop offset=".5" stop-color="#fff0c4"/><stop offset=".62" stop-color="#fcd274"/><stop offset="1" stop-color="#f7ad36"/></linearGradient>
<linearGradient id="body3" x1="0" y1="2200" x2="0" y2="2338" gradientUnits="userSpaceOnUse"><stop offset="0" stop-color="#f2b890"/><stop offset=".18" stop-color="#eaa068"/><stop offset=".43" stop-color="#dc8238"/><stop offset=".71" stop-color="#cc6612"/><stop offset=".755" stop-color="#d87a30"/><stop offset=".79" stop-color="#f0b080"/><stop offset=".855" stop-color="#f4bc90"/><stop offset=".9" stop-color="#e89858"/><stop offset="1" stop-color="#d87424"/></linearGradient>
<linearGradient id="nose3" x1="0" y1="2272" x2="0" y2="2346" gradientUnits="userSpaceOnUse"><stop offset="0" stop-color="#e89050"/><stop offset=".3" stop-color="#d0640f"/><stop offset=".55" stop-color="#e48a48"/><stop offset=".72" stop-color="#f8c89c"/><stop offset=".85" stop-color="#e48a48"/><stop offset="1" stop-color="#cf640f"/></linearGradient>
<linearGradient id="door3" x1="0" y1="0" x2="1" y2="1"><stop offset="0" stop-color="#f8c8a0"/><stop offset="1" stop-color="#e88c48"/></linearGradient>
<linearGradient id="door3r" x1="0" y1="0" x2="1" y2="0"><stop offset="0" stop-color="#e88636"/><stop offset="1" stop-color="#f8c8a0"/></linearGradient>
<linearGradient id="pan3a" x1="0" y1="0" x2="1" y2="0"><stop offset="0" stop-color="#d87020"/><stop offset="1" stop-color="#f8c8a0"/></linearGradient>
<linearGradient id="pan3b" x1="0" y1="1" x2="1" y2="0"><stop offset="0" stop-color="#d46a18"/><stop offset="1" stop-color="#f8d0b0"/></linearGradient>
<linearGradient id="win3" x1="0" y1="0" x2="1" y2="1"><stop offset="0" stop-color="#4666b8"/><stop offset="1" stop-color="#a8b8e4"/></linearGradient>
<linearGradient id="hatch3" x1="0" y1="2142" x2="0" y2="2177" gradientUnits="userSpaceOnUse"><stop offset="0" stop-color="#e57a28"/><stop offset="1" stop-color="#f5b88c"/></linearGradient>
<linearGradient id="pink3" x1="0" y1="2205" x2="0" y2="2305" gradientUnits="userSpaceOnUse"><stop offset="0" stop-color="#eec2c2"/><stop offset="1" stop-color="#f3e8e0"/></linearGradient>
<linearGradient id="cream3" x1="0" y1="0" x2="0" y2="1"><stop offset="0" stop-color="#fcd67c"/><stop offset="1" stop-color="#fff2d8"/></linearGradient>
<linearGradient id="lav3" x1="0" y1="0" x2="0" y2="1"><stop offset="0" stop-color="#7c7cc0"/><stop offset="1" stop-color="#e2e2f8"/></linearGradient>
<linearGradient id="lav3h" x1="0" y1="0" x2="1" y2="0"><stop offset="0" stop-color="#6868b4"/><stop offset=".5" stop-color="#d8d8f4"/><stop offset="1" stop-color="#7474bc"/></linearGradient>
<linearGradient id="tm3" x1="0" y1="2278" x2="0" y2="2372" gradientUnits="userSpaceOnUse"><stop offset="0" stop-color="#1c3484"/><stop offset=".45" stop-color="#5c62b0"/><stop offset="1" stop-color="#a4a4d8"/></linearGradient>
<linearGradient id="bogf3" x1="0" y1="2310" x2="0" y2="2385" gradientUnits="userSpaceOnUse"><stop offset="0" stop-color="#8484c6"/><stop offset="1" stop-color="#e4e4f8"/></linearGradient>
<linearGradient id="grn3" x1="0" y1="0" x2="1" y2="0"><stop offset="0" stop-color="#2f9e48"/><stop offset=".5" stop-color="#c4e8c8"/><stop offset="1" stop-color="#2f9e48"/></linearGradient>
<linearGradient id="grn3v" x1="0" y1="0" x2="0" y2="1"><stop offset="0" stop-color="#2f9e48"/><stop offset=".4" stop-color="#b4e0b8"/><stop offset="1" stop-color="#2f9e48"/></linearGradient>
<linearGradient id="dkb3" x1="0" y1="0" x2="0" y2="1"><stop offset="0" stop-color="#a0a4dc"/><stop offset=".5" stop-color="#34449c"/><stop offset="1" stop-color="#5a6ab8"/></linearGradient>
<linearGradient id="cons3" x1="0" y1="0" x2="1" y2="1"><stop offset="0" stop-color="#a04878"/><stop offset="1" stop-color="#e8c4d0"/></linearGradient>
<radialGradient id="hub3"><stop offset="0" stop-color="#fffbe0"/><stop offset=".5" stop-color="#f4c860"/><stop offset="1" stop-color="#d89838"/></radialGradient>
<radialGradient id="glow3"><stop offset="0" stop-color="#ffffff"/><stop offset=".4" stop-color="#d8d8f4" stop-opacity=".8"/><stop offset="1" stop-color="#8080c0" stop-opacity="0"/></radialGradient>
<pattern id="mesh3" width="5" height="7" patternUnits="userSpaceOnUse"><rect width="5" height="7" fill="#fdebb8"/><path d="M0,0L5,7M5,0L0,7" stroke="#f2b050" stroke-width=".7"/></pattern>
<pattern id="vstr3" width="3.6" height="10" patternUnits="userSpaceOnUse"><rect width="3.6" height="10" fill="#fbe6d4"/><rect width="1.1" height="10" fill="#f0a03c"/></pattern>
</defs>
<g id="loco3">
<g fill="none" stroke="#e07820">
<path d="M206,2036 L218,2036 L212,2043 Z" stroke-width="1"/><rect x="209.5" y="2043" width="4" height="4.5" stroke-width=".8" fill="#fbe0c0"/>
<path d="M213,2046 L303,2096 M213,2049 L300,2100" stroke-width="1.6"/><path d="M213,2047.5 L301,2098" stroke="#fbd8b8" stroke-width="1"/>
<path d="M302,2101 L222,2143 M305,2104 L226,2147" stroke-width="1.6"/><path d="M303.5,2102.500 L224,2145" stroke="#fbd8b8" stroke-width="1"/>
<path d="M230,2146 L278,2157" stroke-width="2.4"/>
</g>
<path d="M300,2093 L306,2094 L310,2104 L305,2107 L300,2102 Z" fill="#f0a868" stroke="#e07820" stroke-width=".8"/>
<path d="M218,2143 L226,2141 L233,2152 L228,2157 L222,2153 Z" fill="#f0a868" stroke="#e07820" stroke-width=".8"/>
<path d="M278,2153 L320,2166 L317,2178 L276,2161 Z" fill="url(#pan3a)" stroke="#e07820" stroke-width=".8"/><path d="M281,2154l-3,8M284,2155l-3,8M287,2156l-3,8M290,2157l-3,8" stroke="#e07820" stroke-width=".8"/>
<rect x="187" y="2155" width="225" height="3" fill="#f4b684" stroke="#e07820" stroke-width=".8"/>
<rect x="190" y="2158" width="6" height="19" fill="#f4b684" stroke="#e07820" stroke-width=".8"/>
<rect x="188" y="2160" width="10" height="2.6" rx="1.2" fill="#f0a060" stroke="#e07820" stroke-width=".8"/>
<rect x="188" y="2163.25" width="10" height="2.6" rx="1.2" fill="#f0a060" stroke="#e07820" stroke-width=".8"/>
<rect x="188" y="2166.5" width="10" height="2.6" rx="1.2" fill="#f0a060" stroke="#e07820" stroke-width=".8"/>
<rect x="188" y="2169.75" width="10" height="2.6" rx="1.2" fill="#f0a060" stroke="#e07820" stroke-width=".8"/>
<rect x="227" y="2158" width="6" height="19" fill="#f4b684" stroke="#e07820" stroke-width=".8"/>
<rect x="225" y="2160" width="10" height="2.6" rx="1.2" fill="#f0a060" stroke="#e07820" stroke-width=".8"/>
<rect x="225" y="2163.25" width="10" height="2.6" rx="1.2" fill="#f0a060" stroke="#e07820" stroke-width=".8"/>
<rect x="225" y="2166.5" width="10" height="2.6" rx="1.2" fill="#f0a060" stroke="#e07820" stroke-width=".8"/>
<rect x="225" y="2169.75" width="10" height="2.6" rx="1.2" fill="#f0a060" stroke="#e07820" stroke-width=".8"/>
<rect x="344" y="2148" width="9" height="8" fill="#f4b684" stroke="#e07820" stroke-width=".8"/>
<path d="M343.5,2157 L353.5,2157 L355.5,2161 L341.5,2161 Z" fill="#f0a868" stroke="#e07820" stroke-width=".8"/>
<path d="M341.5,2161.5 L355.5,2161.5 L357.5,2165.5 L339.5,2165.5 Z" fill="#f0a868" stroke="#e07820" stroke-width=".8"/>
<path d="M339.5,2166 L357.5,2166 L359.5,2170 L337.5,2170 Z" fill="#f0a868" stroke="#e07820" stroke-width=".8"/>
<path d="M338.5,2170.5 L358.5,2170.5 L360.5,2174.5 L336.5,2174.5 Z" fill="#f0a868" stroke="#e07820" stroke-width=".8"/>
<rect x="344" y="2174" width="9" height="4" fill="#f4b684" stroke="#e07820" stroke-width=".8"/>
<path d="M374,2151 H393 V2158 H386 V2162 H374 Z" fill="#f8d0b0" stroke="#e07820" stroke-width=".8"/>
<rect x="372" y="2163" width="14" height="2.6" rx="1.2" fill="#f0a868" stroke="#e07820" stroke-width=".8"/>
<rect x="371" y="2166.4" width="16" height="2.6" rx="1.2" fill="#f0a868" stroke="#e07820" stroke-width=".8"/>
<rect x="370" y="2169.8" width="18" height="2.6" rx="1.2" fill="#f0a868" stroke="#e07820" stroke-width=".8"/>
<rect x="375" y="2172" width="8" height="5" fill="#f4b684" stroke="#e07820" stroke-width=".8"/><ellipse cx="363.500" cy="2155.500" rx="1.6" ry="3.4" fill="#f4b684" stroke="#e07820" stroke-width=".8"/>
<path d="M353,2176.500 H397" stroke="#e07820" stroke-width=".8"/>
<path d="M56,2167 L60,2165 L80,2168 L86,2166 L87,2177 L80,2174 L60,2175 L56,2172 Z" fill="#ec9858" stroke="#e07820" stroke-width=".8"/>
<path d="M932,2175 L935,2173 L955,2174.500 L962,2172 L963,2181 L955,2179 L940,2180 L937,2185 L932,2185 Z" fill="#ec9858" stroke="#e07820" stroke-width=".8"/>
<path d="M415,2142 L642,2142 L660,2178 L397,2178 Z" fill="url(#hatch3)" stroke="#e07820" stroke-width=".8"/>
<path d="M413.0,2158H644.0M411.1,2161.8H645.9M409.2,2165.6H647.8M407.3,2169.4H649.7M405.4,2173.2H651.6" stroke="#fbd4b4" stroke-width="1.1"/>
<path d="M425,2157V2176M460,2157V2176M494,2157V2176M528,2157V2176M562,2157V2176M596,2157V2176M630,2157V2176" stroke="#e88a40" stroke-width="1.6"/>
<rect x="224" y="2200" width="178" height="88" fill="#f0e2e8"/>
<rect x="226" y="2201" width="10.500" height="82" fill="url(#mesh3)"/>
<rect x="238" y="2201" width="42" height="34.500" fill="#fcecc8" stroke="#f2b050" stroke-width=".7"/>
<rect x="246" y="2205" width="12" height="15" fill="url(#hatch3)" stroke="#e07820" stroke-width=".8"/><rect x="264" y="2205" width="10" height="21" fill="url(#hatch3)" stroke="#e07820" stroke-width=".8"/>
<path d="M250,2220h4v5h-4zM252,2225V2235M269,2226V2235" fill="#f8c8a0" stroke="#e07820" stroke-width=".8"/>
<rect x="241" y="2235" width="48" height="48" fill="url(#mesh3)" stroke="#e07820" stroke-width=".8"/>
<path d="M327,2288 V2218 H396 V2288" fill="none" stroke="#f2b050" stroke-width="1"/>
<rect x="331" y="2222" width="38" height="42" fill="url(#mesh3)" stroke="#f2b050" stroke-width=".8"/>
<rect x="372" y="2222" width="19.5" height="42" fill="url(#mesh3)" stroke="#f2b050" stroke-width=".8"/>
<rect x="331" y="2268" width="38" height="20" fill="url(#mesh3)" stroke="#f2b050" stroke-width=".8"/>
<rect x="372" y="2268" width="19.5" height="20" fill="url(#mesh3)" stroke="#f2b050" stroke-width=".8"/>
<rect x="470" y="2203" width="135" height="84" fill="url(#vstr3)"/>
<path d="M616,2204 L960,2207 L940,2245 L951,2246 L977,2252 L993,2258 L999,2270 L985,2290 L900,2335 L640,2335 L616,2300 Z" fill="url(#pink3)"/>
<path d="M951,2246 L977,2252 L993,2258 L999,2270 L985,2273 L975,2278 L960,2283 L951,2284 Z" fill="#e9dcda" stroke="#e07820" stroke-width=".7"/>
<circle cx="142" cy="2350" r="36" fill="#6c6cba" stroke="#3c4aa0" stroke-width="1"/><circle cx="142" cy="2350" r="33" fill="none" stroke="#c8c8ee" stroke-width=".8"/>
<circle cx="309" cy="2350" r="35.5" fill="#6c6cba" stroke="#3c4aa0" stroke-width="1"/><circle cx="309" cy="2350" r="32.5" fill="none" stroke="#c8c8ee" stroke-width=".8"/>
<path d="M78,2325 L352,2325 L350,2350 L340,2362 L275,2368 L270,2376 L182,2376 L178,2368 L112,2362 L100,2348 L84,2345 Z" fill="#8a8ac8" stroke="#3c4aa0" stroke-width=".8"/>
<rect x="112" y="2332" width="60" height="28" fill="#7a7ac0" stroke="#3c4aa0" stroke-width=".8"/>
<rect x="115" y="2335" width="15" height="22" fill="#c8c8ee"/><path d="M115,2336l15,2l-15,2l15,2l-15,2l15,2l-15,2l15,2l-15,2l15,2l-15,2" fill="none" stroke="#3c4aa0" stroke-width=".9"/>
<rect x="154" y="2335" width="15" height="22" fill="#c8c8ee"/><path d="M154,2336l15,2l-15,2l15,2l-15,2l15,2l-15,2l15,2l-15,2l15,2l-15,2" fill="none" stroke="#3c4aa0" stroke-width=".9"/>
<rect x="279" y="2332" width="60" height="28" fill="#7a7ac0" stroke="#3c4aa0" stroke-width=".8"/>
<rect x="282" y="2335" width="15" height="22" fill="#c8c8ee"/><path d="M282,2336l15,2l-15,2l15,2l-15,2l15,2l-15,2l15,2l-15,2l15,2l-15,2" fill="none" stroke="#3c4aa0" stroke-width=".9"/>
<rect x="321" y="2335" width="15" height="22" fill="#c8c8ee"/><path d="M321,2336l15,2l-15,2l15,2l-15,2l15,2l-15,2l15,2l-15,2l15,2l-15,2" fill="none" stroke="#3c4aa0" stroke-width=".9"/>
<circle cx="142" cy="2348" r="10" fill="url(#hub3)" stroke="#c88828" stroke-width=".8"/>
<path d="M298,2352 A10,10 0 0 1 318,2352 Z" fill="url(#hub3)" stroke="#c88828" stroke-width=".8"/>
<path d="M84,2325.500 H352 V2331 H84 Z" fill="#3a4a9a" opacity=".55"/>
<path d="M106,2362 L178,2358 L183,2368 L150,2366 L118,2372 Z M345,2362 L273,2358 L268,2368 L300,2366 L334,2372 Z" fill="#c0c0ea" stroke="#3c4aa0" stroke-width=".8"/>
<path d="M195,2340 Q195,2328 207,2328 H245 Q257,2328 257,2340 V2376 H195 Z" fill="url(#lav3)" stroke="#3c4aa0" stroke-width=".8"/>
<path d="M205,2345 Q205,2337 214,2337 H238 Q248,2337 248,2346 V2356 Q240,2368 226,2368 Q212,2368 205,2357 Z" fill="#dca048" stroke="#3c4aa0" stroke-width=".8"/><path d="M207,2358 Q226,2372 246,2358" fill="none" stroke="#f8dc9c" stroke-width="1.4"/>
<rect x="181" y="2338" width="14" height="30" fill="url(#lav3)" stroke="#3c4aa0" stroke-width=".8"/><rect x="181" y="2338" width="14" height="9" fill="#4858a8"/><rect x="181" y="2358" width="14" height="4" fill="#4858a8"/>
<rect x="257" y="2338" width="14" height="30" fill="url(#lav3)" stroke="#3c4aa0" stroke-width=".8"/><rect x="257" y="2338" width="14" height="9" fill="#4858a8"/><rect x="257" y="2358" width="14" height="4" fill="#4858a8"/>
<path d="M44,2340 H66 V2355 L58,2358 L55,2368 H37 V2350 L44,2348 Z" fill="url(#dkb3)" stroke="#3c4aa0" stroke-width=".8"/>
<path d="M66,2340 L100,2332 L112,2340 L100,2350 L84,2346 L66,2352 Z" fill="#b4b4e2" stroke="#3c4aa0" stroke-width=".8"/>
<path d="M345,2327 H404 V2350 L398,2357 H352 Z" fill="url(#lav3)" stroke="#3c4aa0" stroke-width=".8"/>
<ellipse cx="362" cy="2338" rx="6" ry="9" fill="#c8c8ee" stroke="#3c4aa0" stroke-width=".8"/>
<path d="M405,2327 H594 V2338 H600 V2334 H608 V2350 H595 L592,2357 H418 L415,2352 L405,2350 Z" fill="url(#lav3)" stroke="#3c4aa0" stroke-width=".8"/>
<path d="M424,2358 H550 V2374 H538 V2378 H468 V2376 H424 Z" fill="url(#lav3h)" stroke="#3c4aa0" stroke-width=".8"/>
<rect x="468" y="2358" width="70" height="20" fill="url(#lav3h)" stroke="#3c4aa0" stroke-width=".8"/><rect x="430" y="2358" width="6" height="18" fill="#d8d8f4" stroke="#3c4aa0" stroke-width=".8"/><rect x="440" y="2358" width="18" height="18" fill="url(#lav3h)" stroke="#3c4aa0" stroke-width=".8"/>
<path d="M607,2328 H629 V2360 L632,2362 V2368 L637,2370 V2382 H600 V2370 L604,2368 V2362 L607,2360 Z" fill="url(#grn3)" stroke="#2f8e40" stroke-width=".8"/><path d="M604,2362H632M600,2370H637" stroke="#2f8e40" stroke-width=".7"/>
<circle cx="707" cy="2355" r="38" fill="#6c6cba" stroke="#3c4aa0" stroke-width="1"/><circle cx="707" cy="2355" r="35" fill="none" stroke="#c8c8ee" stroke-width=".8"/>
<circle cx="869" cy="2355" r="38" fill="#6c6cba" stroke="#3c4aa0" stroke-width="1"/><circle cx="869" cy="2355" r="35" fill="none" stroke="#c8c8ee" stroke-width=".8"/>
<path d="M646,2306 H735 V2314 L680,2327 L668,2340 L664,2362 L650,2356 L648,2330 Z" fill="url(#lav3)" stroke="#3c4aa0" stroke-width=".8"/>
<ellipse cx="641" cy="2337" rx="9" ry="19" fill="#8c8cca" stroke="#3c4aa0" stroke-width=".8"/><ellipse cx="641" cy="2337" rx="5" ry="13" fill="#c4c4ec" stroke="#3c4aa0" stroke-width=".8"/>
<path d="M680,2326 L733,2313 L734,2306 L745,2306 L745,2320 L832,2320 L832,2306 L843,2306 L844,2314 L896,2326 C904,2336 908,2350 905,2362 L880,2372 L848,2378 L728,2378 L698,2372 L672,2362 C668,2350 672,2336 680,2326 Z" fill="url(#bogf3)" stroke="#3c4aa0" stroke-width=".8"/>
<path d="M722,2372 L741,2371 L738,2381 L720,2382 Z M854,2372 L835,2371 L838,2381 L856,2382 Z" fill="#7a7ac0" stroke="#3c4aa0" stroke-width=".8"/>
<path d="M645,2358 L730,2375 M912,2362 L846,2375" stroke="#3c4aa0" stroke-width="2.6"/><path d="M645,2358 L730,2375 M912,2362 L846,2375" stroke="#d8d8f4" stroke-width="1.1"/>
<circle cx="705" cy="2355" r="4" fill="url(#glow3)" stroke="#7070b8" stroke-width=".6"/><circle cx="869" cy="2355" r="4" fill="url(#glow3)" stroke="#7070b8" stroke-width=".6"/>
<path d="M743,2278 H833 V2318 A46,47 0 1 1 743,2318 Z" fill="url(#tm3)" stroke="#26347e" stroke-width=".8"/>
<path d="M742,2318 A47,48 0 1 0 835,2318" fill="none" stroke="#e3a030" stroke-width="1.6"/>
<rect x="767" y="2284" width="39" height="19" fill="#6a6aa8" stroke="#1a2468" stroke-width="1"/>
<circle cx="788" cy="2324" r="11" fill="url(#glow3)"/>
<path d="M946,2348 H968 V2358 L971,2360 V2376 H963 L946,2364 Z" fill="url(#dkb3)" stroke="#3c4aa0" stroke-width=".8"/>
<path d="M584,2204 L616,2204 L616,2298 L600,2285 L595,2280 L585,2262 L587,2250 L584,2235 L588,2220 Z" fill="url(#pan3b)"/>
<rect x="616" y="2205" width="5" height="93" fill="#f8e8e8"/>
<path d="M621,2205 H647 V2303 L621,2299 Z" fill="url(#pan3a)" stroke="#e07820" stroke-width=".8"/>
<path d="M681,2270 L688,2260 H712 L719,2268 V2294 H681 Z" fill="#f6d9a8" stroke="#f0b868" stroke-width="1"/><rect x="693" y="2246" width="7.500" height="9" fill="#f6d9a8" stroke="#f0b868" stroke-width="1"/><path d="M696.500,2255V2260" stroke="#f0b868"/>
<path d="M712,2261 Q719,2260 719,2252 V2230 Q719,2224 725,2224 H738" fill="none" stroke="#f0b868" stroke-width="3.6"/><path d="M712,2261 Q719,2260 719,2252 V2230 Q719,2224 725,2224 H738" fill="none" stroke="#f6d9a8" stroke-width="2"/>
<rect x="737" y="2207" width="50" height="63" fill="url(#cream3)" stroke="#f2b040" stroke-width=".8"/>
<rect x="744" y="2241" width="29" height="37" fill="url(#cream3)" stroke="#f2b040" stroke-width=".8"/><rect x="803" y="2241" width="29" height="37" fill="url(#cream3)" stroke="#f2b040" stroke-width=".8"/>
<path d="M647,2304.500 H725.500 V2271.500 H850 V2308 H910" fill="none" stroke="#e07820" stroke-width="3.4"/><path d="M647,2304.500 H725.500 V2271.500 H850 V2308 H910" fill="none" stroke="#f8c8a0" stroke-width="1.4"/>
<path d="M850,2207 V2308 M854,2207 V2304" fill="none" stroke="#e88a40" stroke-width="1.6"/>
<path d="M743,2278 H833 V2318 A46,47 0 1 1 743,2318 Z" fill="url(#tm3)" stroke="#26347e" stroke-width=".8"/>
<path d="M742,2318 A47,48 0 1 0 835,2318" fill="none" stroke="#e3a030" stroke-width="1.6"/>
<rect x="767" y="2284" width="39" height="19" fill="#6a6aa8" stroke="#1a2468" stroke-width="1"/>
<circle cx="788" cy="2324" r="11" fill="url(#glow3)"/>
<rect x="861" y="2207" width="29" height="94" fill="url(#door3r)" stroke="#e07820" stroke-width=".8"/>
<rect x="866" y="2214" width="20" height="30" rx="1.5" fill="url(#win3)" stroke="#3050a0" stroke-width=".8"/>
<path d="M888,2258 Q890,2255 891.500,2258 Q893,2268 889.500,2280 L887.500,2279 Q890,2268 888,2258 Z" fill="#d8a0b8" stroke="#9a3868" stroke-width=".8"/>
<path d="M889,2281 Q889,2277.500 895,2277.500 H908 Q913.500,2277.500 913.500,2281 Q913.500,2284.500 908,2284.500 H895 Q889,2284.500 889,2281 Z" fill="#d8a0b8" stroke="#9a3868" stroke-width=".8"/>
<path d="M899,2285 V2295 M899,2292 L893,2303 M899,2292 L906,2303 M899,2292 L896,2303 M899,2292 L902.500,2303" fill="none" stroke="#b05080" stroke-width="1.1"/><rect x="890" y="2303.500" width="19" height="3" fill="#30a040"/>
<path d="M905,2248 L920,2246 L928,2246 L931,2238 L936,2236 L940,2240 L941,2265 L931,2274 L924,2268 L924,2264 L905,2264 Z" fill="url(#cons3)" stroke="#8a3060" stroke-width=".8"/>
<path d="M952,2247 V2284 M974,2252 V2277" stroke="#30a040" stroke-width="2.2"/><path d="M952,2260.500 H974 M952,2272.500 H974" stroke="#30a040" stroke-width="2"/>
<path d="M960,2207 L967.500,2207 L947,2245 L940,2245 Z" fill="url(#win3)" stroke="#3050a0" stroke-width=".8"/>
<path d="M50,2200 L226,2200 L224,2215 L227,2232 L223,2250 L226,2268 L225,2278 L240,2283 L289,2282 L300,2285 L330,2283 L400,2286 L400,2200 L476,2200 L478,2215 L482,2225 L477,2240 L479,2255 L476,2268 L464,2284 L600,2285 L616,2298 L645,2302 L648,2308 L645,2322 L640,2326 L100,2325 L70,2337 L34,2337 L33,2312 L28,2290 L15,2258 L22,2248 L70,2237 L66,2236 Z" fill="url(#body3)" stroke="#e07820" stroke-width=".8"/>
<path d="M51,2202 L55.500,2202 L70,2231 L66,2237 L60,2226 Z" fill="url(#win3)" stroke="#3050a0" stroke-width=".8"/>
<path d="M22,2252 L30,2280 L34,2300 M70,2238 L73,2260 V2300" fill="none" stroke="#e83c20" stroke-width=".7"/>
<rect x="127" y="2200.500" width="26" height="94.500" fill="url(#door3)" stroke="#e07820" stroke-width=".8"/>
<rect x="130" y="2208" width="20" height="30" rx="1.5" fill="url(#win3)" stroke="#3050a0" stroke-width=".8"/>
<path d="M122,2226 V2315 M158,2226 V2315" stroke="#f8dca4" stroke-width="2"/><path d="M122,2226 V2315 M158,2226 V2315" stroke="#e8a050" stroke-width=".4"/>
<rect x="119.5" y="2223" width="5" height="5" rx="1" fill="#f8dca4" stroke="#e8a050" stroke-width=".5"/><rect x="119.5" y="2312.500" width="5" height="5" rx="1" fill="#f8dca4" stroke="#e8a050" stroke-width=".5"/>
<rect x="155.5" y="2223" width="5" height="5" rx="1" fill="#f8dca4" stroke="#e8a050" stroke-width=".5"/><rect x="155.5" y="2312.500" width="5" height="5" rx="1" fill="#f8dca4" stroke="#e8a050" stroke-width=".5"/>
<path d="M82,2238.500 H111 M82,2236 V2241 M111,2236 V2241" stroke="#f8dca4" stroke-width="1.2"/>
<path d="M131,2314 Q131,2306.500 140.500,2306.500 Q150,2306.500 150,2314 Z" fill="#e42420"/>
<circle cx="417" cy="2213" r="3.300" fill="#c4c4f0" stroke="#6868b8" stroke-width="1"/>
<circle cx="420" cy="2261" r="3.300" fill="#c4c4f0" stroke="#6868b8" stroke-width="1"/>
<circle cx="443" cy="2261" r="3.300" fill="#c4c4f0" stroke="#6868b8" stroke-width="1"/>
<circle cx="466" cy="2261" r="3.300" fill="#c4c4f0" stroke="#6868b8" stroke-width="1"/>
<circle cx="601" cy="2213" r="3.300" fill="#c4c4f0" stroke="#6868b8" stroke-width="1"/>
<circle cx="598" cy="2261" r="3.300" fill="#c4c4f0" stroke="#6868b8" stroke-width="1"/>
<path d="M45,2199 L58,2177 L620,2178 L960,2186 L968,2207 L620,2204 L400,2201 Z" fill="url(#roof3)" stroke="#f19a1c" stroke-width=".8"/>
<path d="M999,2270 L985,2273 L975,2278 L960,2283 L945,2285 L932,2290 L912,2296 L908,2310 L902,2325 L897,2333 L920,2340 L940,2346 L976,2346 L978,2310 L985,2295 Z" fill="url(#nose3)" stroke="#e07820" stroke-width=".8"/>
<path d="M12,2262 L18,2262 L20,2275 L14,2275 Z M16,2282 L24,2282 L25,2297 L17,2297 Z" fill="url(#grn3)" stroke="#2f8e40" stroke-width=".7"/><rect x="11" y="2298" width="15" height="2.600" fill="#3aa850"/>
<rect x="8" y="2320" width="23" height="13.500" fill="url(#grn3v)" stroke="#2f8e40" stroke-width=".7"/><rect x="4" y="2322" width="4.500" height="9" fill="#3aa850"/><ellipse cx="3" cy="2326.500" rx="2.200" ry="12" fill="#3aa850" stroke="#2f8e40" stroke-width=".6"/>
<path d="M14,2334 L12,2346 M28,2334 V2346" stroke="#1a1a1a" stroke-width="1"/><path d="M7,2340 L28,2348" stroke="#1a1a1a" stroke-width="3"/><path d="M17,2344 L11,2357" stroke="#1a1a1a" stroke-width="1.300"/>
<path d="M978,2290 L995,2290 L996,2305 L985,2307 L982,2325 L980,2342 L976,2342 Z" fill="url(#grn3)" stroke="#2f8e40" stroke-width=".7"/>
<rect x="982" y="2328" width="23" height="12.500" fill="url(#grn3v)" stroke="#2f8e40" stroke-width=".7"/><rect x="1005" y="2330" width="4.500" height="9" fill="#3aa850"/><ellipse cx="1011.500" cy="2334.500" rx="2.400" ry="12" fill="#3aa850" stroke="#2f8e40" stroke-width=".6"/>
<path d="M985.500,2343 L986,2358" stroke="#1a1a1a" stroke-width="1"/><path d="M984,2357 L1006,2349" stroke="#1a1a1a" stroke-width="3"/><path d="M995,2353 L1001,2365" stroke="#1a1a1a" stroke-width="1.300"/>
</g>
<g class="ld">
<polyline points="165,134 395,134"/>
<polyline points="414,134 693,134"/>
<polyline points="708,134 885,134"/>
<polyline points="394.5,218 394.5,497"/>
<polyline points="373.5,265 373.5,492"/>
<polyline points="299,335 299,497"/>
<polyline points="222.5,350 222.5,506"/>
<polyline points="444.5,294 444.5,392"/>
<polyline points="608.5,189 608.5,402"/>
<polyline points="644,287 644,382 619,402"/>
<polyline points="804,247 804,334"/>
<polyline points="725,360 725,415"/>
<polyline points="593,370 593,428 580,428"/>
<polyline points="941,370 842,449"/>
<polyline points="53,551 53,692"/>
<polyline points="73.5,610 73.5,665"/>
<polyline points="256.5,560 256.5,677"/>
<polyline points="307.5,625 307.5,648"/>
<polyline points="415.5,605 415.5,658"/>
<polyline points="535.5,595 535.5,716"/>
<polyline points="595.5,595 595.5,658"/>
<polyline points="661.5,605 661.5,748"/>
<polyline points="782,560 782,650"/>
<polyline points="907,580 938,650"/>
<polyline points="269,1122 269,1315"/>
<polyline points="288,1107 288,1362"/>
<polyline points="237,1190 237,1360"/>
<polyline points="186,1245 186,1345"/>
<polyline points="344,1297 344,1259 388,1259 388,1300"/>
<polyline points="430,1182 430,1337"/>
<polyline points="482,1106 482,1320"/>
<polyline points="522,1130 522,1352"/>
<polyline points="558,1182 558,1380"/>
<polyline points="684.5,1272 684.5,1297"/>
<polyline points="822,1397 822,1259 856,1259 856,1302"/>
<polyline points="951,1218 951,1380"/>
<polyline points="223,1457 223,1580"/>
<polyline points="232.5,1477 232.5,1594"/>
<polyline points="419,1380 419,1582"/>
<polyline points="442,1407 442,1540"/>
<polyline points="571,1495 571,1570"/>
<polyline points="643,1495 658,1576"/>
<polyline points="809,1472 809,1580"/>
<polyline points="998,1495 998,1555"/>
<polyline points="38,2012 49,2000 972,2000 982,2014"/>
<polyline points="234,2084 272.5,2084"/>
<polyline points="0.5,2125 0.5,2205 14,2226"/>
<polyline points="381,2118 381,2160"/>
<polyline points="452,2071 452,2227"/>
<polyline points="640,2090 640,2230"/>
<polyline points="693,2058 693,2270"/>
<polyline points="761,2125 761,2277"/>
<polyline points="910,2157 925,2157 925,2257"/>
<polyline points="139,2412 200,2357"/>
<polyline points="276,2265 276,2450"/>
<polyline points="353,2265 353,2405"/>
<polyline points="498,2372 498,2450"/>
<polyline points="661,2320 661,2392"/>
<polyline points="786.5,2350 786.5,2415"/>
<polyline points="993,2355 993,2417"/>
</g>
<path d="M20,2233 L10,2227 L16,2222 Z" fill="#1c1c1c"/>
<g>
<text x="2" y="17" textLength="414" lengthAdjust="spacingAndGlyphs" xml:space="preserve"><tspan class="b">locomotora de vapor (232 U, </tspan><tspan class="bi">compound</tspan><tspan class="b">)</tspan></text>
<text x="83" y="118" textLength="81" lengthAdjust="spacingAndGlyphs">caldeira:</text>
<text x="219" y="118" textLength="134" lengthAdjust="spacingAndGlyphs">caixa de lume</text>
<text x="497" y="118" textLength="151" lengthAdjust="spacingAndGlyphs">corpo cilíndrico</text>
<text x="733" y="118" textLength="136" lengthAdjust="spacingAndGlyphs">caixa de fume</text>
<text x="151" y="196" textLength="183" lengthAdjust="spacingAndGlyphs">tubos de fume con</text>
<text x="107" y="218" textLength="282" lengthAdjust="spacingAndGlyphs">elementos sobrequentadores</text>
<text x="127" y="274" textLength="243" lengthAdjust="spacingAndGlyphs">tubos pequenos de fume</text>
<text x="51" y="303" textLength="296" lengthAdjust="spacingAndGlyphs">bóveda de ladrillos refractarios</text>
<text x="27" y="325" textLength="343" lengthAdjust="spacingAndGlyphs">soportada polos tubos de ebulición</text>
<text x="162" y="357" textLength="58" lengthAdjust="spacingAndGlyphs">fogón</text>
<text x="403" y="260" textLength="96" lengthAdjust="spacingAndGlyphs">válvula de</text>
<text x="398" y="281" textLength="106" lengthAdjust="spacingAndGlyphs">seguridade</text>
<text x="532" y="164" textLength="136" lengthAdjust="spacingAndGlyphs">lugar de toma</text>
<text x="557" y="185" textLength="87" lengthAdjust="spacingAndGlyphs">do vapor</text>
<text x="634" y="230" textLength="93" lengthAdjust="spacingAndGlyphs">regulador</text>
<text x="643" y="252" textLength="74" lengthAdjust="spacingAndGlyphs">(válvula</text>
<text x="618" y="274" textLength="126" lengthAdjust="spacingAndGlyphs">de admisión)</text>
<text x="772" y="237" textLength="129" lengthAdjust="spacingAndGlyphs">escape dobre</text>
<text x="846" y="317" textLength="169" lengthAdjust="spacingAndGlyphs">tubo de admisión</text>
<text x="874" y="338" textLength="113" lengthAdjust="spacingAndGlyphs">de vapor ós</text>
<text x="874" y="360" textLength="111" lengthAdjust="spacingAndGlyphs">cilindros AP</text>
<text x="655" y="336" textLength="78" lengthAdjust="spacingAndGlyphs">colector</text>
<text x="651" y="357" textLength="86" lengthAdjust="spacingAndGlyphs">de vapor</text>
<text x="490" y="361" textLength="69" lengthAdjust="spacingAndGlyphs">mando</text>
<text x="462" y="382" textLength="126" lengthAdjust="spacingAndGlyphs">do regulador</text>
<text x="78" y="668" textLength="157" lengthAdjust="spacingAndGlyphs">entrada de auga</text>
<text x="113" y="690" textLength="92" lengthAdjust="spacingAndGlyphs" xml:space="preserve">do <tspan class="i">tender</tspan></text>
<text x="5" y="716" textLength="187" lengthAdjust="spacingAndGlyphs">cargador mecánico</text>
<text x="53" y="737" textLength="97" lengthAdjust="spacingAndGlyphs">de carbón</text>
<text x="238" y="700" textLength="95" lengthAdjust="spacingAndGlyphs">enreixado</text>
<text x="296" y="666" textLength="73" lengthAdjust="spacingAndGlyphs">cinseiro</text>
<text x="402" y="678.5" textLength="44" lengthAdjust="spacingAndGlyphs">biela</text>
<text x="381" y="701" textLength="85" lengthAdjust="spacingAndGlyphs">de unión</text>
<text x="267" y="736" textLength="389" lengthAdjust="spacingAndGlyphs">eixe motor accionado polos cilindros BP</text>
<text x="573" y="678.5" textLength="44" lengthAdjust="spacingAndGlyphs">biela</text>
<text x="549" y="700" textLength="91" lengthAdjust="spacingAndGlyphs">motriz BP</text>
<text x="679" y="676" textLength="151" lengthAdjust="spacingAndGlyphs">cilindro exterior</text>
<text x="714" y="697" textLength="81" lengthAdjust="spacingAndGlyphs">de baixa</text>
<text x="696" y="719" textLength="118" lengthAdjust="spacingAndGlyphs">presión (BP)</text>
<text x="851" y="677" textLength="147" lengthAdjust="spacingAndGlyphs">cilindro interior</text>
<text x="830" y="699" textLength="189" lengthAdjust="spacingAndGlyphs">de alta presión (AP)</text>
<text x="635" y="770" textLength="388" lengthAdjust="spacingAndGlyphs">eixe motor accionado polos cilindros AP</text>
<text x="9" y="961" textLength="405" lengthAdjust="spacingAndGlyphs" xml:space="preserve"><tspan class="b">locomotora diesel eléctrica (BB 67 400)</tspan></text>
<text x="293" y="1102" textLength="77" lengthAdjust="spacingAndGlyphs">aparello</text>
<text x="293" y="1124" textLength="116" lengthAdjust="spacingAndGlyphs">pneumático</text>
<text x="171" y="1124" textLength="97" lengthAdjust="spacingAndGlyphs">ventilador</text>
<text x="389" y="1155" textLength="58" lengthAdjust="spacingAndGlyphs">grupo</text>
<text x="364" y="1177" textLength="109" lengthAdjust="spacingAndGlyphs">rectificador</text>
<text x="159" y="1181" textLength="74" lengthAdjust="spacingAndGlyphs">baterías</text>
<text x="67" y="1203" textLength="166" lengthAdjust="spacingAndGlyphs">de acumuladores</text>
<text x="21" y="1237" textLength="164" lengthAdjust="spacingAndGlyphs">armario de baixa</text>
<text x="115" y="1258" textLength="70" lengthAdjust="spacingAndGlyphs">tensión</text>
<text x="296" y="1252" textLength="125" lengthAdjust="spacingAndGlyphs">filtros de aire</text>
<text x="431" y="1240" textLength="173" lengthAdjust="spacingAndGlyphs">grupo rectificador</text>
<text x="478" y="1099" textLength="224" lengthAdjust="spacingAndGlyphs">escape do motor diesel</text>
<text x="516" y="1124" textLength="157" lengthAdjust="spacingAndGlyphs">turbocompresor</text>
<text x="627" y="1170" textLength="150" lengthAdjust="spacingAndGlyphs">motor diesel de</text>
<text x="561" y="1192" textLength="281" lengthAdjust="spacingAndGlyphs">16 cilindros sobrealimentado</text>
<text x="919" y="1185" textLength="93" lengthAdjust="spacingAndGlyphs">cabina de</text>
<text x="910" y="1206" textLength="111" lengthAdjust="spacingAndGlyphs">conducción</text>
<text x="785" y="1229" textLength="117" lengthAdjust="spacingAndGlyphs">radiadores e</text>
<text x="785" y="1251" textLength="116" lengthAdjust="spacingAndGlyphs">ventiladores</text>
<text x="627" y="1266" textLength="118" lengthAdjust="spacingAndGlyphs">filtro do aire</text>
<text x="126" y="1569" textLength="90" lengthAdjust="spacingAndGlyphs">motor de</text>
<text x="152" y="1590" textLength="64" lengthAdjust="spacingAndGlyphs">tracció</text>
<text x="229" y="1611" textLength="82" lengthAdjust="spacingAndGlyphs">reductor</text>
<text x="342" y="1584" textLength="73" lengthAdjust="spacingAndGlyphs">xerador</text>
<text x="347" y="1606" textLength="69" lengthAdjust="spacingAndGlyphs">auxiliar</text>
<text x="450" y="1537" textLength="100" lengthAdjust="spacingAndGlyphs">alternador</text>
<text x="450" y="1559" textLength="84" lengthAdjust="spacingAndGlyphs">principal</text>
<text x="526" y="1584" textLength="82" lengthAdjust="spacingAndGlyphs">depósito</text>
<text x="556" y="1606" textLength="22" lengthAdjust="spacingAndGlyphs">de</text>
<text x="507" y="1628" textLength="120" lengthAdjust="spacingAndGlyphs">combustible</text>
<text x="663" y="1584" textLength="82" lengthAdjust="spacingAndGlyphs">depósito</text>
<text x="672" y="1606" textLength="65" lengthAdjust="spacingAndGlyphs">de aire</text>
<text x="645" y="1628" textLength="119" lengthAdjust="spacingAndGlyphs">comprimido</text>
<text x="813" y="1585" textLength="89" lengthAdjust="spacingAndGlyphs">motor de</text>
<text x="813" y="1607" textLength="76" lengthAdjust="spacingAndGlyphs">tracción</text>
<text x="968" y="1576" textLength="43" lengthAdjust="spacingAndGlyphs">tope</text>
<text x="5" y="1909" textLength="339" lengthAdjust="spacingAndGlyphs" xml:space="preserve"><tspan class="b">locomotora eléctrica (BB 15 000)</tspan></text>
<text x="488" y="1989" textLength="49" lengthAdjust="spacingAndGlyphs">caixa</text>
<text x="354" y="2042" textLength="172" lengthAdjust="spacingAndGlyphs">equipo eléctrico e</text>
<text x="122" y="2091" textLength="106" lengthAdjust="spacingAndGlyphs">pantógrafo</text>
<text x="5" y="2097" textLength="67" lengthAdjust="spacingAndGlyphs">cabeza</text>
<text x="9" y="2118" textLength="63" lengthAdjust="spacingAndGlyphs">frontal</text>
<text x="319" y="2113" textLength="91" lengthAdjust="spacingAndGlyphs">disxuntor</text>
<text x="531" y="2085" textLength="104" lengthAdjust="spacingAndGlyphs">armario de</text>
<text x="516" y="2107" textLength="119" lengthAdjust="spacingAndGlyphs">dirección do</text>
<text x="461" y="2129" textLength="174" lengthAdjust="spacingAndGlyphs">grupo rectificador</text>
<text x="616" y="2048" textLength="156" lengthAdjust="spacingAndGlyphs">motocompresor</text>
<text x="701" y="2096" textLength="181" lengthAdjust="spacingAndGlyphs">armario do equipo</text>
<text x="734" y="2118" textLength="116" lengthAdjust="spacingAndGlyphs">pneumático</text>
<text x="802" y="2152" textLength="100" lengthAdjust="spacingAndGlyphs">pupitre de</text>
<text x="796" y="2173" textLength="112" lengthAdjust="spacingAndGlyphs">conducción</text>
<text x="2" y="2414" textLength="133" lengthAdjust="spacingAndGlyphs" xml:space="preserve"><tspan class="i">bogie</tspan> de dous</text>
<text x="1" y="2435" textLength="134" lengthAdjust="spacingAndGlyphs">eixes motores</text>
<text x="198" y="2447" textLength="74" lengthAdjust="spacingAndGlyphs">baterías</text>
<text x="107" y="2468" textLength="165" lengthAdjust="spacingAndGlyphs">de acumuladores</text>
<text x="347" y="2426" textLength="139" lengthAdjust="spacingAndGlyphs">protectores de</text>
<text x="347" y="2447" textLength="123" lengthAdjust="spacingAndGlyphs">sobretensión</text>
<text x="505" y="2443" textLength="138" lengthAdjust="spacingAndGlyphs">transformador</text>
<text x="505" y="2464" textLength="83" lengthAdjust="spacingAndGlyphs">principal</text>
<text x="655" y="2417" textLength="77" lengthAdjust="spacingAndGlyphs">bastidor</text>
<text x="745" y="2437" textLength="89" lengthAdjust="spacingAndGlyphs">motor de</text>
<text x="751" y="2459" textLength="77" lengthAdjust="spacingAndGlyphs">tracción</text>
<text x="923" y="2439" textLength="94" lengthAdjust="spacingAndGlyphs">enganche</text>
</g>
</svg></body></html>
